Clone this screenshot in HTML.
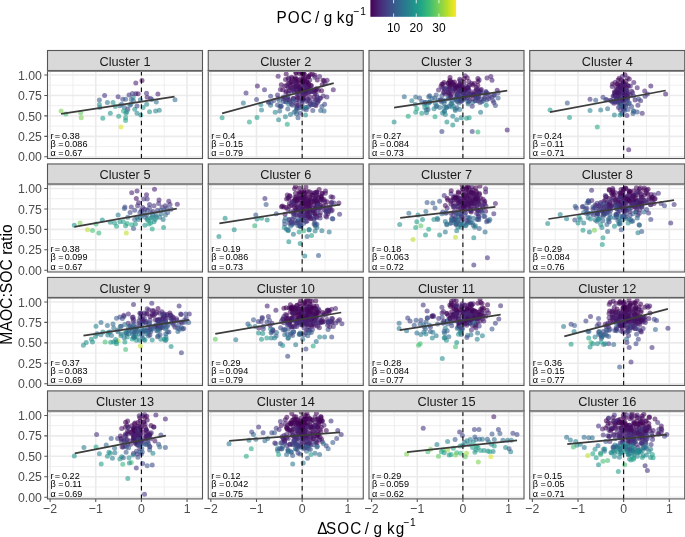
<!DOCTYPE html><html><head><meta charset="utf-8"><style>html,body{margin:0;padding:0;background:#fff;overflow:hidden}svg{display:block;will-change:transform}text{font-family:"Liberation Sans",sans-serif}</style></head><body>
<svg width="685" height="537" viewBox="0 0 685 537">
<defs><linearGradient id="vg" x1="0" x2="1" y1="0" y2="0"><stop offset="0.0" stop-color="#440154"/><stop offset="0.1" stop-color="#482576"/><stop offset="0.2" stop-color="#414487"/><stop offset="0.3" stop-color="#35608D"/><stop offset="0.4" stop-color="#2A788E"/><stop offset="0.5" stop-color="#21908C"/><stop offset="0.6" stop-color="#22A884"/><stop offset="0.7" stop-color="#43BF71"/><stop offset="0.8" stop-color="#7AD151"/><stop offset="0.9" stop-color="#BBDF27"/><stop offset="1.0" stop-color="#FDE725"/></linearGradient></defs>
<rect width="685" height="537" fill="#fff"/>
<g>
<rect x="47.50" y="70.50" width="155.00" height="88.00" fill="#fff"/>
<path d="M72.93 70.50V158.50M118.58 70.50V158.50M164.22 70.50V158.50M47.50 146.58H202.50M47.50 126.13H202.50M47.50 105.68H202.50M47.50 85.23H202.50" stroke="#EBEBEB" stroke-width="0.8" fill="none"/>
<path d="M50.10 70.50V158.50M95.75 70.50V158.50M141.40 70.50V158.50M187.05 70.50V158.50M47.50 156.80H202.50M47.50 136.35H202.50M47.50 115.90H202.50M47.50 95.45H202.50M47.50 75.00H202.50" stroke="#EBEBEB" stroke-width="1.6" fill="none"/>
<clipPath id="cp0"><rect x="47.50" y="70.50" width="155.00" height="88.00"/></clipPath>
<g fill-opacity="0.58" clip-path="url(#cp0)"><circle cx="125.6" cy="120.6" r="2.5" fill="#22a884"/><circle cx="150.6" cy="98.5" r="2.5" fill="#45327d"/><circle cx="121.5" cy="104.2" r="2.5" fill="#306c8e"/><circle cx="135.8" cy="83.0" r="2.5" fill="#482173"/><circle cx="124.4" cy="107.6" r="2.5" fill="#306c8e"/><circle cx="134.7" cy="109.2" r="2.5" fill="#21908c"/><circle cx="102.8" cy="118.3" r="2.5" fill="#229c88"/><circle cx="129.9" cy="105.3" r="2.5" fill="#306c8e"/><circle cx="107.4" cy="102.6" r="2.5" fill="#2a788e"/><circle cx="126.0" cy="113.3" r="2.5" fill="#21908c"/><circle cx="140.4" cy="99.8" r="2.5" fill="#306c8e"/><circle cx="143.1" cy="107.6" r="2.5" fill="#21908c"/><circle cx="138.1" cy="93.7" r="2.5" fill="#482173"/><circle cx="65.9" cy="114.0" r="2.5" fill="#43bf71"/><circle cx="133.1" cy="97.3" r="2.5" fill="#26848d"/><circle cx="123.5" cy="111.0" r="2.5" fill="#22a884"/><circle cx="121.0" cy="127.0" r="2.5" fill="#dce326"/><circle cx="81.2" cy="117.8" r="2.5" fill="#7ad151"/><circle cx="99.8" cy="107.6" r="2.5" fill="#2a788e"/><circle cx="137.0" cy="113.3" r="2.5" fill="#26848d"/><circle cx="127.8" cy="109.2" r="2.5" fill="#45327d"/><circle cx="149.5" cy="111.7" r="2.5" fill="#21908c"/><circle cx="122.8" cy="99.2" r="2.5" fill="#404587"/><circle cx="61.1" cy="111.0" r="2.5" fill="#7ad151"/><circle cx="159.3" cy="110.3" r="2.5" fill="#26848d"/><circle cx="147.2" cy="97.3" r="2.5" fill="#482173"/><circle cx="118.1" cy="96.7" r="2.5" fill="#45327d"/><circle cx="131.3" cy="99.6" r="2.5" fill="#306c8e"/><circle cx="175.0" cy="99.8" r="2.5" fill="#306c8e"/><circle cx="137.0" cy="106.0" r="2.5" fill="#404587"/><circle cx="155.6" cy="111.0" r="2.5" fill="#26848d"/><circle cx="140.8" cy="115.1" r="2.5" fill="#21908c"/><circle cx="80.7" cy="112.8" r="2.5" fill="#5ec861"/><circle cx="113.0" cy="102.6" r="2.5" fill="#21908c"/><circle cx="151.8" cy="99.6" r="2.5" fill="#38598b"/><circle cx="146.5" cy="93.2" r="2.5" fill="#45327d"/><circle cx="142.0" cy="80.5" r="2.5" fill="#450759"/><circle cx="115.3" cy="106.5" r="2.5" fill="#21908c"/><circle cx="133.5" cy="100.8" r="2.5" fill="#306c8e"/><circle cx="126.7" cy="111.7" r="2.5" fill="#21908c"/><circle cx="119.9" cy="105.8" r="2.5" fill="#306c8e"/><circle cx="118.7" cy="116.3" r="2.5" fill="#229c88"/><circle cx="104.6" cy="95.5" r="2.5" fill="#45327d"/><circle cx="125.6" cy="117.8" r="2.5" fill="#229c88"/><circle cx="135.8" cy="93.7" r="2.5" fill="#450d5f"/><circle cx="110.3" cy="113.3" r="2.5" fill="#21908c"/><circle cx="132.4" cy="93.5" r="2.5" fill="#404587"/><circle cx="99.4" cy="100.1" r="2.5" fill="#38598b"/><circle cx="125.6" cy="99.2" r="2.5" fill="#38598b"/><circle cx="129.0" cy="95.1" r="2.5" fill="#45327d"/><circle cx="99.4" cy="104.6" r="2.5" fill="#21908c"/><circle cx="156.3" cy="101.9" r="2.5" fill="#306c8e"/><circle cx="146.7" cy="104.2" r="2.5" fill="#26848d"/><circle cx="130.8" cy="104.2" r="2.5" fill="#306c8e"/><circle cx="157.9" cy="93.9" r="2.5" fill="#482173"/></g>
<path d="M141.40 158.50V70.50" stroke="#000" stroke-width="1.07" stroke-dasharray="4.5 3.8" fill="none"/>
<path d="M61.12 113.97L174.53 96.66" stroke="#3d3d3d" stroke-width="1.75" fill="none"/>
<g font-size="9.1" fill="#000"><text x="50.40" y="139.00">r</text><text x="54.80" y="139.00">=</text><text x="62.00" y="139.00">0.38</text><text x="50.40" y="147.00">β</text><text x="58.30" y="147.00">=</text><text x="64.70" y="147.00">0.086</text><text x="50.40" y="156.30">α</text><text x="58.30" y="156.30">=</text><text x="64.70" y="156.30">0.67</text></g>
<rect x="47.50" y="70.50" width="155.00" height="88.00" fill="none" stroke="#555" stroke-width="1.1"/>
<rect x="47.50" y="50.50" width="155.00" height="20.00" fill="#D9D9D9" stroke="#555" stroke-width="1.1"/>
<path d="M47.50 71.30H202.50" stroke="#8a8a8a" stroke-width="1.2"/>
<text x="125.00" y="65.70" font-size="12.75" fill="#1A1A1A" text-anchor="middle">Cluster 1</text>
<text transform="translate(41.90 161.40) scale(1 1.08)" font-size="12.3" fill="#4D4D4D" text-anchor="end">0.00</text>
<text transform="translate(41.90 140.95) scale(1 1.08)" font-size="12.3" fill="#4D4D4D" text-anchor="end">0.25</text>
<text transform="translate(41.90 120.50) scale(1 1.08)" font-size="12.3" fill="#4D4D4D" text-anchor="end">0.50</text>
<text transform="translate(41.90 100.05) scale(1 1.08)" font-size="12.3" fill="#4D4D4D" text-anchor="end">0.75</text>
<text transform="translate(41.90 79.60) scale(1 1.08)" font-size="12.3" fill="#4D4D4D" text-anchor="end">1.00</text>
<path d="M44.30 156.80H47.50M44.30 136.35H47.50M44.30 115.90H47.50M44.30 95.45H47.50M44.30 75.00H47.50" stroke="#555" stroke-width="1.07"/>
</g>
<g>
<rect x="208.25" y="70.50" width="155.00" height="88.00" fill="#fff"/>
<path d="M233.67 70.50V158.50M279.32 70.50V158.50M324.97 70.50V158.50M208.25 146.58H363.25M208.25 126.13H363.25M208.25 105.68H363.25M208.25 85.23H363.25" stroke="#EBEBEB" stroke-width="0.8" fill="none"/>
<path d="M210.85 70.50V158.50M256.50 70.50V158.50M302.15 70.50V158.50M347.80 70.50V158.50M208.25 156.80H363.25M208.25 136.35H363.25M208.25 115.90H363.25M208.25 95.45H363.25M208.25 75.00H363.25" stroke="#EBEBEB" stroke-width="1.6" fill="none"/>
<clipPath id="cp1"><rect x="208.25" y="70.50" width="155.00" height="88.00"/></clipPath>
<g fill-opacity="0.58" clip-path="url(#cp1)"><circle cx="315.7" cy="100.1" r="2.5" fill="#461768"/><circle cx="303.5" cy="95.1" r="2.5" fill="#471a6c"/><circle cx="306.0" cy="97.8" r="2.5" fill="#461264"/><circle cx="285.5" cy="101.6" r="2.5" fill="#433a82"/><circle cx="301.0" cy="72.1" r="2.5" fill="#440255"/><circle cx="303.4" cy="91.6" r="2.5" fill="#450b5d"/><circle cx="307.3" cy="101.7" r="2.5" fill="#45347e"/><circle cx="290.4" cy="114.4" r="2.5" fill="#2a788e"/><circle cx="295.8" cy="72.4" r="2.5" fill="#440255"/><circle cx="309.2" cy="87.6" r="2.5" fill="#482475"/><circle cx="278.0" cy="98.3" r="2.5" fill="#433b82"/><circle cx="280.4" cy="89.4" r="2.5" fill="#482173"/><circle cx="257.4" cy="85.9" r="2.5" fill="#482173"/><circle cx="268.4" cy="102.3" r="2.5" fill="#462e7b"/><circle cx="308.5" cy="106.6" r="2.5" fill="#424085"/><circle cx="307.5" cy="100.4" r="2.5" fill="#462d7a"/><circle cx="298.0" cy="117.8" r="2.5" fill="#38598b"/><circle cx="281.3" cy="84.8" r="2.5" fill="#450a5d"/><circle cx="297.6" cy="92.5" r="2.5" fill="#424185"/><circle cx="249.4" cy="121.9" r="2.5" fill="#22a884"/><circle cx="333.3" cy="89.8" r="2.5" fill="#482173"/><circle cx="295.9" cy="82.4" r="2.5" fill="#440255"/><circle cx="297.5" cy="99.8" r="2.5" fill="#433c82"/><circle cx="297.4" cy="81.9" r="2.5" fill="#450658"/><circle cx="302.6" cy="73.9" r="2.5" fill="#440255"/><circle cx="288.3" cy="79.1" r="2.5" fill="#45085b"/><circle cx="308.2" cy="83.4" r="2.5" fill="#450e60"/><circle cx="295.7" cy="111.0" r="2.5" fill="#2a788e"/><circle cx="308.2" cy="89.6" r="2.5" fill="#462c7a"/><circle cx="308.2" cy="99.2" r="2.5" fill="#414487"/><circle cx="286.2" cy="102.0" r="2.5" fill="#32668d"/><circle cx="295.3" cy="77.5" r="2.5" fill="#440356"/><circle cx="316.8" cy="88.7" r="2.5" fill="#461466"/><circle cx="302.6" cy="101.2" r="2.5" fill="#365d8c"/><circle cx="292.6" cy="105.3" r="2.5" fill="#38588b"/><circle cx="283.4" cy="97.1" r="2.5" fill="#433a82"/><circle cx="297.2" cy="109.2" r="2.5" fill="#3b528a"/><circle cx="296.2" cy="79.1" r="2.5" fill="#440255"/><circle cx="305.3" cy="85.5" r="2.5" fill="#482576"/><circle cx="314.8" cy="75.2" r="2.5" fill="#440255"/><circle cx="309.4" cy="100.9" r="2.5" fill="#472b79"/><circle cx="286.6" cy="85.7" r="2.5" fill="#461163"/><circle cx="318.4" cy="90.2" r="2.5" fill="#471869"/><circle cx="304.0" cy="87.7" r="2.5" fill="#472978"/><circle cx="278.6" cy="119.7" r="2.5" fill="#26848d"/><circle cx="307.5" cy="87.8" r="2.5" fill="#450b5e"/><circle cx="308.7" cy="76.1" r="2.5" fill="#47196a"/><circle cx="304.7" cy="84.9" r="2.5" fill="#460f61"/><circle cx="317.3" cy="80.0" r="2.5" fill="#450658"/><circle cx="279.9" cy="106.4" r="2.5" fill="#3e4b89"/><circle cx="275.2" cy="112.2" r="2.5" fill="#26848d"/><circle cx="324.1" cy="80.8" r="2.5" fill="#440255"/><circle cx="277.5" cy="105.1" r="2.5" fill="#3a558b"/><circle cx="299.7" cy="87.5" r="2.5" fill="#450759"/><circle cx="315.9" cy="89.0" r="2.5" fill="#471a6c"/><circle cx="302.4" cy="72.5" r="2.5" fill="#460f61"/><circle cx="303.3" cy="82.1" r="2.5" fill="#440457"/><circle cx="296.5" cy="113.8" r="2.5" fill="#35608d"/><circle cx="289.3" cy="90.5" r="2.5" fill="#461365"/><circle cx="299.7" cy="87.6" r="2.5" fill="#471b6c"/><circle cx="308.2" cy="90.1" r="2.5" fill="#46307c"/><circle cx="306.5" cy="84.3" r="2.5" fill="#471c6e"/><circle cx="287.8" cy="96.8" r="2.5" fill="#450e61"/><circle cx="293.2" cy="98.5" r="2.5" fill="#423f84"/><circle cx="312.4" cy="73.9" r="2.5" fill="#440255"/><circle cx="299.6" cy="100.8" r="2.5" fill="#45327d"/><circle cx="319.8" cy="98.3" r="2.5" fill="#3f4888"/><circle cx="304.1" cy="74.1" r="2.5" fill="#440558"/><circle cx="303.5" cy="83.2" r="2.5" fill="#450659"/><circle cx="270.6" cy="105.3" r="2.5" fill="#306c8e"/><circle cx="271.1" cy="102.6" r="2.5" fill="#38598b"/><circle cx="283.1" cy="98.7" r="2.5" fill="#461768"/><circle cx="299.3" cy="73.6" r="2.5" fill="#440255"/><circle cx="296.1" cy="81.0" r="2.5" fill="#45085b"/><circle cx="311.0" cy="105.1" r="2.5" fill="#433d83"/><circle cx="293.3" cy="87.6" r="2.5" fill="#450b5e"/><circle cx="314.2" cy="97.0" r="2.5" fill="#450b5d"/><circle cx="302.1" cy="91.5" r="2.5" fill="#482475"/><circle cx="287.3" cy="124.2" r="2.5" fill="#22a884"/><circle cx="246.0" cy="93.0" r="2.5" fill="#45327d"/><circle cx="257.0" cy="117.4" r="2.5" fill="#229c88"/><circle cx="302.5" cy="100.1" r="2.5" fill="#32688d"/><circle cx="296.7" cy="85.7" r="2.5" fill="#461769"/><circle cx="296.0" cy="89.0" r="2.5" fill="#45347e"/><circle cx="303.8" cy="109.1" r="2.5" fill="#34628d"/><circle cx="299.0" cy="95.6" r="2.5" fill="#45347e"/><circle cx="320.4" cy="98.2" r="2.5" fill="#471a6c"/><circle cx="291.6" cy="77.2" r="2.5" fill="#440255"/><circle cx="315.2" cy="104.9" r="2.5" fill="#404687"/><circle cx="315.9" cy="105.5" r="2.5" fill="#47196b"/><circle cx="296.9" cy="97.0" r="2.5" fill="#461668"/><circle cx="305.4" cy="94.0" r="2.5" fill="#471e70"/><circle cx="310.5" cy="91.1" r="2.5" fill="#461264"/><circle cx="302.6" cy="74.0" r="2.5" fill="#440255"/><circle cx="306.4" cy="107.6" r="2.5" fill="#2a788e"/><circle cx="273.9" cy="100.6" r="2.5" fill="#3f4988"/><circle cx="260.8" cy="104.6" r="2.5" fill="#26848d"/><circle cx="306.1" cy="81.5" r="2.5" fill="#440356"/><circle cx="295.0" cy="79.3" r="2.5" fill="#440255"/><circle cx="320.7" cy="110.6" r="2.5" fill="#35618d"/><circle cx="306.9" cy="82.2" r="2.5" fill="#450e60"/><circle cx="299.4" cy="107.5" r="2.5" fill="#3e4a88"/><circle cx="308.5" cy="76.7" r="2.5" fill="#45095c"/><circle cx="297.5" cy="98.2" r="2.5" fill="#450b5d"/><circle cx="270.6" cy="96.2" r="2.5" fill="#404587"/><circle cx="309.8" cy="79.9" r="2.5" fill="#461769"/><circle cx="278.1" cy="76.2" r="2.5" fill="#482173"/><circle cx="311.3" cy="85.7" r="2.5" fill="#450c5e"/><circle cx="299.9" cy="90.2" r="2.5" fill="#450659"/><circle cx="302.0" cy="107.7" r="2.5" fill="#365d8c"/><circle cx="302.6" cy="81.0" r="2.5" fill="#45095c"/><circle cx="296.2" cy="103.2" r="2.5" fill="#461567"/><circle cx="288.5" cy="87.6" r="2.5" fill="#460f61"/><circle cx="293.1" cy="90.1" r="2.5" fill="#482273"/><circle cx="291.1" cy="88.0" r="2.5" fill="#450b5e"/><circle cx="288.8" cy="78.0" r="2.5" fill="#482173"/><circle cx="288.4" cy="93.2" r="2.5" fill="#462c7a"/><circle cx="324.1" cy="111.0" r="2.5" fill="#306c8e"/><circle cx="316.5" cy="95.0" r="2.5" fill="#433d83"/><circle cx="298.9" cy="105.2" r="2.5" fill="#462e7b"/><circle cx="306.3" cy="109.8" r="2.5" fill="#404587"/><circle cx="291.4" cy="81.6" r="2.5" fill="#45085a"/><circle cx="222.1" cy="117.8" r="2.5" fill="#229c88"/><circle cx="298.8" cy="80.2" r="2.5" fill="#440558"/><circle cx="303.0" cy="79.5" r="2.5" fill="#45095c"/><circle cx="304.8" cy="78.8" r="2.5" fill="#450658"/><circle cx="310.1" cy="97.3" r="2.5" fill="#450e60"/><circle cx="285.0" cy="97.6" r="2.5" fill="#471e6f"/><circle cx="308.3" cy="92.9" r="2.5" fill="#461768"/><circle cx="296.3" cy="72.9" r="2.5" fill="#440255"/><circle cx="299.8" cy="90.6" r="2.5" fill="#471d6f"/><circle cx="288.1" cy="83.4" r="2.5" fill="#450759"/><circle cx="317.4" cy="102.8" r="2.5" fill="#472a79"/><circle cx="306.6" cy="93.3" r="2.5" fill="#460f61"/><circle cx="300.2" cy="113.3" r="2.5" fill="#404587"/><circle cx="325.2" cy="83.4" r="2.5" fill="#461769"/><circle cx="317.6" cy="101.0" r="2.5" fill="#462d7b"/><circle cx="294.1" cy="112.2" r="2.5" fill="#306c8e"/><circle cx="313.6" cy="91.8" r="2.5" fill="#471a6b"/><circle cx="304.2" cy="91.0" r="2.5" fill="#461062"/><circle cx="294.1" cy="91.5" r="2.5" fill="#460f61"/><circle cx="311.2" cy="91.4" r="2.5" fill="#450c5e"/><circle cx="285.9" cy="92.6" r="2.5" fill="#461466"/><circle cx="319.6" cy="76.4" r="2.5" fill="#482173"/><circle cx="312.9" cy="101.8" r="2.5" fill="#45327d"/><circle cx="285.4" cy="116.7" r="2.5" fill="#26848d"/><circle cx="281.2" cy="106.5" r="2.5" fill="#443981"/><circle cx="313.2" cy="104.4" r="2.5" fill="#423f84"/><circle cx="305.4" cy="107.4" r="2.5" fill="#2a798e"/><circle cx="303.5" cy="91.0" r="2.5" fill="#461668"/><circle cx="321.6" cy="90.8" r="2.5" fill="#440457"/><circle cx="261.5" cy="109.9" r="2.5" fill="#26848d"/><circle cx="293.4" cy="98.5" r="2.5" fill="#461264"/><circle cx="300.8" cy="85.7" r="2.5" fill="#482374"/><circle cx="324.6" cy="104.2" r="2.5" fill="#404587"/><circle cx="283.4" cy="101.4" r="2.5" fill="#3c4f89"/><circle cx="303.5" cy="98.2" r="2.5" fill="#461668"/><circle cx="292.5" cy="84.1" r="2.5" fill="#440255"/><circle cx="312.8" cy="110.6" r="2.5" fill="#3f4888"/><circle cx="303.0" cy="93.5" r="2.5" fill="#471c6d"/><circle cx="300.8" cy="91.8" r="2.5" fill="#471d6f"/><circle cx="288.8" cy="104.2" r="2.5" fill="#2a788e"/><circle cx="327.1" cy="80.3" r="2.5" fill="#482173"/><circle cx="297.0" cy="93.6" r="2.5" fill="#471c6e"/><circle cx="291.3" cy="82.6" r="2.5" fill="#440356"/><circle cx="289.5" cy="83.1" r="2.5" fill="#450d60"/><circle cx="308.4" cy="77.0" r="2.5" fill="#440255"/><circle cx="282.7" cy="89.8" r="2.5" fill="#45075a"/><circle cx="296.9" cy="107.6" r="2.5" fill="#26828d"/><circle cx="264.5" cy="89.8" r="2.5" fill="#45327d"/><circle cx="284.7" cy="85.9" r="2.5" fill="#461668"/><circle cx="299.2" cy="87.1" r="2.5" fill="#460f61"/><circle cx="279.4" cy="100.4" r="2.5" fill="#35608d"/><circle cx="321.9" cy="106.5" r="2.5" fill="#38598b"/><circle cx="302.7" cy="99.0" r="2.5" fill="#461466"/><circle cx="302.1" cy="103.7" r="2.5" fill="#472a79"/><circle cx="317.3" cy="97.3" r="2.5" fill="#45327d"/><circle cx="243.3" cy="103.0" r="2.5" fill="#2a788e"/><circle cx="326.9" cy="96.9" r="2.5" fill="#45327d"/><circle cx="314.8" cy="90.3" r="2.5" fill="#471869"/><circle cx="300.3" cy="83.2" r="2.5" fill="#440356"/><circle cx="303.2" cy="78.1" r="2.5" fill="#461163"/><circle cx="303.0" cy="99.4" r="2.5" fill="#461062"/><circle cx="291.1" cy="91.1" r="2.5" fill="#482172"/><circle cx="286.3" cy="91.0" r="2.5" fill="#461668"/><circle cx="287.3" cy="98.3" r="2.5" fill="#375c8c"/><circle cx="298.9" cy="88.1" r="2.5" fill="#482273"/><circle cx="296.7" cy="107.9" r="2.5" fill="#433a81"/><circle cx="301.5" cy="96.3" r="2.5" fill="#461668"/><circle cx="292.1" cy="78.8" r="2.5" fill="#440255"/><circle cx="285.5" cy="79.6" r="2.5" fill="#450b5d"/><circle cx="308.2" cy="86.9" r="2.5" fill="#450e60"/><circle cx="306.2" cy="83.7" r="2.5" fill="#45095c"/><circle cx="314.8" cy="77.2" r="2.5" fill="#472071"/><circle cx="287.6" cy="99.7" r="2.5" fill="#472a79"/><circle cx="277.5" cy="95.1" r="2.5" fill="#45327d"/><circle cx="290.3" cy="86.2" r="2.5" fill="#460f62"/><circle cx="305.9" cy="90.4" r="2.5" fill="#450d60"/><circle cx="289.8" cy="101.7" r="2.5" fill="#3d4e89"/><circle cx="307.0" cy="81.8" r="2.5" fill="#45095b"/><circle cx="292.7" cy="100.3" r="2.5" fill="#3c508a"/><circle cx="300.7" cy="78.8" r="2.5" fill="#440255"/><circle cx="304.7" cy="78.5" r="2.5" fill="#440255"/><circle cx="287.8" cy="109.1" r="2.5" fill="#385a8c"/><circle cx="297.1" cy="85.7" r="2.5" fill="#45075a"/><circle cx="280.9" cy="105.8" r="2.5" fill="#38598b"/><circle cx="256.5" cy="99.6" r="2.5" fill="#404587"/><circle cx="304.1" cy="74.1" r="2.5" fill="#440255"/><circle cx="300.3" cy="89.5" r="2.5" fill="#440255"/><circle cx="294.6" cy="89.3" r="2.5" fill="#482172"/><circle cx="309.1" cy="91.6" r="2.5" fill="#482374"/><circle cx="310.5" cy="74.6" r="2.5" fill="#440558"/><circle cx="318.5" cy="100.9" r="2.5" fill="#433d83"/><circle cx="305.5" cy="115.1" r="2.5" fill="#21908c"/><circle cx="302.5" cy="81.8" r="2.5" fill="#440457"/><circle cx="279.7" cy="111.0" r="2.5" fill="#306c8e"/><circle cx="310.4" cy="92.0" r="2.5" fill="#462e7b"/><circle cx="297.0" cy="105.6" r="2.5" fill="#482273"/><circle cx="303.7" cy="88.6" r="2.5" fill="#471a6b"/><circle cx="323.2" cy="96.0" r="2.5" fill="#482273"/><circle cx="296.8" cy="90.4" r="2.5" fill="#461567"/><circle cx="317.1" cy="99.6" r="2.5" fill="#462e7b"/><circle cx="315.4" cy="90.5" r="2.5" fill="#45095c"/><circle cx="295.8" cy="86.8" r="2.5" fill="#482677"/><circle cx="295.5" cy="86.6" r="2.5" fill="#450658"/><circle cx="305.6" cy="86.0" r="2.5" fill="#482475"/><circle cx="323.0" cy="80.3" r="2.5" fill="#440457"/><circle cx="312.8" cy="104.2" r="2.5" fill="#38598b"/><circle cx="302.9" cy="92.1" r="2.5" fill="#482676"/><circle cx="294.8" cy="82.4" r="2.5" fill="#47186a"/><circle cx="310.6" cy="103.9" r="2.5" fill="#462f7c"/><circle cx="315.0" cy="93.4" r="2.5" fill="#461264"/><circle cx="308.8" cy="84.0" r="2.5" fill="#440255"/><circle cx="291.6" cy="104.2" r="2.5" fill="#45347e"/><circle cx="268.8" cy="102.1" r="2.5" fill="#3b528a"/><circle cx="322.2" cy="84.8" r="2.5" fill="#45085a"/><circle cx="286.2" cy="74.0" r="2.5" fill="#45095c"/><circle cx="310.9" cy="85.6" r="2.5" fill="#45075a"/><circle cx="289.6" cy="99.9" r="2.5" fill="#472878"/><circle cx="293.4" cy="101.1" r="2.5" fill="#3c508a"/></g>
<path d="M302.15 158.50V70.50" stroke="#000" stroke-width="1.07" stroke-dasharray="4.5 3.8" fill="none"/>
<path d="M222.12 113.29L333.71 83.21" stroke="#3d3d3d" stroke-width="1.75" fill="none"/>
<g font-size="9.1" fill="#000"><text x="211.15" y="139.00">r</text><text x="215.55" y="139.00">=</text><text x="222.75" y="139.00">0.4</text><text x="211.15" y="147.00">β</text><text x="219.05" y="147.00">=</text><text x="225.45" y="147.00">0.15</text><text x="211.15" y="156.30">α</text><text x="219.05" y="156.30">=</text><text x="225.45" y="156.30">0.79</text></g>
<rect x="208.25" y="70.50" width="155.00" height="88.00" fill="none" stroke="#555" stroke-width="1.1"/>
<rect x="208.25" y="50.50" width="155.00" height="20.00" fill="#D9D9D9" stroke="#555" stroke-width="1.1"/>
<path d="M208.25 71.30H363.25" stroke="#8a8a8a" stroke-width="1.2"/>
<text x="285.75" y="65.70" font-size="12.75" fill="#1A1A1A" text-anchor="middle">Cluster 2</text>
</g>
<g>
<rect x="369.00" y="70.50" width="155.00" height="88.00" fill="#fff"/>
<path d="M394.42 70.50V158.50M440.07 70.50V158.50M485.72 70.50V158.50M369.00 146.58H524.00M369.00 126.13H524.00M369.00 105.68H524.00M369.00 85.23H524.00" stroke="#EBEBEB" stroke-width="0.8" fill="none"/>
<path d="M371.60 70.50V158.50M417.25 70.50V158.50M462.90 70.50V158.50M508.55 70.50V158.50M369.00 156.80H524.00M369.00 136.35H524.00M369.00 115.90H524.00M369.00 95.45H524.00M369.00 75.00H524.00" stroke="#EBEBEB" stroke-width="1.6" fill="none"/>
<clipPath id="cp2"><rect x="369.00" y="70.50" width="155.00" height="88.00"/></clipPath>
<g fill-opacity="0.58" clip-path="url(#cp2)"><circle cx="462.2" cy="86.7" r="2.5" fill="#460f61"/><circle cx="458.4" cy="94.7" r="2.5" fill="#3b528a"/><circle cx="493.8" cy="102.6" r="2.5" fill="#45327d"/><circle cx="456.1" cy="94.8" r="2.5" fill="#3c508a"/><circle cx="449.6" cy="96.6" r="2.5" fill="#35608d"/><circle cx="460.0" cy="99.5" r="2.5" fill="#35608d"/><circle cx="451.6" cy="93.7" r="2.5" fill="#450d5f"/><circle cx="458.9" cy="96.7" r="2.5" fill="#3b538a"/><circle cx="448.9" cy="98.7" r="2.5" fill="#3d4d89"/><circle cx="429.7" cy="95.8" r="2.5" fill="#3d4d89"/><circle cx="487.6" cy="93.4" r="2.5" fill="#44357f"/><circle cx="461.1" cy="87.6" r="2.5" fill="#461466"/><circle cx="474.2" cy="95.2" r="2.5" fill="#424085"/><circle cx="455.6" cy="89.6" r="2.5" fill="#47186a"/><circle cx="472.8" cy="102.2" r="2.5" fill="#2c738e"/><circle cx="456.8" cy="87.8" r="2.5" fill="#440558"/><circle cx="463.9" cy="82.4" r="2.5" fill="#440457"/><circle cx="478.5" cy="95.5" r="2.5" fill="#462f7b"/><circle cx="481.9" cy="101.8" r="2.5" fill="#365d8c"/><circle cx="456.7" cy="119.7" r="2.5" fill="#26848d"/><circle cx="460.8" cy="90.4" r="2.5" fill="#461062"/><circle cx="470.6" cy="94.3" r="2.5" fill="#472071"/><circle cx="460.6" cy="88.2" r="2.5" fill="#47186a"/><circle cx="450.0" cy="77.6" r="2.5" fill="#440255"/><circle cx="424.2" cy="104.0" r="2.5" fill="#297c8e"/><circle cx="457.8" cy="93.8" r="2.5" fill="#462c7a"/><circle cx="444.4" cy="107.0" r="2.5" fill="#277f8d"/><circle cx="448.1" cy="83.4" r="2.5" fill="#440457"/><circle cx="436.2" cy="106.8" r="2.5" fill="#2e6f8e"/><circle cx="421.8" cy="101.5" r="2.5" fill="#39568b"/><circle cx="493.0" cy="100.4" r="2.5" fill="#404587"/><circle cx="477.1" cy="97.7" r="2.5" fill="#462e7b"/><circle cx="489.9" cy="96.3" r="2.5" fill="#414587"/><circle cx="449.6" cy="93.9" r="2.5" fill="#472071"/><circle cx="476.3" cy="97.4" r="2.5" fill="#3f4888"/><circle cx="488.8" cy="98.6" r="2.5" fill="#482273"/><circle cx="485.5" cy="93.6" r="2.5" fill="#433d83"/><circle cx="457.2" cy="101.4" r="2.5" fill="#423f84"/><circle cx="446.9" cy="121.9" r="2.5" fill="#21908c"/><circle cx="419.6" cy="98.0" r="2.5" fill="#38598b"/><circle cx="455.2" cy="87.0" r="2.5" fill="#45085b"/><circle cx="465.9" cy="96.1" r="2.5" fill="#3e4a88"/><circle cx="467.6" cy="88.6" r="2.5" fill="#461769"/><circle cx="458.8" cy="102.9" r="2.5" fill="#31688d"/><circle cx="452.7" cy="91.1" r="2.5" fill="#471d6f"/><circle cx="441.9" cy="131.5" r="2.5" fill="#404587"/><circle cx="404.3" cy="96.7" r="2.5" fill="#306c8e"/><circle cx="490.8" cy="76.4" r="2.5" fill="#482173"/><circle cx="461.6" cy="99.0" r="2.5" fill="#45095b"/><circle cx="494.1" cy="95.2" r="2.5" fill="#433c83"/><circle cx="470.5" cy="96.1" r="2.5" fill="#472878"/><circle cx="444.4" cy="89.0" r="2.5" fill="#482475"/><circle cx="497.2" cy="90.3" r="2.5" fill="#471b6c"/><circle cx="456.2" cy="98.9" r="2.5" fill="#443880"/><circle cx="468.9" cy="81.4" r="2.5" fill="#450c5e"/><circle cx="452.1" cy="101.3" r="2.5" fill="#2e708e"/><circle cx="443.4" cy="100.4" r="2.5" fill="#32668d"/><circle cx="451.9" cy="86.4" r="2.5" fill="#482777"/><circle cx="486.7" cy="99.9" r="2.5" fill="#3f4888"/><circle cx="415.7" cy="112.2" r="2.5" fill="#229c88"/><circle cx="468.2" cy="104.1" r="2.5" fill="#287c8e"/><circle cx="465.0" cy="96.1" r="2.5" fill="#45327d"/><circle cx="467.8" cy="88.0" r="2.5" fill="#472878"/><circle cx="465.1" cy="92.8" r="2.5" fill="#472978"/><circle cx="448.2" cy="83.2" r="2.5" fill="#450a5c"/><circle cx="498.1" cy="92.8" r="2.5" fill="#404587"/><circle cx="474.0" cy="91.7" r="2.5" fill="#471b6c"/><circle cx="459.1" cy="100.7" r="2.5" fill="#433b82"/><circle cx="477.9" cy="78.6" r="2.5" fill="#440255"/><circle cx="444.0" cy="82.5" r="2.5" fill="#440255"/><circle cx="448.2" cy="92.3" r="2.5" fill="#461365"/><circle cx="441.6" cy="102.0" r="2.5" fill="#306a8d"/><circle cx="452.8" cy="116.2" r="2.5" fill="#27818d"/><circle cx="456.2" cy="100.0" r="2.5" fill="#2f6e8e"/><circle cx="477.8" cy="85.4" r="2.5" fill="#450a5c"/><circle cx="459.7" cy="109.4" r="2.5" fill="#2b778e"/><circle cx="438.1" cy="100.0" r="2.5" fill="#3a558b"/><circle cx="466.7" cy="94.8" r="2.5" fill="#414286"/><circle cx="460.0" cy="80.7" r="2.5" fill="#47186a"/><circle cx="458.5" cy="86.6" r="2.5" fill="#450b5d"/><circle cx="483.4" cy="100.5" r="2.5" fill="#306b8d"/><circle cx="462.6" cy="97.1" r="2.5" fill="#3e4a88"/><circle cx="416.8" cy="108.7" r="2.5" fill="#22a884"/><circle cx="444.3" cy="111.2" r="2.5" fill="#26828d"/><circle cx="451.0" cy="81.9" r="2.5" fill="#440255"/><circle cx="449.4" cy="88.6" r="2.5" fill="#471869"/><circle cx="463.6" cy="93.8" r="2.5" fill="#461769"/><circle cx="421.8" cy="113.3" r="2.5" fill="#229c88"/><circle cx="427.1" cy="106.5" r="2.5" fill="#21908c"/><circle cx="460.6" cy="86.3" r="2.5" fill="#461466"/><circle cx="487.0" cy="78.0" r="2.5" fill="#482173"/><circle cx="444.4" cy="111.2" r="2.5" fill="#2c748e"/><circle cx="439.8" cy="107.4" r="2.5" fill="#2e708e"/><circle cx="495.4" cy="105.4" r="2.5" fill="#3b518a"/><circle cx="463.2" cy="93.1" r="2.5" fill="#414487"/><circle cx="452.8" cy="125.1" r="2.5" fill="#21908c"/><circle cx="408.2" cy="116.3" r="2.5" fill="#22a884"/><circle cx="443.0" cy="83.9" r="2.5" fill="#461466"/><circle cx="477.8" cy="92.9" r="2.5" fill="#450a5d"/><circle cx="428.7" cy="96.7" r="2.5" fill="#306c8e"/><circle cx="448.3" cy="89.5" r="2.5" fill="#450d60"/><circle cx="472.2" cy="106.3" r="2.5" fill="#433981"/><circle cx="467.5" cy="87.7" r="2.5" fill="#45085b"/><circle cx="469.4" cy="85.0" r="2.5" fill="#471e70"/><circle cx="456.8" cy="96.7" r="2.5" fill="#462c7a"/><circle cx="442.8" cy="88.2" r="2.5" fill="#482576"/><circle cx="507.2" cy="129.9" r="2.5" fill="#482173"/><circle cx="469.2" cy="90.5" r="2.5" fill="#461668"/><circle cx="469.2" cy="100.6" r="2.5" fill="#44367f"/><circle cx="454.2" cy="88.7" r="2.5" fill="#461365"/><circle cx="485.9" cy="91.5" r="2.5" fill="#423f84"/><circle cx="450.9" cy="103.7" r="2.5" fill="#297a8e"/><circle cx="475.2" cy="100.7" r="2.5" fill="#433b82"/><circle cx="472.2" cy="131.5" r="2.5" fill="#404587"/><circle cx="451.8" cy="103.5" r="2.5" fill="#2c738e"/><circle cx="451.1" cy="90.1" r="2.5" fill="#472878"/><circle cx="459.6" cy="90.4" r="2.5" fill="#45085b"/><circle cx="451.8" cy="97.9" r="2.5" fill="#44367f"/><circle cx="480.6" cy="90.2" r="2.5" fill="#433a81"/><circle cx="478.2" cy="97.2" r="2.5" fill="#443780"/><circle cx="415.7" cy="96.9" r="2.5" fill="#306c8e"/><circle cx="463.9" cy="87.2" r="2.5" fill="#433d83"/><circle cx="477.9" cy="132.0" r="2.5" fill="#32b47a"/><circle cx="469.3" cy="94.8" r="2.5" fill="#482576"/><circle cx="461.4" cy="99.7" r="2.5" fill="#365d8c"/><circle cx="456.8" cy="87.3" r="2.5" fill="#440255"/><circle cx="479.2" cy="80.1" r="2.5" fill="#462d7b"/><circle cx="442.6" cy="113.0" r="2.5" fill="#27818d"/><circle cx="461.6" cy="100.7" r="2.5" fill="#462d7b"/><circle cx="452.7" cy="82.6" r="2.5" fill="#440255"/><circle cx="465.1" cy="75.7" r="2.5" fill="#482173"/><circle cx="472.7" cy="98.9" r="2.5" fill="#471c6d"/><circle cx="459.6" cy="91.6" r="2.5" fill="#45085b"/><circle cx="465.2" cy="90.0" r="2.5" fill="#471f70"/><circle cx="461.0" cy="101.4" r="2.5" fill="#404587"/><circle cx="463.2" cy="92.8" r="2.5" fill="#482374"/><circle cx="492.0" cy="80.3" r="2.5" fill="#482173"/><circle cx="494.2" cy="94.9" r="2.5" fill="#433a81"/><circle cx="473.0" cy="94.0" r="2.5" fill="#482576"/><circle cx="450.3" cy="83.6" r="2.5" fill="#440457"/><circle cx="435.0" cy="116.7" r="2.5" fill="#22a884"/><circle cx="467.2" cy="77.7" r="2.5" fill="#440255"/><circle cx="498.1" cy="98.0" r="2.5" fill="#38598b"/><circle cx="476.3" cy="87.4" r="2.5" fill="#440255"/><circle cx="478.0" cy="81.4" r="2.5" fill="#440457"/><circle cx="471.7" cy="83.5" r="2.5" fill="#461365"/><circle cx="460.9" cy="91.9" r="2.5" fill="#462e7b"/><circle cx="474.3" cy="83.6" r="2.5" fill="#461466"/><circle cx="473.5" cy="93.9" r="2.5" fill="#461365"/><circle cx="461.0" cy="97.8" r="2.5" fill="#443881"/><circle cx="468.6" cy="101.3" r="2.5" fill="#3f4888"/><circle cx="443.5" cy="92.7" r="2.5" fill="#462f7b"/><circle cx="451.5" cy="84.6" r="2.5" fill="#450a5d"/><circle cx="460.4" cy="90.9" r="2.5" fill="#450c5e"/><circle cx="481.6" cy="99.1" r="2.5" fill="#44357f"/><circle cx="448.2" cy="92.9" r="2.5" fill="#461365"/><circle cx="444.9" cy="100.8" r="2.5" fill="#33648d"/><circle cx="486.1" cy="92.2" r="2.5" fill="#45347e"/><circle cx="466.5" cy="118.3" r="2.5" fill="#229c88"/><circle cx="484.5" cy="98.4" r="2.5" fill="#404788"/><circle cx="449.1" cy="87.0" r="2.5" fill="#450a5d"/><circle cx="453.3" cy="106.1" r="2.5" fill="#2b768e"/><circle cx="429.0" cy="102.6" r="2.5" fill="#306b8d"/><circle cx="472.9" cy="85.1" r="2.5" fill="#440255"/><circle cx="461.2" cy="117.8" r="2.5" fill="#26848d"/><circle cx="456.0" cy="91.3" r="2.5" fill="#461466"/><circle cx="432.2" cy="98.4" r="2.5" fill="#35608d"/><circle cx="478.2" cy="89.5" r="2.5" fill="#45307c"/><circle cx="457.3" cy="94.8" r="2.5" fill="#471d6e"/><circle cx="476.7" cy="90.7" r="2.5" fill="#461769"/><circle cx="429.3" cy="102.3" r="2.5" fill="#31698d"/><circle cx="476.5" cy="89.4" r="2.5" fill="#47196b"/><circle cx="445.5" cy="87.9" r="2.5" fill="#462e7b"/><circle cx="425.4" cy="102.6" r="2.5" fill="#33658d"/><circle cx="479.6" cy="91.7" r="2.5" fill="#440255"/><circle cx="467.4" cy="97.6" r="2.5" fill="#461668"/><circle cx="450.2" cy="85.5" r="2.5" fill="#440457"/><circle cx="458.3" cy="94.4" r="2.5" fill="#404687"/><circle cx="456.9" cy="107.8" r="2.5" fill="#34628d"/><circle cx="463.0" cy="87.7" r="2.5" fill="#461567"/><circle cx="463.9" cy="90.9" r="2.5" fill="#443981"/><circle cx="425.2" cy="102.6" r="2.5" fill="#375b8c"/><circle cx="476.3" cy="96.9" r="2.5" fill="#3e4a88"/><circle cx="451.6" cy="106.9" r="2.5" fill="#228f8c"/><circle cx="464.8" cy="90.5" r="2.5" fill="#47196b"/><circle cx="429.8" cy="101.8" r="2.5" fill="#2f6c8e"/><circle cx="480.4" cy="92.8" r="2.5" fill="#45317d"/><circle cx="441.9" cy="95.8" r="2.5" fill="#3d4d89"/><circle cx="441.0" cy="86.3" r="2.5" fill="#461769"/><circle cx="468.6" cy="93.9" r="2.5" fill="#462e7b"/><circle cx="434.0" cy="108.8" r="2.5" fill="#25858d"/><circle cx="424.8" cy="107.6" r="2.5" fill="#229c88"/><circle cx="453.9" cy="84.5" r="2.5" fill="#461264"/><circle cx="445.4" cy="94.1" r="2.5" fill="#471a6b"/><circle cx="440.5" cy="99.7" r="2.5" fill="#2b768e"/><circle cx="491.7" cy="97.2" r="2.5" fill="#404788"/><circle cx="456.3" cy="88.1" r="2.5" fill="#461769"/><circle cx="440.9" cy="100.2" r="2.5" fill="#472b79"/><circle cx="460.0" cy="97.1" r="2.5" fill="#423e84"/><circle cx="481.1" cy="92.6" r="2.5" fill="#3b528a"/><circle cx="436.2" cy="95.1" r="2.5" fill="#38598b"/><circle cx="426.2" cy="110.0" r="2.5" fill="#2e708e"/><circle cx="457.5" cy="87.0" r="2.5" fill="#450a5c"/><circle cx="465.4" cy="89.4" r="2.5" fill="#440356"/><circle cx="486.3" cy="105.3" r="2.5" fill="#21908c"/><circle cx="478.7" cy="92.2" r="2.5" fill="#472878"/><circle cx="446.5" cy="107.4" r="2.5" fill="#287c8e"/><circle cx="441.9" cy="84.3" r="2.5" fill="#440255"/><circle cx="469.2" cy="93.4" r="2.5" fill="#44357f"/><circle cx="394.1" cy="121.9" r="2.5" fill="#21908c"/><circle cx="436.7" cy="105.7" r="2.5" fill="#32668d"/><circle cx="463.9" cy="98.9" r="2.5" fill="#471a6b"/><circle cx="459.9" cy="83.5" r="2.5" fill="#461466"/><circle cx="435.2" cy="103.3" r="2.5" fill="#2a788e"/><circle cx="476.2" cy="100.3" r="2.5" fill="#3c508a"/><circle cx="411.8" cy="100.8" r="2.5" fill="#26848d"/><circle cx="455.3" cy="110.6" r="2.5" fill="#26848d"/><circle cx="445.3" cy="114.4" r="2.5" fill="#26848d"/><circle cx="450.2" cy="80.3" r="2.5" fill="#45095c"/><circle cx="448.9" cy="106.2" r="2.5" fill="#33648d"/><circle cx="469.0" cy="91.0" r="2.5" fill="#482777"/><circle cx="480.6" cy="112.2" r="2.5" fill="#2a788e"/><circle cx="444.1" cy="103.3" r="2.5" fill="#33658d"/><circle cx="449.4" cy="81.3" r="2.5" fill="#45075a"/><circle cx="460.5" cy="84.8" r="2.5" fill="#45095b"/><circle cx="485.1" cy="96.6" r="2.5" fill="#44367f"/><circle cx="428.1" cy="109.4" r="2.5" fill="#35618d"/><circle cx="459.2" cy="90.8" r="2.5" fill="#433d83"/><circle cx="446.7" cy="107.2" r="2.5" fill="#2f6c8e"/><circle cx="426.5" cy="112.7" r="2.5" fill="#287d8e"/><circle cx="445.2" cy="88.7" r="2.5" fill="#44357f"/><circle cx="468.5" cy="87.2" r="2.5" fill="#461062"/><circle cx="469.2" cy="117.8" r="2.5" fill="#229c88"/><circle cx="459.3" cy="84.7" r="2.5" fill="#461062"/><circle cx="481.3" cy="89.5" r="2.5" fill="#461062"/><circle cx="463.7" cy="99.4" r="2.5" fill="#33658d"/><circle cx="448.2" cy="97.5" r="2.5" fill="#33648d"/><circle cx="463.9" cy="92.0" r="2.5" fill="#45327d"/><circle cx="434.6" cy="97.9" r="2.5" fill="#32678d"/><circle cx="461.4" cy="88.2" r="2.5" fill="#461163"/><circle cx="461.6" cy="85.6" r="2.5" fill="#461163"/><circle cx="444.1" cy="92.1" r="2.5" fill="#471c6e"/><circle cx="450.1" cy="88.9" r="2.5" fill="#472978"/><circle cx="459.7" cy="79.2" r="2.5" fill="#460f62"/><circle cx="455.4" cy="109.2" r="2.5" fill="#2e6f8e"/><circle cx="454.5" cy="81.9" r="2.5" fill="#440457"/><circle cx="466.9" cy="86.2" r="2.5" fill="#482274"/><circle cx="478.0" cy="101.0" r="2.5" fill="#414387"/><circle cx="477.9" cy="98.3" r="2.5" fill="#433c82"/><circle cx="455.1" cy="85.8" r="2.5" fill="#471869"/><circle cx="474.6" cy="95.1" r="2.5" fill="#482676"/><circle cx="462.3" cy="98.1" r="2.5" fill="#375c8c"/><circle cx="480.0" cy="102.6" r="2.5" fill="#443981"/><circle cx="478.6" cy="93.2" r="2.5" fill="#462c7a"/><circle cx="455.4" cy="99.2" r="2.5" fill="#375c8c"/><circle cx="464.1" cy="78.6" r="2.5" fill="#440255"/><circle cx="450.6" cy="95.9" r="2.5" fill="#450e60"/><circle cx="438.5" cy="89.9" r="2.5" fill="#482273"/><circle cx="459.6" cy="89.9" r="2.5" fill="#472878"/><circle cx="468.0" cy="102.3" r="2.5" fill="#35608d"/><circle cx="415.3" cy="104.6" r="2.5" fill="#26818d"/><circle cx="465.1" cy="88.9" r="2.5" fill="#461365"/><circle cx="455.4" cy="85.6" r="2.5" fill="#450659"/><circle cx="465.0" cy="97.8" r="2.5" fill="#45337e"/></g>
<path d="M462.90 158.50V70.50" stroke="#000" stroke-width="1.07" stroke-dasharray="4.5 3.8" fill="none"/>
<path d="M394.05 107.59L507.24 90.51" stroke="#3d3d3d" stroke-width="1.75" fill="none"/>
<g font-size="9.1" fill="#000"><text x="371.90" y="139.00">r</text><text x="376.30" y="139.00">=</text><text x="383.50" y="139.00">0.27</text><text x="371.90" y="147.00">β</text><text x="379.80" y="147.00">=</text><text x="386.20" y="147.00">0.084</text><text x="371.90" y="156.30">α</text><text x="379.80" y="156.30">=</text><text x="386.20" y="156.30">0.73</text></g>
<rect x="369.00" y="70.50" width="155.00" height="88.00" fill="none" stroke="#555" stroke-width="1.1"/>
<rect x="369.00" y="50.50" width="155.00" height="20.00" fill="#D9D9D9" stroke="#555" stroke-width="1.1"/>
<path d="M369.00 71.30H524.00" stroke="#8a8a8a" stroke-width="1.2"/>
<text x="446.50" y="65.70" font-size="12.75" fill="#1A1A1A" text-anchor="middle">Cluster 3</text>
</g>
<g>
<rect x="529.75" y="70.50" width="155.00" height="88.00" fill="#fff"/>
<path d="M555.17 70.50V158.50M600.82 70.50V158.50M646.48 70.50V158.50M529.75 146.58H684.75M529.75 126.13H684.75M529.75 105.68H684.75M529.75 85.23H684.75" stroke="#EBEBEB" stroke-width="0.8" fill="none"/>
<path d="M532.35 70.50V158.50M578.00 70.50V158.50M623.65 70.50V158.50M669.30 70.50V158.50M529.75 156.80H684.75M529.75 136.35H684.75M529.75 115.90H684.75M529.75 95.45H684.75M529.75 75.00H684.75" stroke="#EBEBEB" stroke-width="1.6" fill="none"/>
<clipPath id="cp3"><rect x="529.75" y="70.50" width="155.00" height="88.00"/></clipPath>
<g fill-opacity="0.58" clip-path="url(#cp3)"><circle cx="622.6" cy="83.6" r="2.5" fill="#450a5c"/><circle cx="619.1" cy="98.8" r="2.5" fill="#433981"/><circle cx="616.6" cy="99.5" r="2.5" fill="#472978"/><circle cx="616.3" cy="87.6" r="2.5" fill="#461566"/><circle cx="619.2" cy="78.2" r="2.5" fill="#450d5f"/><circle cx="614.8" cy="101.9" r="2.5" fill="#433c83"/><circle cx="595.7" cy="100.3" r="2.5" fill="#38598b"/><circle cx="623.1" cy="85.7" r="2.5" fill="#461466"/><circle cx="625.0" cy="74.8" r="2.5" fill="#440255"/><circle cx="617.6" cy="84.4" r="2.5" fill="#440558"/><circle cx="631.5" cy="106.5" r="2.5" fill="#404587"/><circle cx="600.7" cy="109.9" r="2.5" fill="#2a788e"/><circle cx="607.6" cy="108.7" r="2.5" fill="#306c8e"/><circle cx="620.1" cy="87.7" r="2.5" fill="#472878"/><circle cx="612.6" cy="84.1" r="2.5" fill="#450b5d"/><circle cx="613.9" cy="101.2" r="2.5" fill="#375b8c"/><circle cx="621.9" cy="93.1" r="2.5" fill="#443880"/><circle cx="605.7" cy="99.6" r="2.5" fill="#38598b"/><circle cx="624.8" cy="110.4" r="2.5" fill="#2e6f8e"/><circle cx="619.1" cy="95.6" r="2.5" fill="#443780"/><circle cx="614.4" cy="114.9" r="2.5" fill="#26848d"/><circle cx="615.4" cy="95.9" r="2.5" fill="#462d7b"/><circle cx="567.3" cy="103.0" r="2.5" fill="#38598b"/><circle cx="624.9" cy="91.7" r="2.5" fill="#461566"/><circle cx="613.8" cy="96.1" r="2.5" fill="#462e7b"/><circle cx="625.0" cy="85.5" r="2.5" fill="#461566"/><circle cx="625.7" cy="106.2" r="2.5" fill="#3f4888"/><circle cx="614.6" cy="95.1" r="2.5" fill="#472978"/><circle cx="627.9" cy="94.0" r="2.5" fill="#472b79"/><circle cx="619.6" cy="88.8" r="2.5" fill="#472b79"/><circle cx="626.3" cy="93.5" r="2.5" fill="#461264"/><circle cx="612.2" cy="86.4" r="2.5" fill="#461769"/><circle cx="623.4" cy="94.9" r="2.5" fill="#3e4c89"/><circle cx="618.0" cy="93.7" r="2.5" fill="#471c6e"/><circle cx="633.8" cy="82.5" r="2.5" fill="#482173"/><circle cx="617.3" cy="90.8" r="2.5" fill="#47186a"/><circle cx="621.9" cy="92.9" r="2.5" fill="#482274"/><circle cx="590.0" cy="99.2" r="2.5" fill="#45327d"/><circle cx="621.2" cy="92.8" r="2.5" fill="#471c6e"/><circle cx="616.1" cy="101.1" r="2.5" fill="#44367f"/><circle cx="625.9" cy="87.8" r="2.5" fill="#47196a"/><circle cx="618.4" cy="95.7" r="2.5" fill="#471e6f"/><circle cx="615.3" cy="92.5" r="2.5" fill="#45317d"/><circle cx="633.0" cy="113.5" r="2.5" fill="#3b528a"/><circle cx="620.3" cy="109.7" r="2.5" fill="#443780"/><circle cx="614.4" cy="91.8" r="2.5" fill="#450c5f"/><circle cx="647.4" cy="93.9" r="2.5" fill="#45327d"/><circle cx="621.3" cy="100.7" r="2.5" fill="#3a558b"/><circle cx="616.5" cy="95.7" r="2.5" fill="#461466"/><circle cx="626.5" cy="93.2" r="2.5" fill="#471e6f"/><circle cx="623.6" cy="108.3" r="2.5" fill="#3c508a"/><circle cx="619.0" cy="91.5" r="2.5" fill="#461365"/><circle cx="626.1" cy="104.7" r="2.5" fill="#34618d"/><circle cx="623.8" cy="109.2" r="2.5" fill="#433981"/><circle cx="621.3" cy="89.1" r="2.5" fill="#482777"/><circle cx="637.2" cy="111.9" r="2.5" fill="#3d4d89"/><circle cx="590.0" cy="110.6" r="2.5" fill="#26848d"/><circle cx="625.1" cy="99.3" r="2.5" fill="#423e84"/><circle cx="628.7" cy="103.4" r="2.5" fill="#44367f"/><circle cx="621.5" cy="91.3" r="2.5" fill="#450c5e"/><circle cx="614.7" cy="93.3" r="2.5" fill="#482475"/><circle cx="642.2" cy="113.3" r="2.5" fill="#45327d"/><circle cx="621.9" cy="91.6" r="2.5" fill="#472a79"/><circle cx="616.4" cy="97.4" r="2.5" fill="#471d6f"/><circle cx="615.9" cy="91.9" r="2.5" fill="#471d6f"/><circle cx="623.1" cy="106.4" r="2.5" fill="#3b518a"/><circle cx="630.3" cy="85.9" r="2.5" fill="#482173"/><circle cx="623.4" cy="89.2" r="2.5" fill="#450b5e"/><circle cx="621.1" cy="103.5" r="2.5" fill="#404788"/><circle cx="597.3" cy="127.0" r="2.5" fill="#22a884"/><circle cx="623.2" cy="83.1" r="2.5" fill="#45095c"/><circle cx="621.0" cy="79.7" r="2.5" fill="#450659"/><circle cx="611.1" cy="100.5" r="2.5" fill="#3a558b"/><circle cx="621.0" cy="89.2" r="2.5" fill="#450c5f"/><circle cx="633.8" cy="111.6" r="2.5" fill="#297b8e"/><circle cx="618.4" cy="88.7" r="2.5" fill="#482677"/><circle cx="640.6" cy="100.8" r="2.5" fill="#45327d"/><circle cx="631.7" cy="91.2" r="2.5" fill="#461163"/><circle cx="624.5" cy="85.2" r="2.5" fill="#461062"/><circle cx="622.5" cy="101.1" r="2.5" fill="#46307c"/><circle cx="569.5" cy="117.4" r="2.5" fill="#229c88"/><circle cx="618.7" cy="89.1" r="2.5" fill="#440355"/><circle cx="626.2" cy="90.3" r="2.5" fill="#482777"/><circle cx="644.7" cy="91.0" r="2.5" fill="#482173"/><circle cx="626.9" cy="115.6" r="2.5" fill="#45327d"/><circle cx="627.4" cy="78.0" r="2.5" fill="#482173"/><circle cx="550.0" cy="109.9" r="2.5" fill="#229c88"/><circle cx="618.5" cy="107.4" r="2.5" fill="#462f7b"/><circle cx="606.8" cy="99.8" r="2.5" fill="#44357f"/><circle cx="614.0" cy="103.2" r="2.5" fill="#482173"/><circle cx="625.2" cy="99.7" r="2.5" fill="#414587"/><circle cx="622.0" cy="113.9" r="2.5" fill="#34628d"/><circle cx="629.4" cy="103.1" r="2.5" fill="#35608d"/><circle cx="603.0" cy="97.3" r="2.5" fill="#404587"/><circle cx="623.3" cy="99.0" r="2.5" fill="#44367f"/><circle cx="628.1" cy="109.5" r="2.5" fill="#3b518a"/><circle cx="618.1" cy="79.9" r="2.5" fill="#440255"/><circle cx="627.7" cy="85.6" r="2.5" fill="#461063"/><circle cx="625.1" cy="99.5" r="2.5" fill="#3a538a"/><circle cx="624.6" cy="96.4" r="2.5" fill="#472777"/><circle cx="618.6" cy="91.3" r="2.5" fill="#471f70"/><circle cx="628.7" cy="149.7" r="2.5" fill="#482173"/><circle cx="621.9" cy="113.3" r="2.5" fill="#3d4e89"/><circle cx="620.1" cy="86.0" r="2.5" fill="#462f7c"/><circle cx="645.1" cy="96.2" r="2.5" fill="#45327d"/><circle cx="620.6" cy="104.1" r="2.5" fill="#433c83"/><circle cx="626.0" cy="84.3" r="2.5" fill="#482273"/><circle cx="626.1" cy="97.7" r="2.5" fill="#3f4888"/><circle cx="623.7" cy="109.6" r="2.5" fill="#3e4a88"/><circle cx="619.9" cy="85.1" r="2.5" fill="#461365"/><circle cx="620.2" cy="86.3" r="2.5" fill="#461365"/><circle cx="621.7" cy="85.8" r="2.5" fill="#482475"/><circle cx="625.5" cy="95.3" r="2.5" fill="#471a6c"/><circle cx="615.0" cy="82.6" r="2.5" fill="#461264"/><circle cx="610.3" cy="100.6" r="2.5" fill="#462c7a"/><circle cx="626.0" cy="81.3" r="2.5" fill="#440255"/><circle cx="665.6" cy="93.9" r="2.5" fill="#482173"/><circle cx="632.6" cy="92.8" r="2.5" fill="#45327d"/><circle cx="637.9" cy="105.3" r="2.5" fill="#45327d"/><circle cx="617.4" cy="101.9" r="2.5" fill="#355f8d"/><circle cx="623.4" cy="100.3" r="2.5" fill="#44367f"/><circle cx="635.1" cy="99.9" r="2.5" fill="#471d6e"/><circle cx="613.1" cy="96.3" r="2.5" fill="#482576"/><circle cx="633.6" cy="96.1" r="2.5" fill="#433a81"/><circle cx="628.3" cy="86.3" r="2.5" fill="#471869"/><circle cx="620.0" cy="106.3" r="2.5" fill="#35618d"/><circle cx="616.9" cy="89.5" r="2.5" fill="#482374"/><circle cx="617.8" cy="101.8" r="2.5" fill="#3d4e89"/><circle cx="612.3" cy="102.0" r="2.5" fill="#443881"/><circle cx="627.0" cy="95.7" r="2.5" fill="#461668"/><circle cx="618.3" cy="102.8" r="2.5" fill="#45327d"/><circle cx="629.3" cy="78.9" r="2.5" fill="#45085a"/><circle cx="625.2" cy="91.2" r="2.5" fill="#482172"/><circle cx="625.7" cy="94.0" r="2.5" fill="#471e6f"/><circle cx="622.8" cy="81.4" r="2.5" fill="#450e61"/><circle cx="624.3" cy="103.7" r="2.5" fill="#443780"/><circle cx="623.3" cy="100.4" r="2.5" fill="#3f4888"/><circle cx="627.5" cy="97.9" r="2.5" fill="#482475"/><circle cx="627.6" cy="98.7" r="2.5" fill="#462e7b"/><circle cx="623.1" cy="106.7" r="2.5" fill="#414587"/><circle cx="620.1" cy="115.1" r="2.5" fill="#21908c"/><circle cx="621.2" cy="87.0" r="2.5" fill="#461668"/><circle cx="637.2" cy="87.8" r="2.5" fill="#482173"/><circle cx="621.2" cy="92.1" r="2.5" fill="#471f71"/><circle cx="617.5" cy="83.8" r="2.5" fill="#440558"/><circle cx="630.2" cy="94.7" r="2.5" fill="#461668"/><circle cx="627.2" cy="100.4" r="2.5" fill="#414587"/><circle cx="615.4" cy="94.5" r="2.5" fill="#471b6c"/><circle cx="627.2" cy="93.6" r="2.5" fill="#462e7b"/><circle cx="616.5" cy="94.1" r="2.5" fill="#471f70"/><circle cx="616.6" cy="97.0" r="2.5" fill="#443780"/><circle cx="620.5" cy="95.5" r="2.5" fill="#433b82"/><circle cx="633.4" cy="110.8" r="2.5" fill="#375c8c"/><circle cx="622.9" cy="90.4" r="2.5" fill="#482777"/><circle cx="618.0" cy="93.4" r="2.5" fill="#471d6e"/><circle cx="617.4" cy="90.2" r="2.5" fill="#482777"/><circle cx="621.8" cy="105.2" r="2.5" fill="#35608d"/><circle cx="627.1" cy="90.5" r="2.5" fill="#482475"/><circle cx="618.2" cy="98.3" r="2.5" fill="#482374"/><circle cx="618.9" cy="95.8" r="2.5" fill="#482374"/><circle cx="624.8" cy="95.0" r="2.5" fill="#450759"/><circle cx="650.8" cy="85.9" r="2.5" fill="#482173"/><circle cx="622.4" cy="76.4" r="2.5" fill="#482173"/><circle cx="622.7" cy="97.6" r="2.5" fill="#45337e"/><circle cx="622.6" cy="99.7" r="2.5" fill="#47196b"/><circle cx="638.6" cy="99.0" r="2.5" fill="#3d4e89"/><circle cx="626.8" cy="90.5" r="2.5" fill="#45317d"/><circle cx="617.4" cy="92.5" r="2.5" fill="#450d60"/><circle cx="625.7" cy="95.8" r="2.5" fill="#482475"/><circle cx="617.4" cy="100.0" r="2.5" fill="#44357f"/></g>
<path d="M623.65 158.50V70.50" stroke="#000" stroke-width="1.07" stroke-dasharray="4.5 3.8" fill="none"/>
<path d="M549.95 112.15L665.64 90.51" stroke="#3d3d3d" stroke-width="1.75" fill="none"/>
<g font-size="9.1" fill="#000"><text x="532.65" y="139.00">r</text><text x="537.05" y="139.00">=</text><text x="544.25" y="139.00">0.24</text><text x="532.65" y="147.00">β</text><text x="540.55" y="147.00">=</text><text x="546.95" y="147.00">0.11</text><text x="532.65" y="156.30">α</text><text x="540.55" y="156.30">=</text><text x="546.95" y="156.30">0.71</text></g>
<rect x="529.75" y="70.50" width="155.00" height="88.00" fill="none" stroke="#555" stroke-width="1.1"/>
<rect x="529.75" y="50.50" width="155.00" height="20.00" fill="#D9D9D9" stroke="#555" stroke-width="1.1"/>
<path d="M529.75 71.30H684.75" stroke="#8a8a8a" stroke-width="1.2"/>
<text x="607.25" y="65.70" font-size="12.75" fill="#1A1A1A" text-anchor="middle">Cluster 4</text>
</g>
<g>
<rect x="47.50" y="183.97" width="155.00" height="88.00" fill="#fff"/>
<path d="M72.93 183.97V271.97M118.58 183.97V271.97M164.22 183.97V271.97M47.50 260.04H202.50M47.50 239.59H202.50M47.50 219.14H202.50M47.50 198.69H202.50" stroke="#EBEBEB" stroke-width="0.8" fill="none"/>
<path d="M50.10 183.97V271.97M95.75 183.97V271.97M141.40 183.97V271.97M187.05 183.97V271.97M47.50 270.27H202.50M47.50 249.82H202.50M47.50 229.37H202.50M47.50 208.92H202.50M47.50 188.47H202.50" stroke="#EBEBEB" stroke-width="1.6" fill="none"/>
<clipPath id="cp4"><rect x="47.50" y="183.97" width="155.00" height="88.00"/></clipPath>
<g fill-opacity="0.58" clip-path="url(#cp4)"><circle cx="87.5" cy="229.7" r="2.5" fill="#bbdf27"/><circle cx="149.5" cy="208.1" r="2.5" fill="#404587"/><circle cx="155.9" cy="214.9" r="2.5" fill="#306c8e"/><circle cx="144.9" cy="225.2" r="2.5" fill="#21908c"/><circle cx="165.4" cy="214.9" r="2.5" fill="#306c8e"/><circle cx="162.0" cy="206.9" r="2.5" fill="#45327d"/><circle cx="163.6" cy="227.4" r="2.5" fill="#229c88"/><circle cx="164.3" cy="210.3" r="2.5" fill="#38598b"/><circle cx="123.3" cy="221.7" r="2.5" fill="#22a884"/><circle cx="147.2" cy="210.3" r="2.5" fill="#404587"/><circle cx="147.2" cy="219.5" r="2.5" fill="#26848d"/><circle cx="158.6" cy="203.5" r="2.5" fill="#45327d"/><circle cx="131.7" cy="192.8" r="2.5" fill="#482173"/><circle cx="102.3" cy="219.9" r="2.5" fill="#21908c"/><circle cx="144.9" cy="209.2" r="2.5" fill="#45327d"/><circle cx="150.6" cy="212.6" r="2.5" fill="#38598b"/><circle cx="116.5" cy="226.3" r="2.5" fill="#22a884"/><circle cx="145.4" cy="217.2" r="2.5" fill="#306c8e"/><circle cx="142.7" cy="207.6" r="2.5" fill="#45327d"/><circle cx="143.8" cy="212.6" r="2.5" fill="#38598b"/><circle cx="131.7" cy="224.7" r="2.5" fill="#22a884"/><circle cx="147.2" cy="198.9" r="2.5" fill="#45327d"/><circle cx="127.2" cy="223.6" r="2.5" fill="#22a884"/><circle cx="96.0" cy="224.0" r="2.5" fill="#43bf71"/><circle cx="124.9" cy="206.9" r="2.5" fill="#404587"/><circle cx="177.3" cy="204.2" r="2.5" fill="#482173"/><circle cx="154.0" cy="205.8" r="2.5" fill="#45327d"/><circle cx="133.5" cy="228.6" r="2.5" fill="#38598b"/><circle cx="165.4" cy="205.8" r="2.5" fill="#45327d"/><circle cx="141.5" cy="210.3" r="2.5" fill="#45327d"/><circle cx="98.9" cy="233.1" r="2.5" fill="#32b47a"/><circle cx="150.6" cy="222.9" r="2.5" fill="#229c88"/><circle cx="137.6" cy="205.8" r="2.5" fill="#45327d"/><circle cx="154.0" cy="221.7" r="2.5" fill="#21908c"/><circle cx="118.1" cy="214.9" r="2.5" fill="#2a788e"/><circle cx="148.3" cy="220.6" r="2.5" fill="#229c88"/><circle cx="134.7" cy="219.5" r="2.5" fill="#306c8e"/><circle cx="146.5" cy="194.8" r="2.5" fill="#482173"/><circle cx="159.0" cy="200.1" r="2.5" fill="#482173"/><circle cx="138.6" cy="202.8" r="2.5" fill="#482173"/><circle cx="166.6" cy="208.1" r="2.5" fill="#404587"/><circle cx="155.2" cy="219.5" r="2.5" fill="#21908c"/><circle cx="137.0" cy="191.0" r="2.5" fill="#482173"/><circle cx="154.5" cy="189.2" r="2.5" fill="#482173"/><circle cx="152.9" cy="214.9" r="2.5" fill="#2a788e"/><circle cx="149.5" cy="204.6" r="2.5" fill="#45327d"/><circle cx="152.9" cy="211.5" r="2.5" fill="#45327d"/><circle cx="125.6" cy="225.8" r="2.5" fill="#229c88"/><circle cx="160.9" cy="213.8" r="2.5" fill="#306c8e"/><circle cx="143.8" cy="198.9" r="2.5" fill="#45327d"/><circle cx="171.1" cy="209.2" r="2.5" fill="#404587"/><circle cx="170.0" cy="204.6" r="2.5" fill="#45327d"/><circle cx="151.8" cy="217.2" r="2.5" fill="#26848d"/><circle cx="160.9" cy="210.3" r="2.5" fill="#38598b"/><circle cx="159.7" cy="217.2" r="2.5" fill="#2a788e"/><circle cx="163.1" cy="219.5" r="2.5" fill="#2a788e"/><circle cx="137.0" cy="217.2" r="2.5" fill="#306c8e"/><circle cx="80.0" cy="222.9" r="2.5" fill="#7ad151"/><circle cx="146.7" cy="214.9" r="2.5" fill="#38598b"/><circle cx="136.3" cy="198.5" r="2.5" fill="#461264"/><circle cx="131.3" cy="206.9" r="2.5" fill="#45327d"/><circle cx="140.4" cy="217.6" r="2.5" fill="#2a788e"/><circle cx="150.6" cy="218.3" r="2.5" fill="#21908c"/><circle cx="119.9" cy="221.7" r="2.5" fill="#21908c"/><circle cx="139.9" cy="212.6" r="2.5" fill="#404587"/><circle cx="126.3" cy="233.1" r="2.5" fill="#bbdf27"/><circle cx="92.5" cy="230.4" r="2.5" fill="#43bf71"/><circle cx="127.8" cy="217.2" r="2.5" fill="#306c8e"/><circle cx="74.3" cy="225.2" r="2.5" fill="#21908c"/><circle cx="138.1" cy="219.5" r="2.5" fill="#2a788e"/><circle cx="167.7" cy="212.6" r="2.5" fill="#38598b"/><circle cx="114.6" cy="222.9" r="2.5" fill="#229c88"/><circle cx="152.2" cy="229.0" r="2.5" fill="#22a884"/><circle cx="130.1" cy="212.6" r="2.5" fill="#404587"/><circle cx="110.3" cy="222.2" r="2.5" fill="#21908c"/><circle cx="149.0" cy="224.0" r="2.5" fill="#22a884"/><circle cx="135.4" cy="224.0" r="2.5" fill="#21908c"/><circle cx="134.7" cy="210.3" r="2.5" fill="#404587"/><circle cx="168.8" cy="201.2" r="2.5" fill="#482173"/><circle cx="142.2" cy="214.9" r="2.5" fill="#38598b"/><circle cx="156.3" cy="217.2" r="2.5" fill="#26848d"/><circle cx="124.4" cy="208.5" r="2.5" fill="#38598b"/><circle cx="157.5" cy="210.3" r="2.5" fill="#404587"/></g>
<path d="M141.40 271.97V183.97" stroke="#000" stroke-width="1.07" stroke-dasharray="4.5 3.8" fill="none"/>
<path d="M74.33 226.97L176.81 208.52" stroke="#3d3d3d" stroke-width="1.75" fill="none"/>
<g font-size="9.1" fill="#000"><text x="50.40" y="252.47">r</text><text x="54.80" y="252.47">=</text><text x="62.00" y="252.47">0.38</text><text x="50.40" y="260.47">β</text><text x="58.30" y="260.47">=</text><text x="64.70" y="260.47">0.099</text><text x="50.40" y="269.77">α</text><text x="58.30" y="269.77">=</text><text x="64.70" y="269.77">0.67</text></g>
<rect x="47.50" y="183.97" width="155.00" height="88.00" fill="none" stroke="#555" stroke-width="1.1"/>
<rect x="47.50" y="163.97" width="155.00" height="20.00" fill="#D9D9D9" stroke="#555" stroke-width="1.1"/>
<path d="M47.50 184.77H202.50" stroke="#8a8a8a" stroke-width="1.2"/>
<text x="125.00" y="179.17" font-size="12.75" fill="#1A1A1A" text-anchor="middle">Cluster 5</text>
<text transform="translate(41.90 274.87) scale(1 1.08)" font-size="12.3" fill="#4D4D4D" text-anchor="end">0.00</text>
<text transform="translate(41.90 254.42) scale(1 1.08)" font-size="12.3" fill="#4D4D4D" text-anchor="end">0.25</text>
<text transform="translate(41.90 233.97) scale(1 1.08)" font-size="12.3" fill="#4D4D4D" text-anchor="end">0.50</text>
<text transform="translate(41.90 213.52) scale(1 1.08)" font-size="12.3" fill="#4D4D4D" text-anchor="end">0.75</text>
<text transform="translate(41.90 193.07) scale(1 1.08)" font-size="12.3" fill="#4D4D4D" text-anchor="end">1.00</text>
<path d="M44.30 270.27H47.50M44.30 249.82H47.50M44.30 229.37H47.50M44.30 208.92H47.50M44.30 188.47H47.50" stroke="#555" stroke-width="1.07"/>
</g>
<g>
<rect x="208.25" y="183.97" width="155.00" height="88.00" fill="#fff"/>
<path d="M233.67 183.97V271.97M279.32 183.97V271.97M324.97 183.97V271.97M208.25 260.04H363.25M208.25 239.59H363.25M208.25 219.14H363.25M208.25 198.69H363.25" stroke="#EBEBEB" stroke-width="0.8" fill="none"/>
<path d="M210.85 183.97V271.97M256.50 183.97V271.97M302.15 183.97V271.97M347.80 183.97V271.97M208.25 270.27H363.25M208.25 249.82H363.25M208.25 229.37H363.25M208.25 208.92H363.25M208.25 188.47H363.25" stroke="#EBEBEB" stroke-width="1.6" fill="none"/>
<clipPath id="cp5"><rect x="208.25" y="183.97" width="155.00" height="88.00"/></clipPath>
<g fill-opacity="0.58" clip-path="url(#cp5)"><circle cx="301.0" cy="226.4" r="2.5" fill="#3d4d89"/><circle cx="331.2" cy="202.7" r="2.5" fill="#471e6f"/><circle cx="234.2" cy="229.7" r="2.5" fill="#21908c"/><circle cx="314.3" cy="193.1" r="2.5" fill="#45085b"/><circle cx="300.3" cy="226.6" r="2.5" fill="#287d8e"/><circle cx="284.3" cy="227.4" r="2.5" fill="#21908c"/><circle cx="327.9" cy="213.7" r="2.5" fill="#482576"/><circle cx="313.5" cy="212.8" r="2.5" fill="#461466"/><circle cx="320.2" cy="207.3" r="2.5" fill="#472b79"/><circle cx="288.9" cy="219.7" r="2.5" fill="#472b79"/><circle cx="299.6" cy="225.7" r="2.5" fill="#462f7c"/><circle cx="293.4" cy="234.3" r="2.5" fill="#2a788e"/><circle cx="289.4" cy="203.5" r="2.5" fill="#460f62"/><circle cx="320.1" cy="217.9" r="2.5" fill="#433b82"/><circle cx="306.1" cy="215.9" r="2.5" fill="#471a6c"/><circle cx="290.9" cy="222.7" r="2.5" fill="#44367f"/><circle cx="309.1" cy="208.0" r="2.5" fill="#482274"/><circle cx="314.9" cy="223.0" r="2.5" fill="#3c4f89"/><circle cx="308.6" cy="200.6" r="2.5" fill="#462f7b"/><circle cx="310.4" cy="200.0" r="2.5" fill="#440255"/><circle cx="293.7" cy="201.7" r="2.5" fill="#440255"/><circle cx="309.4" cy="191.7" r="2.5" fill="#440255"/><circle cx="327.0" cy="201.7" r="2.5" fill="#461668"/><circle cx="304.8" cy="255.9" r="2.5" fill="#26848d"/><circle cx="314.8" cy="210.1" r="2.5" fill="#471869"/><circle cx="254.7" cy="225.8" r="2.5" fill="#32b47a"/><circle cx="312.5" cy="210.4" r="2.5" fill="#482677"/><circle cx="292.2" cy="223.2" r="2.5" fill="#34628d"/><circle cx="320.3" cy="212.9" r="2.5" fill="#482777"/><circle cx="284.7" cy="224.0" r="2.5" fill="#3d4d89"/><circle cx="311.6" cy="235.4" r="2.5" fill="#229c88"/><circle cx="325.8" cy="205.3" r="2.5" fill="#472072"/><circle cx="295.1" cy="204.6" r="2.5" fill="#440255"/><circle cx="300.7" cy="216.1" r="2.5" fill="#461769"/><circle cx="309.2" cy="229.4" r="2.5" fill="#2a798e"/><circle cx="317.8" cy="204.1" r="2.5" fill="#461365"/><circle cx="289.2" cy="206.4" r="2.5" fill="#450e61"/><circle cx="318.8" cy="207.3" r="2.5" fill="#47186a"/><circle cx="289.3" cy="219.6" r="2.5" fill="#375c8c"/><circle cx="302.0" cy="210.1" r="2.5" fill="#461365"/><circle cx="310.9" cy="198.8" r="2.5" fill="#440255"/><circle cx="331.0" cy="196.7" r="2.5" fill="#482173"/><circle cx="316.6" cy="192.5" r="2.5" fill="#440255"/><circle cx="288.1" cy="229.9" r="2.5" fill="#3e4c89"/><circle cx="300.0" cy="208.2" r="2.5" fill="#461768"/><circle cx="287.3" cy="195.0" r="2.5" fill="#450e61"/><circle cx="309.6" cy="216.8" r="2.5" fill="#461365"/><circle cx="300.7" cy="225.4" r="2.5" fill="#433d83"/><circle cx="312.5" cy="214.2" r="2.5" fill="#45347e"/><circle cx="298.2" cy="197.7" r="2.5" fill="#440457"/><circle cx="298.1" cy="220.8" r="2.5" fill="#34638d"/><circle cx="302.5" cy="197.3" r="2.5" fill="#461769"/><circle cx="301.6" cy="217.2" r="2.5" fill="#443780"/><circle cx="312.8" cy="210.6" r="2.5" fill="#45085b"/><circle cx="315.3" cy="224.8" r="2.5" fill="#414487"/><circle cx="293.8" cy="211.3" r="2.5" fill="#482273"/><circle cx="314.9" cy="197.7" r="2.5" fill="#471d6e"/><circle cx="329.3" cy="207.3" r="2.5" fill="#47196b"/><circle cx="306.5" cy="200.8" r="2.5" fill="#461264"/><circle cx="328.6" cy="210.9" r="2.5" fill="#433981"/><circle cx="301.8" cy="191.8" r="2.5" fill="#450a5d"/><circle cx="294.6" cy="200.8" r="2.5" fill="#440255"/><circle cx="308.7" cy="203.7" r="2.5" fill="#450a5c"/><circle cx="302.4" cy="209.6" r="2.5" fill="#45095b"/><circle cx="320.8" cy="199.2" r="2.5" fill="#45317d"/><circle cx="315.0" cy="199.7" r="2.5" fill="#471f71"/><circle cx="310.1" cy="204.6" r="2.5" fill="#461062"/><circle cx="309.5" cy="217.1" r="2.5" fill="#39568b"/><circle cx="317.4" cy="202.2" r="2.5" fill="#45085a"/><circle cx="324.8" cy="201.5" r="2.5" fill="#450659"/><circle cx="301.6" cy="203.4" r="2.5" fill="#440255"/><circle cx="308.1" cy="203.5" r="2.5" fill="#440255"/><circle cx="297.0" cy="204.8" r="2.5" fill="#450659"/><circle cx="302.2" cy="202.8" r="2.5" fill="#45095c"/><circle cx="309.1" cy="216.4" r="2.5" fill="#461768"/><circle cx="317.3" cy="203.7" r="2.5" fill="#472978"/><circle cx="305.9" cy="221.5" r="2.5" fill="#472777"/><circle cx="332.8" cy="219.0" r="2.5" fill="#404587"/><circle cx="303.5" cy="207.3" r="2.5" fill="#450d5f"/><circle cx="308.8" cy="202.1" r="2.5" fill="#440255"/><circle cx="304.0" cy="197.5" r="2.5" fill="#440255"/><circle cx="304.3" cy="209.3" r="2.5" fill="#440456"/><circle cx="309.1" cy="230.1" r="2.5" fill="#287c8e"/><circle cx="297.1" cy="200.5" r="2.5" fill="#440255"/><circle cx="331.8" cy="202.4" r="2.5" fill="#482172"/><circle cx="296.8" cy="215.5" r="2.5" fill="#45307c"/><circle cx="299.2" cy="215.2" r="2.5" fill="#471f70"/><circle cx="306.8" cy="206.6" r="2.5" fill="#450659"/><circle cx="313.6" cy="204.7" r="2.5" fill="#450a5d"/><circle cx="292.2" cy="224.6" r="2.5" fill="#3e4b88"/><circle cx="320.5" cy="205.4" r="2.5" fill="#440356"/><circle cx="225.1" cy="218.3" r="2.5" fill="#21908c"/><circle cx="294.1" cy="206.5" r="2.5" fill="#45095c"/><circle cx="330.2" cy="208.0" r="2.5" fill="#461163"/><circle cx="293.7" cy="222.9" r="2.5" fill="#44367f"/><circle cx="331.0" cy="211.0" r="2.5" fill="#462d7a"/><circle cx="293.8" cy="213.9" r="2.5" fill="#433b82"/><circle cx="321.7" cy="198.6" r="2.5" fill="#450659"/><circle cx="293.5" cy="204.5" r="2.5" fill="#462e7b"/><circle cx="282.4" cy="206.0" r="2.5" fill="#461365"/><circle cx="307.0" cy="221.0" r="2.5" fill="#482677"/><circle cx="295.4" cy="186.6" r="2.5" fill="#440255"/><circle cx="307.2" cy="196.0" r="2.5" fill="#440255"/><circle cx="300.6" cy="210.2" r="2.5" fill="#472071"/><circle cx="303.0" cy="198.1" r="2.5" fill="#450e60"/><circle cx="297.6" cy="200.9" r="2.5" fill="#461567"/><circle cx="306.0" cy="214.6" r="2.5" fill="#482677"/><circle cx="303.3" cy="220.3" r="2.5" fill="#3a538a"/><circle cx="308.9" cy="217.6" r="2.5" fill="#47196b"/><circle cx="313.8" cy="219.4" r="2.5" fill="#3c4f89"/><circle cx="286.5" cy="229.3" r="2.5" fill="#2e6e8e"/><circle cx="302.9" cy="203.3" r="2.5" fill="#461163"/><circle cx="293.5" cy="213.6" r="2.5" fill="#461567"/><circle cx="316.9" cy="194.5" r="2.5" fill="#471a6c"/><circle cx="295.3" cy="214.7" r="2.5" fill="#472878"/><circle cx="290.7" cy="226.1" r="2.5" fill="#2f6e8e"/><circle cx="299.2" cy="193.9" r="2.5" fill="#461365"/><circle cx="316.6" cy="196.3" r="2.5" fill="#440457"/><circle cx="310.3" cy="205.8" r="2.5" fill="#45075a"/><circle cx="334.1" cy="203.1" r="2.5" fill="#433a81"/><circle cx="288.8" cy="241.8" r="2.5" fill="#21908c"/><circle cx="307.2" cy="210.9" r="2.5" fill="#471e6f"/><circle cx="283.8" cy="207.1" r="2.5" fill="#461163"/><circle cx="264.9" cy="198.5" r="2.5" fill="#45327d"/><circle cx="309.6" cy="214.7" r="2.5" fill="#472a79"/><circle cx="317.3" cy="201.9" r="2.5" fill="#450e61"/><circle cx="303.9" cy="203.9" r="2.5" fill="#461365"/><circle cx="300.2" cy="243.4" r="2.5" fill="#21908c"/><circle cx="305.2" cy="215.0" r="2.5" fill="#45347e"/><circle cx="255.8" cy="214.9" r="2.5" fill="#38598b"/><circle cx="303.7" cy="193.9" r="2.5" fill="#461062"/><circle cx="306.1" cy="201.6" r="2.5" fill="#461062"/><circle cx="308.1" cy="215.5" r="2.5" fill="#46307c"/><circle cx="294.9" cy="197.2" r="2.5" fill="#45085b"/><circle cx="306.0" cy="205.0" r="2.5" fill="#461567"/><circle cx="313.9" cy="218.2" r="2.5" fill="#44357f"/><circle cx="314.5" cy="208.4" r="2.5" fill="#461164"/><circle cx="303.8" cy="223.2" r="2.5" fill="#3c4f89"/><circle cx="290.8" cy="211.7" r="2.5" fill="#433d83"/><circle cx="292.0" cy="201.4" r="2.5" fill="#461163"/><circle cx="309.8" cy="196.7" r="2.5" fill="#440255"/><circle cx="297.6" cy="209.9" r="2.5" fill="#47186a"/><circle cx="293.8" cy="216.9" r="2.5" fill="#404687"/><circle cx="321.1" cy="196.4" r="2.5" fill="#45085b"/><circle cx="323.3" cy="205.7" r="2.5" fill="#45085a"/><circle cx="316.8" cy="216.4" r="2.5" fill="#471f70"/><circle cx="307.4" cy="212.5" r="2.5" fill="#461667"/><circle cx="297.9" cy="207.3" r="2.5" fill="#461062"/><circle cx="320.4" cy="207.3" r="2.5" fill="#461769"/><circle cx="298.2" cy="220.4" r="2.5" fill="#2f6e8e"/><circle cx="287.8" cy="209.5" r="2.5" fill="#471b6d"/><circle cx="320.2" cy="201.5" r="2.5" fill="#450a5d"/><circle cx="314.1" cy="224.0" r="2.5" fill="#3b528a"/><circle cx="302.1" cy="213.0" r="2.5" fill="#482777"/><circle cx="311.8" cy="192.7" r="2.5" fill="#461668"/><circle cx="320.6" cy="199.5" r="2.5" fill="#471a6c"/><circle cx="318.1" cy="209.3" r="2.5" fill="#472071"/><circle cx="317.5" cy="204.6" r="2.5" fill="#440255"/><circle cx="307.4" cy="191.5" r="2.5" fill="#440255"/><circle cx="288.8" cy="198.5" r="2.5" fill="#450659"/><circle cx="310.3" cy="212.5" r="2.5" fill="#433d83"/><circle cx="307.3" cy="213.5" r="2.5" fill="#461567"/><circle cx="291.5" cy="222.1" r="2.5" fill="#404788"/><circle cx="322.9" cy="200.3" r="2.5" fill="#461567"/><circle cx="313.3" cy="208.2" r="2.5" fill="#433981"/><circle cx="257.0" cy="219.0" r="2.5" fill="#21908c"/><circle cx="332.1" cy="210.3" r="2.5" fill="#471d6e"/><circle cx="324.4" cy="209.7" r="2.5" fill="#45095c"/><circle cx="292.3" cy="219.1" r="2.5" fill="#462c7a"/><circle cx="295.5" cy="193.2" r="2.5" fill="#45085b"/><circle cx="303.7" cy="230.8" r="2.5" fill="#32b47a"/><circle cx="315.7" cy="192.5" r="2.5" fill="#471c6e"/><circle cx="299.6" cy="198.1" r="2.5" fill="#450d5f"/><circle cx="305.2" cy="193.4" r="2.5" fill="#440558"/><circle cx="300.6" cy="205.8" r="2.5" fill="#482172"/><circle cx="267.2" cy="219.9" r="2.5" fill="#21908c"/><circle cx="309.7" cy="208.6" r="2.5" fill="#45095c"/><circle cx="314.3" cy="202.3" r="2.5" fill="#461264"/><circle cx="301.2" cy="220.0" r="2.5" fill="#3d4d89"/><circle cx="321.9" cy="230.8" r="2.5" fill="#2a788e"/><circle cx="297.8" cy="225.4" r="2.5" fill="#31698d"/><circle cx="285.0" cy="214.3" r="2.5" fill="#461264"/><circle cx="289.9" cy="196.3" r="2.5" fill="#440255"/><circle cx="305.4" cy="197.0" r="2.5" fill="#440558"/><circle cx="286.2" cy="207.5" r="2.5" fill="#440558"/><circle cx="325.3" cy="193.3" r="2.5" fill="#482173"/><circle cx="286.6" cy="199.0" r="2.5" fill="#440457"/><circle cx="316.4" cy="201.0" r="2.5" fill="#440558"/><circle cx="315.8" cy="207.0" r="2.5" fill="#45095b"/><circle cx="312.7" cy="195.0" r="2.5" fill="#440356"/><circle cx="315.6" cy="197.8" r="2.5" fill="#47186a"/><circle cx="298.0" cy="222.5" r="2.5" fill="#414487"/><circle cx="311.7" cy="195.0" r="2.5" fill="#440255"/><circle cx="301.4" cy="197.4" r="2.5" fill="#45095b"/><circle cx="298.5" cy="211.9" r="2.5" fill="#44367f"/><circle cx="304.4" cy="192.3" r="2.5" fill="#450659"/><circle cx="295.5" cy="220.4" r="2.5" fill="#3f4988"/><circle cx="261.5" cy="218.3" r="2.5" fill="#229c88"/><circle cx="300.3" cy="215.0" r="2.5" fill="#45347e"/><circle cx="321.7" cy="193.5" r="2.5" fill="#450c5e"/><circle cx="300.8" cy="210.0" r="2.5" fill="#482475"/><circle cx="304.2" cy="202.2" r="2.5" fill="#440356"/><circle cx="332.3" cy="218.4" r="2.5" fill="#39568b"/><circle cx="305.6" cy="199.2" r="2.5" fill="#450658"/><circle cx="306.0" cy="205.9" r="2.5" fill="#450e60"/><circle cx="301.0" cy="206.3" r="2.5" fill="#461466"/><circle cx="299.0" cy="192.3" r="2.5" fill="#450659"/><circle cx="318.5" cy="197.5" r="2.5" fill="#450c5e"/><circle cx="316.2" cy="217.7" r="2.5" fill="#482274"/><circle cx="288.2" cy="230.8" r="2.5" fill="#21908c"/><circle cx="324.0" cy="199.6" r="2.5" fill="#461365"/><circle cx="307.4" cy="214.6" r="2.5" fill="#433d83"/><circle cx="304.2" cy="217.3" r="2.5" fill="#443880"/><circle cx="328.0" cy="212.1" r="2.5" fill="#44367f"/><circle cx="314.5" cy="201.2" r="2.5" fill="#450a5d"/><circle cx="300.2" cy="192.9" r="2.5" fill="#440255"/><circle cx="325.5" cy="191.1" r="2.5" fill="#450c5e"/><circle cx="339.6" cy="214.2" r="2.5" fill="#45327d"/><circle cx="325.7" cy="208.5" r="2.5" fill="#472978"/><circle cx="294.6" cy="188.7" r="2.5" fill="#440255"/><circle cx="315.2" cy="199.8" r="2.5" fill="#45085b"/><circle cx="300.5" cy="211.5" r="2.5" fill="#482677"/><circle cx="295.0" cy="199.2" r="2.5" fill="#450a5c"/><circle cx="322.4" cy="193.6" r="2.5" fill="#450659"/><circle cx="319.8" cy="215.3" r="2.5" fill="#461768"/><circle cx="295.6" cy="210.4" r="2.5" fill="#482475"/><circle cx="299.1" cy="232.0" r="2.5" fill="#229c88"/><circle cx="315.3" cy="225.9" r="2.5" fill="#31688d"/><circle cx="297.1" cy="199.9" r="2.5" fill="#440255"/><circle cx="299.3" cy="187.9" r="2.5" fill="#440255"/><circle cx="326.7" cy="216.9" r="2.5" fill="#482172"/><circle cx="316.9" cy="224.2" r="2.5" fill="#3c518a"/><circle cx="317.4" cy="207.6" r="2.5" fill="#461567"/><circle cx="311.5" cy="201.4" r="2.5" fill="#450a5c"/><circle cx="301.2" cy="221.3" r="2.5" fill="#433b82"/><circle cx="310.5" cy="218.6" r="2.5" fill="#461668"/><circle cx="218.9" cy="236.5" r="2.5" fill="#21908c"/><circle cx="307.1" cy="236.5" r="2.5" fill="#306c8e"/><circle cx="289.6" cy="195.8" r="2.5" fill="#461264"/><circle cx="307.5" cy="212.0" r="2.5" fill="#461668"/><circle cx="305.2" cy="217.7" r="2.5" fill="#45307c"/><circle cx="296.5" cy="196.7" r="2.5" fill="#440558"/><circle cx="285.4" cy="218.3" r="2.5" fill="#306c8e"/><circle cx="319.2" cy="189.5" r="2.5" fill="#440356"/><circle cx="289.4" cy="223.3" r="2.5" fill="#433c83"/><circle cx="296.6" cy="222.9" r="2.5" fill="#433c83"/><circle cx="338.9" cy="203.1" r="2.5" fill="#461264"/><circle cx="316.8" cy="192.0" r="2.5" fill="#450b5d"/><circle cx="329.2" cy="232.0" r="2.5" fill="#2a788e"/><circle cx="281.5" cy="206.8" r="2.5" fill="#440255"/><circle cx="313.0" cy="210.2" r="2.5" fill="#471c6d"/><circle cx="332.8" cy="197.3" r="2.5" fill="#461264"/><circle cx="299.7" cy="199.7" r="2.5" fill="#450d60"/><circle cx="317.3" cy="213.1" r="2.5" fill="#424085"/><circle cx="309.6" cy="211.2" r="2.5" fill="#450d5f"/><circle cx="298.2" cy="207.9" r="2.5" fill="#482677"/><circle cx="304.0" cy="204.1" r="2.5" fill="#45085b"/><circle cx="288.0" cy="197.8" r="2.5" fill="#461466"/><circle cx="318.2" cy="205.0" r="2.5" fill="#424085"/><circle cx="325.8" cy="215.9" r="2.5" fill="#47196b"/><circle cx="303.8" cy="190.8" r="2.5" fill="#440255"/><circle cx="303.4" cy="211.0" r="2.5" fill="#471e6f"/><circle cx="316.9" cy="227.4" r="2.5" fill="#2e6f8e"/><circle cx="311.2" cy="218.5" r="2.5" fill="#482676"/><circle cx="315.1" cy="231.1" r="2.5" fill="#297c8e"/><circle cx="295.2" cy="199.9" r="2.5" fill="#450e61"/><circle cx="276.3" cy="213.8" r="2.5" fill="#38598b"/><circle cx="284.5" cy="221.0" r="2.5" fill="#31688d"/><circle cx="308.1" cy="215.9" r="2.5" fill="#461062"/><circle cx="305.7" cy="199.5" r="2.5" fill="#461164"/><circle cx="319.9" cy="208.6" r="2.5" fill="#45337e"/><circle cx="318.5" cy="255.5" r="2.5" fill="#38598b"/><circle cx="304.0" cy="200.0" r="2.5" fill="#461365"/><circle cx="295.6" cy="208.8" r="2.5" fill="#440457"/><circle cx="308.9" cy="207.2" r="2.5" fill="#482676"/><circle cx="305.9" cy="187.1" r="2.5" fill="#440457"/><circle cx="291.1" cy="205.6" r="2.5" fill="#450a5c"/><circle cx="300.6" cy="225.3" r="2.5" fill="#3a558b"/><circle cx="326.4" cy="210.2" r="2.5" fill="#433c82"/><circle cx="326.2" cy="211.9" r="2.5" fill="#45337e"/><circle cx="302.7" cy="200.1" r="2.5" fill="#45075a"/><circle cx="326.1" cy="211.5" r="2.5" fill="#45347e"/><circle cx="311.9" cy="201.4" r="2.5" fill="#450e60"/><circle cx="315.5" cy="215.5" r="2.5" fill="#45317d"/><circle cx="321.3" cy="197.1" r="2.5" fill="#440255"/><circle cx="308.6" cy="206.5" r="2.5" fill="#450659"/><circle cx="266.1" cy="204.6" r="2.5" fill="#38598b"/><circle cx="292.1" cy="202.5" r="2.5" fill="#45327d"/><circle cx="304.0" cy="215.5" r="2.5" fill="#482576"/><circle cx="315.2" cy="213.7" r="2.5" fill="#440255"/></g>
<path d="M302.15 271.97V183.97" stroke="#000" stroke-width="1.07" stroke-dasharray="4.5 3.8" fill="none"/>
<path d="M219.39 223.33L340.09 204.65" stroke="#3d3d3d" stroke-width="1.75" fill="none"/>
<g font-size="9.1" fill="#000"><text x="211.15" y="252.47">r</text><text x="215.55" y="252.47">=</text><text x="222.75" y="252.47">0.19</text><text x="211.15" y="260.47">β</text><text x="219.05" y="260.47">=</text><text x="225.45" y="260.47">0.086</text><text x="211.15" y="269.77">α</text><text x="219.05" y="269.77">=</text><text x="225.45" y="269.77">0.73</text></g>
<rect x="208.25" y="183.97" width="155.00" height="88.00" fill="none" stroke="#555" stroke-width="1.1"/>
<rect x="208.25" y="163.97" width="155.00" height="20.00" fill="#D9D9D9" stroke="#555" stroke-width="1.1"/>
<path d="M208.25 184.77H363.25" stroke="#8a8a8a" stroke-width="1.2"/>
<text x="285.75" y="179.17" font-size="12.75" fill="#1A1A1A" text-anchor="middle">Cluster 6</text>
</g>
<g>
<rect x="369.00" y="183.97" width="155.00" height="88.00" fill="#fff"/>
<path d="M394.42 183.97V271.97M440.07 183.97V271.97M485.72 183.97V271.97M369.00 260.04H524.00M369.00 239.59H524.00M369.00 219.14H524.00M369.00 198.69H524.00" stroke="#EBEBEB" stroke-width="0.8" fill="none"/>
<path d="M371.60 183.97V271.97M417.25 183.97V271.97M462.90 183.97V271.97M508.55 183.97V271.97M369.00 270.27H524.00M369.00 249.82H524.00M369.00 229.37H524.00M369.00 208.92H524.00M369.00 188.47H524.00" stroke="#EBEBEB" stroke-width="1.6" fill="none"/>
<clipPath id="cp6"><rect x="369.00" y="183.97" width="155.00" height="88.00"/></clipPath>
<g fill-opacity="0.58" clip-path="url(#cp6)"><circle cx="455.5" cy="237.2" r="2.5" fill="#bbdf27"/><circle cx="453.2" cy="203.6" r="2.5" fill="#450a5d"/><circle cx="461.5" cy="217.0" r="2.5" fill="#3b538a"/><circle cx="495.4" cy="203.5" r="2.5" fill="#482173"/><circle cx="476.1" cy="191.2" r="2.5" fill="#45095c"/><circle cx="473.8" cy="237.7" r="2.5" fill="#21908c"/><circle cx="474.0" cy="208.8" r="2.5" fill="#450a5c"/><circle cx="451.0" cy="193.7" r="2.5" fill="#45327d"/><circle cx="472.0" cy="192.8" r="2.5" fill="#440457"/><circle cx="470.0" cy="199.6" r="2.5" fill="#45075a"/><circle cx="472.0" cy="187.3" r="2.5" fill="#47196b"/><circle cx="469.8" cy="217.6" r="2.5" fill="#2f6e8e"/><circle cx="425.9" cy="211.5" r="2.5" fill="#306c8e"/><circle cx="446.4" cy="212.6" r="2.5" fill="#306c8e"/><circle cx="435.0" cy="208.1" r="2.5" fill="#38598b"/><circle cx="476.0" cy="198.4" r="2.5" fill="#47186a"/><circle cx="465.4" cy="225.8" r="2.5" fill="#287e8d"/><circle cx="457.9" cy="198.9" r="2.5" fill="#471a6c"/><circle cx="459.8" cy="225.0" r="2.5" fill="#35608d"/><circle cx="478.8" cy="217.2" r="2.5" fill="#414587"/><circle cx="473.2" cy="193.7" r="2.5" fill="#461264"/><circle cx="464.8" cy="198.5" r="2.5" fill="#450e60"/><circle cx="451.8" cy="217.9" r="2.5" fill="#404687"/><circle cx="460.4" cy="214.0" r="2.5" fill="#443780"/><circle cx="439.6" cy="234.9" r="2.5" fill="#21908c"/><circle cx="458.4" cy="197.8" r="2.5" fill="#461062"/><circle cx="454.1" cy="211.6" r="2.5" fill="#471a6c"/><circle cx="473.8" cy="203.5" r="2.5" fill="#440255"/><circle cx="469.9" cy="201.1" r="2.5" fill="#461264"/><circle cx="474.6" cy="205.7" r="2.5" fill="#461769"/><circle cx="463.0" cy="202.8" r="2.5" fill="#461769"/><circle cx="469.2" cy="204.4" r="2.5" fill="#461264"/><circle cx="467.4" cy="201.7" r="2.5" fill="#461264"/><circle cx="461.6" cy="216.4" r="2.5" fill="#472877"/><circle cx="465.1" cy="210.2" r="2.5" fill="#461264"/><circle cx="458.2" cy="220.5" r="2.5" fill="#375a8c"/><circle cx="473.8" cy="265.0" r="2.5" fill="#45327d"/><circle cx="468.2" cy="204.0" r="2.5" fill="#461365"/><circle cx="461.2" cy="221.0" r="2.5" fill="#3e4b89"/><circle cx="468.9" cy="190.4" r="2.5" fill="#440558"/><circle cx="478.1" cy="201.0" r="2.5" fill="#45337e"/><circle cx="480.8" cy="210.2" r="2.5" fill="#471c6e"/><circle cx="460.9" cy="224.3" r="2.5" fill="#33648d"/><circle cx="485.1" cy="232.0" r="2.5" fill="#306c8e"/><circle cx="476.8" cy="209.4" r="2.5" fill="#45317d"/><circle cx="460.5" cy="201.5" r="2.5" fill="#440255"/><circle cx="416.8" cy="221.7" r="2.5" fill="#229c88"/><circle cx="467.8" cy="217.4" r="2.5" fill="#385a8c"/><circle cx="487.6" cy="220.6" r="2.5" fill="#3a558b"/><circle cx="479.1" cy="203.4" r="2.5" fill="#450e60"/><circle cx="468.1" cy="222.9" r="2.5" fill="#306b8d"/><circle cx="477.4" cy="197.4" r="2.5" fill="#450e61"/><circle cx="469.9" cy="197.2" r="2.5" fill="#45095b"/><circle cx="476.9" cy="219.6" r="2.5" fill="#33648d"/><circle cx="484.8" cy="216.4" r="2.5" fill="#433d83"/><circle cx="483.1" cy="199.3" r="2.5" fill="#450b5d"/><circle cx="472.5" cy="200.9" r="2.5" fill="#440255"/><circle cx="478.0" cy="218.9" r="2.5" fill="#365e8d"/><circle cx="468.0" cy="202.4" r="2.5" fill="#462d7a"/><circle cx="485.6" cy="211.3" r="2.5" fill="#471c6d"/><circle cx="461.5" cy="214.3" r="2.5" fill="#414386"/><circle cx="408.9" cy="213.3" r="2.5" fill="#306c8e"/><circle cx="474.7" cy="227.3" r="2.5" fill="#2c748e"/><circle cx="463.1" cy="218.8" r="2.5" fill="#482172"/><circle cx="466.6" cy="187.2" r="2.5" fill="#450a5c"/><circle cx="468.0" cy="203.0" r="2.5" fill="#440558"/><circle cx="458.1" cy="213.8" r="2.5" fill="#3f4988"/><circle cx="463.3" cy="207.6" r="2.5" fill="#460f61"/><circle cx="464.9" cy="203.7" r="2.5" fill="#440255"/><circle cx="474.2" cy="196.3" r="2.5" fill="#450659"/><circle cx="458.0" cy="203.4" r="2.5" fill="#462f7c"/><circle cx="445.7" cy="213.3" r="2.5" fill="#414286"/><circle cx="468.0" cy="205.6" r="2.5" fill="#482173"/><circle cx="469.1" cy="218.4" r="2.5" fill="#365f8d"/><circle cx="444.2" cy="195.5" r="2.5" fill="#45327d"/><circle cx="457.9" cy="227.2" r="2.5" fill="#26838d"/><circle cx="472.1" cy="202.3" r="2.5" fill="#450659"/><circle cx="456.6" cy="197.9" r="2.5" fill="#440255"/><circle cx="458.1" cy="216.7" r="2.5" fill="#3d4e89"/><circle cx="399.7" cy="224.5" r="2.5" fill="#21908c"/><circle cx="469.8" cy="192.7" r="2.5" fill="#440255"/><circle cx="463.4" cy="201.3" r="2.5" fill="#461062"/><circle cx="469.4" cy="222.3" r="2.5" fill="#306c8d"/><circle cx="463.3" cy="206.6" r="2.5" fill="#450c5f"/><circle cx="463.4" cy="198.5" r="2.5" fill="#450759"/><circle cx="458.2" cy="192.1" r="2.5" fill="#440255"/><circle cx="469.9" cy="203.7" r="2.5" fill="#482172"/><circle cx="479.2" cy="228.5" r="2.5" fill="#34628d"/><circle cx="471.2" cy="198.2" r="2.5" fill="#460f61"/><circle cx="454.7" cy="220.5" r="2.5" fill="#2f6d8e"/><circle cx="467.7" cy="186.5" r="2.5" fill="#440255"/><circle cx="463.9" cy="205.9" r="2.5" fill="#414487"/><circle cx="445.3" cy="232.0" r="2.5" fill="#2a788e"/><circle cx="455.4" cy="218.4" r="2.5" fill="#44357f"/><circle cx="466.0" cy="225.2" r="2.5" fill="#2d718e"/><circle cx="466.6" cy="188.4" r="2.5" fill="#440255"/><circle cx="484.7" cy="203.7" r="2.5" fill="#482273"/><circle cx="485.6" cy="191.9" r="2.5" fill="#460f62"/><circle cx="463.6" cy="204.5" r="2.5" fill="#461466"/><circle cx="493.8" cy="213.8" r="2.5" fill="#45327d"/><circle cx="472.6" cy="200.5" r="2.5" fill="#461163"/><circle cx="480.6" cy="198.3" r="2.5" fill="#45095b"/><circle cx="484.0" cy="202.2" r="2.5" fill="#472878"/><circle cx="456.2" cy="224.3" r="2.5" fill="#3a538a"/><circle cx="489.0" cy="220.9" r="2.5" fill="#33658d"/><circle cx="456.8" cy="221.9" r="2.5" fill="#414386"/><circle cx="470.7" cy="222.3" r="2.5" fill="#31688d"/><circle cx="475.8" cy="187.7" r="2.5" fill="#440255"/><circle cx="478.0" cy="211.1" r="2.5" fill="#471e6f"/><circle cx="451.2" cy="190.7" r="2.5" fill="#450658"/><circle cx="460.7" cy="208.6" r="2.5" fill="#482576"/><circle cx="467.3" cy="204.4" r="2.5" fill="#450659"/><circle cx="447.8" cy="200.1" r="2.5" fill="#45095b"/><circle cx="470.4" cy="210.9" r="2.5" fill="#482273"/><circle cx="455.8" cy="224.3" r="2.5" fill="#3b538a"/><circle cx="467.7" cy="221.6" r="2.5" fill="#3a548a"/><circle cx="475.4" cy="225.7" r="2.5" fill="#287d8e"/><circle cx="469.2" cy="205.2" r="2.5" fill="#47196b"/><circle cx="463.9" cy="205.3" r="2.5" fill="#450a5d"/><circle cx="452.6" cy="220.4" r="2.5" fill="#287f8d"/><circle cx="463.6" cy="194.9" r="2.5" fill="#461466"/><circle cx="462.7" cy="189.3" r="2.5" fill="#461466"/><circle cx="458.1" cy="209.5" r="2.5" fill="#461264"/><circle cx="456.0" cy="223.0" r="2.5" fill="#35608d"/><circle cx="445.3" cy="221.5" r="2.5" fill="#2a788e"/><circle cx="459.4" cy="199.6" r="2.5" fill="#472878"/><circle cx="471.3" cy="212.1" r="2.5" fill="#45095c"/><circle cx="479.5" cy="193.6" r="2.5" fill="#450d60"/><circle cx="475.3" cy="202.7" r="2.5" fill="#450659"/><circle cx="465.8" cy="204.7" r="2.5" fill="#450c5e"/><circle cx="437.6" cy="219.5" r="2.5" fill="#365d8c"/><circle cx="467.2" cy="202.9" r="2.5" fill="#461668"/><circle cx="472.9" cy="189.9" r="2.5" fill="#440255"/><circle cx="478.2" cy="213.8" r="2.5" fill="#44357f"/><circle cx="478.3" cy="209.7" r="2.5" fill="#471f70"/><circle cx="461.2" cy="227.3" r="2.5" fill="#2c748e"/><circle cx="468.8" cy="187.4" r="2.5" fill="#440255"/><circle cx="453.8" cy="219.2" r="2.5" fill="#424185"/><circle cx="463.8" cy="223.4" r="2.5" fill="#365d8c"/><circle cx="478.2" cy="199.1" r="2.5" fill="#45075a"/><circle cx="466.4" cy="193.9" r="2.5" fill="#440255"/><circle cx="468.3" cy="208.0" r="2.5" fill="#461668"/><circle cx="471.1" cy="192.1" r="2.5" fill="#461264"/><circle cx="450.3" cy="223.6" r="2.5" fill="#2f6d8e"/><circle cx="447.1" cy="208.1" r="2.5" fill="#482374"/><circle cx="485.6" cy="188.7" r="2.5" fill="#482173"/><circle cx="455.1" cy="195.9" r="2.5" fill="#461264"/><circle cx="485.9" cy="206.1" r="2.5" fill="#471c6d"/><circle cx="464.0" cy="197.8" r="2.5" fill="#450c5e"/><circle cx="439.6" cy="201.2" r="2.5" fill="#38598b"/><circle cx="456.5" cy="199.9" r="2.5" fill="#440255"/><circle cx="458.5" cy="192.9" r="2.5" fill="#440255"/><circle cx="482.2" cy="206.1" r="2.5" fill="#461164"/><circle cx="476.4" cy="196.7" r="2.5" fill="#47196a"/><circle cx="476.3" cy="192.4" r="2.5" fill="#440457"/><circle cx="427.1" cy="202.4" r="2.5" fill="#38598b"/><circle cx="450.6" cy="201.0" r="2.5" fill="#450e60"/><circle cx="454.5" cy="197.8" r="2.5" fill="#450a5d"/><circle cx="476.4" cy="194.6" r="2.5" fill="#471a6b"/><circle cx="473.7" cy="218.2" r="2.5" fill="#2f6c8e"/><circle cx="482.3" cy="212.4" r="2.5" fill="#39578b"/><circle cx="453.0" cy="215.0" r="2.5" fill="#443780"/><circle cx="478.8" cy="219.8" r="2.5" fill="#3f4988"/><circle cx="477.4" cy="201.2" r="2.5" fill="#450b5d"/><circle cx="466.8" cy="220.5" r="2.5" fill="#3f4888"/><circle cx="420.9" cy="225.8" r="2.5" fill="#5ec861"/><circle cx="470.0" cy="209.0" r="2.5" fill="#450a5d"/><circle cx="422.5" cy="219.5" r="2.5" fill="#21908c"/><circle cx="446.6" cy="224.1" r="2.5" fill="#2c738e"/><circle cx="465.6" cy="212.8" r="2.5" fill="#45327d"/><circle cx="470.8" cy="209.0" r="2.5" fill="#47196b"/><circle cx="470.6" cy="202.1" r="2.5" fill="#482576"/><circle cx="462.5" cy="205.4" r="2.5" fill="#461466"/><circle cx="467.8" cy="204.6" r="2.5" fill="#47186a"/><circle cx="437.3" cy="218.3" r="2.5" fill="#26848d"/><circle cx="457.4" cy="206.6" r="2.5" fill="#471a6c"/><circle cx="425.5" cy="234.9" r="2.5" fill="#229c88"/><circle cx="454.2" cy="206.2" r="2.5" fill="#450d5f"/><circle cx="466.6" cy="199.1" r="2.5" fill="#461466"/><circle cx="418.0" cy="214.9" r="2.5" fill="#26848d"/><circle cx="456.4" cy="222.0" r="2.5" fill="#2c738e"/><circle cx="471.5" cy="192.4" r="2.5" fill="#440457"/><circle cx="458.1" cy="203.5" r="2.5" fill="#471a6c"/><circle cx="465.0" cy="208.3" r="2.5" fill="#47196b"/><circle cx="466.5" cy="197.8" r="2.5" fill="#45095c"/><circle cx="467.1" cy="202.2" r="2.5" fill="#461163"/><circle cx="479.3" cy="201.8" r="2.5" fill="#461667"/><circle cx="475.1" cy="199.5" r="2.5" fill="#47186a"/><circle cx="462.6" cy="203.9" r="2.5" fill="#472b7a"/><circle cx="463.7" cy="206.0" r="2.5" fill="#450d5f"/><circle cx="432.8" cy="203.1" r="2.5" fill="#38598b"/><circle cx="463.0" cy="196.2" r="2.5" fill="#450c5e"/><circle cx="477.7" cy="204.9" r="2.5" fill="#472877"/><circle cx="464.9" cy="214.9" r="2.5" fill="#414487"/><circle cx="462.8" cy="188.7" r="2.5" fill="#440255"/><circle cx="428.7" cy="229.3" r="2.5" fill="#22a884"/><circle cx="473.2" cy="225.2" r="2.5" fill="#33658d"/><circle cx="466.6" cy="189.7" r="2.5" fill="#440356"/><circle cx="457.2" cy="213.8" r="2.5" fill="#2f6c8e"/><circle cx="489.8" cy="219.5" r="2.5" fill="#2e6f8e"/><circle cx="457.5" cy="206.1" r="2.5" fill="#472978"/><circle cx="471.1" cy="206.2" r="2.5" fill="#471f70"/><circle cx="462.3" cy="192.4" r="2.5" fill="#440255"/><circle cx="474.6" cy="194.7" r="2.5" fill="#450d5f"/><circle cx="462.2" cy="210.9" r="2.5" fill="#424185"/><circle cx="478.6" cy="216.2" r="2.5" fill="#45347e"/><circle cx="487.4" cy="257.7" r="2.5" fill="#45327d"/><circle cx="457.8" cy="200.3" r="2.5" fill="#461567"/><circle cx="474.1" cy="203.5" r="2.5" fill="#471d6f"/><circle cx="441.9" cy="213.8" r="2.5" fill="#306c8e"/><circle cx="458.9" cy="197.7" r="2.5" fill="#472072"/><circle cx="415.7" cy="227.4" r="2.5" fill="#22a884"/><circle cx="472.3" cy="222.7" r="2.5" fill="#306b8d"/><circle cx="433.9" cy="219.5" r="2.5" fill="#21908c"/><circle cx="465.8" cy="192.5" r="2.5" fill="#461365"/><circle cx="461.7" cy="207.6" r="2.5" fill="#461062"/><circle cx="464.4" cy="206.1" r="2.5" fill="#450659"/><circle cx="452.1" cy="200.0" r="2.5" fill="#47196a"/><circle cx="462.0" cy="184.9" r="2.5" fill="#440356"/><circle cx="453.2" cy="206.7" r="2.5" fill="#471e6f"/><circle cx="461.3" cy="224.5" r="2.5" fill="#287e8e"/><circle cx="483.7" cy="216.2" r="2.5" fill="#355f8d"/><circle cx="479.9" cy="185.9" r="2.5" fill="#440255"/><circle cx="454.4" cy="219.3" r="2.5" fill="#45347e"/><circle cx="479.3" cy="194.5" r="2.5" fill="#440255"/><circle cx="451.4" cy="219.8" r="2.5" fill="#34638d"/><circle cx="453.3" cy="197.5" r="2.5" fill="#440355"/><circle cx="456.7" cy="230.8" r="2.5" fill="#26848d"/><circle cx="442.8" cy="212.1" r="2.5" fill="#414386"/><circle cx="450.9" cy="213.2" r="2.5" fill="#46307c"/><circle cx="456.8" cy="218.6" r="2.5" fill="#2b768e"/><circle cx="471.2" cy="210.6" r="2.5" fill="#482777"/><circle cx="476.6" cy="213.6" r="2.5" fill="#462d7a"/><circle cx="471.2" cy="202.7" r="2.5" fill="#440356"/><circle cx="467.0" cy="195.8" r="2.5" fill="#461062"/><circle cx="455.9" cy="213.5" r="2.5" fill="#414286"/><circle cx="462.2" cy="202.9" r="2.5" fill="#472878"/><circle cx="465.9" cy="203.6" r="2.5" fill="#461264"/><circle cx="450.9" cy="203.9" r="2.5" fill="#461567"/><circle cx="451.8" cy="220.1" r="2.5" fill="#32678d"/><circle cx="476.7" cy="205.4" r="2.5" fill="#461668"/><circle cx="475.6" cy="198.9" r="2.5" fill="#450a5c"/><circle cx="484.7" cy="201.3" r="2.5" fill="#45095c"/><circle cx="486.6" cy="221.7" r="2.5" fill="#414587"/><circle cx="445.3" cy="205.5" r="2.5" fill="#450a5d"/><circle cx="481.2" cy="210.9" r="2.5" fill="#433a81"/><circle cx="468.5" cy="195.6" r="2.5" fill="#450659"/><circle cx="456.1" cy="197.2" r="2.5" fill="#440255"/><circle cx="447.2" cy="198.3" r="2.5" fill="#440255"/><circle cx="454.3" cy="199.6" r="2.5" fill="#461365"/><circle cx="459.3" cy="203.0" r="2.5" fill="#471a6c"/><circle cx="480.3" cy="205.0" r="2.5" fill="#482677"/><circle cx="483.0" cy="207.4" r="2.5" fill="#472a79"/><circle cx="454.1" cy="207.1" r="2.5" fill="#44357f"/><circle cx="475.0" cy="198.7" r="2.5" fill="#45085b"/><circle cx="460.4" cy="201.7" r="2.5" fill="#45085a"/><circle cx="470.9" cy="204.0" r="2.5" fill="#461264"/><circle cx="446.9" cy="224.8" r="2.5" fill="#31698d"/><circle cx="413.0" cy="239.5" r="2.5" fill="#bbdf27"/><circle cx="451.4" cy="222.8" r="2.5" fill="#38598c"/><circle cx="476.4" cy="199.0" r="2.5" fill="#45095c"/><circle cx="472.1" cy="194.0" r="2.5" fill="#461062"/></g>
<path d="M462.90 271.97V183.97" stroke="#000" stroke-width="1.07" stroke-dasharray="4.5 3.8" fill="none"/>
<path d="M400.20 217.86L495.39 206.92" stroke="#3d3d3d" stroke-width="1.75" fill="none"/>
<g font-size="9.1" fill="#000"><text x="371.90" y="252.47">r</text><text x="376.30" y="252.47">=</text><text x="383.50" y="252.47">0.18</text><text x="371.90" y="260.47">β</text><text x="379.80" y="260.47">=</text><text x="386.20" y="260.47">0.063</text><text x="371.90" y="269.77">α</text><text x="379.80" y="269.77">=</text><text x="386.20" y="269.77">0.72</text></g>
<rect x="369.00" y="183.97" width="155.00" height="88.00" fill="none" stroke="#555" stroke-width="1.1"/>
<rect x="369.00" y="163.97" width="155.00" height="20.00" fill="#D9D9D9" stroke="#555" stroke-width="1.1"/>
<path d="M369.00 184.77H524.00" stroke="#8a8a8a" stroke-width="1.2"/>
<text x="446.50" y="179.17" font-size="12.75" fill="#1A1A1A" text-anchor="middle">Cluster 7</text>
</g>
<g>
<rect x="529.75" y="183.97" width="155.00" height="88.00" fill="#fff"/>
<path d="M555.17 183.97V271.97M600.82 183.97V271.97M646.48 183.97V271.97M529.75 260.04H684.75M529.75 239.59H684.75M529.75 219.14H684.75M529.75 198.69H684.75" stroke="#EBEBEB" stroke-width="0.8" fill="none"/>
<path d="M532.35 183.97V271.97M578.00 183.97V271.97M623.65 183.97V271.97M669.30 183.97V271.97M529.75 270.27H684.75M529.75 249.82H684.75M529.75 229.37H684.75M529.75 208.92H684.75M529.75 188.47H684.75" stroke="#EBEBEB" stroke-width="1.6" fill="none"/>
<clipPath id="cp7"><rect x="529.75" y="183.97" width="155.00" height="88.00"/></clipPath>
<g fill-opacity="0.58" clip-path="url(#cp7)"><circle cx="625.5" cy="201.8" r="2.5" fill="#450b5d"/><circle cx="642.1" cy="202.6" r="2.5" fill="#450659"/><circle cx="637.8" cy="215.2" r="2.5" fill="#472978"/><circle cx="616.5" cy="215.0" r="2.5" fill="#3a558b"/><circle cx="616.7" cy="205.1" r="2.5" fill="#414286"/><circle cx="635.0" cy="200.8" r="2.5" fill="#440255"/><circle cx="617.1" cy="208.9" r="2.5" fill="#385a8c"/><circle cx="641.3" cy="194.2" r="2.5" fill="#450b5e"/><circle cx="641.7" cy="231.5" r="2.5" fill="#38598b"/><circle cx="589.4" cy="232.0" r="2.5" fill="#26848d"/><circle cx="603.5" cy="213.7" r="2.5" fill="#404788"/><circle cx="587.1" cy="203.1" r="2.5" fill="#38598b"/><circle cx="621.1" cy="189.6" r="2.5" fill="#45095c"/><circle cx="651.9" cy="197.2" r="2.5" fill="#450d5f"/><circle cx="609.1" cy="204.9" r="2.5" fill="#471d6f"/><circle cx="636.7" cy="209.0" r="2.5" fill="#482274"/><circle cx="644.2" cy="189.8" r="2.5" fill="#440255"/><circle cx="647.7" cy="194.1" r="2.5" fill="#440255"/><circle cx="617.3" cy="203.6" r="2.5" fill="#472877"/><circle cx="635.7" cy="211.8" r="2.5" fill="#461668"/><circle cx="632.8" cy="221.0" r="2.5" fill="#34628d"/><circle cx="654.3" cy="194.8" r="2.5" fill="#45327d"/><circle cx="609.8" cy="207.0" r="2.5" fill="#462f7b"/><circle cx="585.7" cy="209.0" r="2.5" fill="#462d7a"/><circle cx="650.8" cy="199.1" r="2.5" fill="#450a5c"/><circle cx="607.7" cy="209.8" r="2.5" fill="#2e708e"/><circle cx="599.3" cy="209.3" r="2.5" fill="#45347e"/><circle cx="603.2" cy="211.0" r="2.5" fill="#297a8e"/><circle cx="638.1" cy="206.3" r="2.5" fill="#472b79"/><circle cx="639.5" cy="225.2" r="2.5" fill="#21908c"/><circle cx="654.0" cy="203.4" r="2.5" fill="#45075a"/><circle cx="628.1" cy="200.1" r="2.5" fill="#472878"/><circle cx="621.1" cy="193.7" r="2.5" fill="#440558"/><circle cx="618.3" cy="213.9" r="2.5" fill="#424185"/><circle cx="641.2" cy="197.6" r="2.5" fill="#461365"/><circle cx="588.9" cy="202.5" r="2.5" fill="#3e4b88"/><circle cx="616.5" cy="216.7" r="2.5" fill="#35608d"/><circle cx="624.0" cy="199.4" r="2.5" fill="#472c7a"/><circle cx="613.6" cy="205.7" r="2.5" fill="#482576"/><circle cx="621.4" cy="207.2" r="2.5" fill="#45307c"/><circle cx="610.7" cy="206.5" r="2.5" fill="#45307c"/><circle cx="606.9" cy="224.4" r="2.5" fill="#32668d"/><circle cx="610.4" cy="208.5" r="2.5" fill="#433c83"/><circle cx="646.6" cy="209.4" r="2.5" fill="#404788"/><circle cx="633.7" cy="201.6" r="2.5" fill="#461365"/><circle cx="607.6" cy="231.5" r="2.5" fill="#306c8e"/><circle cx="632.3" cy="196.8" r="2.5" fill="#440255"/><circle cx="641.2" cy="196.7" r="2.5" fill="#450d5f"/><circle cx="623.1" cy="195.9" r="2.5" fill="#440255"/><circle cx="628.9" cy="191.1" r="2.5" fill="#450e61"/><circle cx="604.0" cy="201.3" r="2.5" fill="#461264"/><circle cx="612.9" cy="190.2" r="2.5" fill="#440255"/><circle cx="606.1" cy="206.2" r="2.5" fill="#31698d"/><circle cx="576.4" cy="208.1" r="2.5" fill="#404688"/><circle cx="603.4" cy="208.1" r="2.5" fill="#404788"/><circle cx="600.7" cy="202.5" r="2.5" fill="#47196b"/><circle cx="629.5" cy="191.3" r="2.5" fill="#440457"/><circle cx="637.5" cy="194.6" r="2.5" fill="#461668"/><circle cx="615.1" cy="200.2" r="2.5" fill="#450e60"/><circle cx="635.0" cy="195.2" r="2.5" fill="#450c5e"/><circle cx="636.1" cy="211.9" r="2.5" fill="#2e6e8e"/><circle cx="628.1" cy="222.9" r="2.5" fill="#21908c"/><circle cx="625.8" cy="218.4" r="2.5" fill="#2f6d8e"/><circle cx="674.1" cy="204.6" r="2.5" fill="#45327d"/><circle cx="631.5" cy="221.5" r="2.5" fill="#31688d"/><circle cx="638.5" cy="200.7" r="2.5" fill="#440457"/><circle cx="597.9" cy="213.9" r="2.5" fill="#3c4f89"/><circle cx="641.8" cy="205.2" r="2.5" fill="#462c7a"/><circle cx="632.7" cy="196.9" r="2.5" fill="#472072"/><circle cx="608.2" cy="219.9" r="2.5" fill="#277f8d"/><circle cx="654.4" cy="199.0" r="2.5" fill="#45085b"/><circle cx="650.8" cy="219.5" r="2.5" fill="#404587"/><circle cx="603.2" cy="213.1" r="2.5" fill="#2f6d8e"/><circle cx="639.4" cy="189.2" r="2.5" fill="#440255"/><circle cx="612.8" cy="191.9" r="2.5" fill="#440558"/><circle cx="615.8" cy="199.4" r="2.5" fill="#440255"/><circle cx="621.2" cy="229.7" r="2.5" fill="#38598b"/><circle cx="609.2" cy="198.4" r="2.5" fill="#461264"/><circle cx="560.2" cy="214.4" r="2.5" fill="#26848d"/><circle cx="620.4" cy="193.3" r="2.5" fill="#440558"/><circle cx="639.4" cy="213.2" r="2.5" fill="#44367f"/><circle cx="624.0" cy="198.6" r="2.5" fill="#47196b"/><circle cx="607.3" cy="208.7" r="2.5" fill="#461466"/><circle cx="594.4" cy="230.2" r="2.5" fill="#7ad151"/><circle cx="629.2" cy="193.8" r="2.5" fill="#440255"/><circle cx="617.2" cy="206.5" r="2.5" fill="#45307c"/><circle cx="603.6" cy="203.9" r="2.5" fill="#3c4f89"/><circle cx="624.0" cy="199.8" r="2.5" fill="#471f70"/><circle cx="626.2" cy="213.8" r="2.5" fill="#3a548a"/><circle cx="583.2" cy="206.6" r="2.5" fill="#3a558b"/><circle cx="596.9" cy="221.2" r="2.5" fill="#32678d"/><circle cx="602.8" cy="211.4" r="2.5" fill="#2c748e"/><circle cx="630.1" cy="211.4" r="2.5" fill="#461567"/><circle cx="642.4" cy="197.7" r="2.5" fill="#461567"/><circle cx="618.1" cy="211.9" r="2.5" fill="#404788"/><circle cx="607.9" cy="212.5" r="2.5" fill="#32678d"/><circle cx="622.7" cy="207.9" r="2.5" fill="#450b5e"/><circle cx="628.7" cy="197.9" r="2.5" fill="#461668"/><circle cx="628.3" cy="198.2" r="2.5" fill="#461062"/><circle cx="591.8" cy="200.5" r="2.5" fill="#482677"/><circle cx="670.7" cy="222.9" r="2.5" fill="#45327d"/><circle cx="607.0" cy="202.5" r="2.5" fill="#404587"/><circle cx="603.3" cy="216.3" r="2.5" fill="#365e8c"/><circle cx="635.2" cy="206.6" r="2.5" fill="#45085b"/><circle cx="608.9" cy="218.2" r="2.5" fill="#35618d"/><circle cx="639.6" cy="200.6" r="2.5" fill="#471b6c"/><circle cx="625.4" cy="216.8" r="2.5" fill="#414387"/><circle cx="623.7" cy="203.4" r="2.5" fill="#482273"/><circle cx="598.8" cy="210.9" r="2.5" fill="#433c83"/><circle cx="626.8" cy="201.3" r="2.5" fill="#461466"/><circle cx="592.9" cy="207.1" r="2.5" fill="#404788"/><circle cx="616.2" cy="214.6" r="2.5" fill="#2e6f8e"/><circle cx="618.1" cy="200.1" r="2.5" fill="#450759"/><circle cx="597.1" cy="203.3" r="2.5" fill="#44367f"/><circle cx="618.3" cy="202.6" r="2.5" fill="#450d5f"/><circle cx="608.5" cy="205.3" r="2.5" fill="#471e70"/><circle cx="599.8" cy="217.5" r="2.5" fill="#33658d"/><circle cx="645.8" cy="200.1" r="2.5" fill="#482172"/><circle cx="606.2" cy="213.5" r="2.5" fill="#34638d"/><circle cx="606.3" cy="197.0" r="2.5" fill="#450b5d"/><circle cx="630.1" cy="199.3" r="2.5" fill="#482475"/><circle cx="598.5" cy="219.3" r="2.5" fill="#306a8d"/><circle cx="607.2" cy="204.0" r="2.5" fill="#45347e"/><circle cx="588.3" cy="213.3" r="2.5" fill="#2f6d8e"/><circle cx="600.2" cy="207.2" r="2.5" fill="#44367f"/><circle cx="651.0" cy="204.6" r="2.5" fill="#472978"/><circle cx="618.8" cy="218.4" r="2.5" fill="#2e708e"/><circle cx="644.1" cy="212.0" r="2.5" fill="#31688d"/><circle cx="626.5" cy="209.6" r="2.5" fill="#3b518a"/><circle cx="593.0" cy="209.3" r="2.5" fill="#433a81"/><circle cx="583.7" cy="223.0" r="2.5" fill="#287e8d"/><circle cx="631.5" cy="207.6" r="2.5" fill="#461466"/><circle cx="648.1" cy="189.2" r="2.5" fill="#440558"/><circle cx="620.7" cy="198.6" r="2.5" fill="#45075a"/><circle cx="603.5" cy="214.7" r="2.5" fill="#3c518a"/><circle cx="600.5" cy="203.7" r="2.5" fill="#404587"/><circle cx="617.6" cy="197.6" r="2.5" fill="#471a6b"/><circle cx="623.9" cy="216.5" r="2.5" fill="#414587"/><circle cx="605.2" cy="200.0" r="2.5" fill="#461769"/><circle cx="637.9" cy="232.7" r="2.5" fill="#26848d"/><circle cx="602.8" cy="220.8" r="2.5" fill="#355f8d"/><circle cx="612.9" cy="193.1" r="2.5" fill="#440356"/><circle cx="598.5" cy="219.5" r="2.5" fill="#21908c"/><circle cx="596.8" cy="215.6" r="2.5" fill="#33658d"/><circle cx="629.5" cy="192.7" r="2.5" fill="#440255"/><circle cx="600.7" cy="224.5" r="2.5" fill="#21908c"/><circle cx="580.2" cy="219.5" r="2.5" fill="#26848d"/><circle cx="619.7" cy="204.7" r="2.5" fill="#471a6b"/><circle cx="634.0" cy="204.2" r="2.5" fill="#47196b"/><circle cx="631.3" cy="202.1" r="2.5" fill="#471a6c"/><circle cx="620.2" cy="204.3" r="2.5" fill="#3f4988"/><circle cx="629.7" cy="200.9" r="2.5" fill="#440457"/><circle cx="632.6" cy="203.1" r="2.5" fill="#450e60"/><circle cx="622.8" cy="192.3" r="2.5" fill="#440255"/><circle cx="646.3" cy="193.1" r="2.5" fill="#440255"/><circle cx="638.0" cy="191.6" r="2.5" fill="#440557"/><circle cx="609.2" cy="221.8" r="2.5" fill="#3e4a88"/><circle cx="639.7" cy="192.6" r="2.5" fill="#461567"/><circle cx="649.4" cy="197.9" r="2.5" fill="#450c5e"/><circle cx="638.0" cy="202.8" r="2.5" fill="#461567"/><circle cx="595.2" cy="205.1" r="2.5" fill="#433c82"/><circle cx="601.9" cy="227.4" r="2.5" fill="#26848d"/><circle cx="583.7" cy="212.6" r="2.5" fill="#306c8e"/><circle cx="619.7" cy="193.1" r="2.5" fill="#440255"/><circle cx="628.7" cy="209.5" r="2.5" fill="#3d4d89"/><circle cx="638.7" cy="202.2" r="2.5" fill="#45095c"/><circle cx="626.3" cy="196.1" r="2.5" fill="#443880"/><circle cx="617.9" cy="220.4" r="2.5" fill="#33658d"/><circle cx="630.3" cy="191.6" r="2.5" fill="#440356"/><circle cx="618.8" cy="223.9" r="2.5" fill="#32678d"/><circle cx="620.8" cy="196.0" r="2.5" fill="#45075a"/><circle cx="620.5" cy="205.8" r="2.5" fill="#472071"/><circle cx="622.8" cy="192.1" r="2.5" fill="#461567"/><circle cx="610.5" cy="210.5" r="2.5" fill="#433a81"/><circle cx="596.4" cy="205.8" r="2.5" fill="#472878"/><circle cx="615.1" cy="205.2" r="2.5" fill="#3d4e89"/><circle cx="652.2" cy="200.1" r="2.5" fill="#460f61"/><circle cx="612.6" cy="200.9" r="2.5" fill="#461163"/><circle cx="642.1" cy="206.9" r="2.5" fill="#443880"/><circle cx="587.6" cy="212.8" r="2.5" fill="#34638d"/><circle cx="632.9" cy="213.7" r="2.5" fill="#33648d"/><circle cx="626.7" cy="206.3" r="2.5" fill="#471b6d"/><circle cx="588.2" cy="217.4" r="2.5" fill="#2e708e"/><circle cx="619.4" cy="206.5" r="2.5" fill="#461466"/><circle cx="595.0" cy="207.4" r="2.5" fill="#3f4888"/><circle cx="633.2" cy="200.8" r="2.5" fill="#482172"/><circle cx="646.6" cy="190.3" r="2.5" fill="#440255"/><circle cx="590.5" cy="219.0" r="2.5" fill="#21908c"/><circle cx="611.4" cy="192.9" r="2.5" fill="#450b5e"/><circle cx="633.6" cy="195.2" r="2.5" fill="#450c5e"/><circle cx="609.5" cy="203.8" r="2.5" fill="#461668"/><circle cx="624.1" cy="212.0" r="2.5" fill="#482374"/><circle cx="641.7" cy="203.3" r="2.5" fill="#471d6f"/><circle cx="630.5" cy="219.5" r="2.5" fill="#39568b"/><circle cx="636.4" cy="187.8" r="2.5" fill="#45075a"/><circle cx="608.8" cy="209.7" r="2.5" fill="#404688"/><circle cx="640.3" cy="187.8" r="2.5" fill="#450a5c"/><circle cx="643.3" cy="202.7" r="2.5" fill="#482677"/><circle cx="644.5" cy="194.8" r="2.5" fill="#450e60"/><circle cx="622.2" cy="219.7" r="2.5" fill="#2f6c8e"/><circle cx="633.6" cy="191.0" r="2.5" fill="#440255"/><circle cx="596.5" cy="212.3" r="2.5" fill="#32678d"/><circle cx="614.0" cy="194.8" r="2.5" fill="#450b5d"/><circle cx="602.3" cy="244.5" r="2.5" fill="#229c88"/><circle cx="620.6" cy="201.9" r="2.5" fill="#461163"/><circle cx="633.7" cy="196.1" r="2.5" fill="#450e60"/><circle cx="618.4" cy="205.8" r="2.5" fill="#461466"/><circle cx="635.2" cy="199.7" r="2.5" fill="#450759"/><circle cx="639.1" cy="224.7" r="2.5" fill="#3a558b"/><circle cx="626.0" cy="188.5" r="2.5" fill="#440457"/><circle cx="579.1" cy="217.2" r="2.5" fill="#21908c"/><circle cx="624.0" cy="189.1" r="2.5" fill="#440255"/><circle cx="627.8" cy="196.6" r="2.5" fill="#482475"/><circle cx="616.6" cy="204.5" r="2.5" fill="#39568b"/><circle cx="613.5" cy="197.3" r="2.5" fill="#450b5d"/><circle cx="604.9" cy="213.7" r="2.5" fill="#404688"/><circle cx="602.4" cy="205.4" r="2.5" fill="#3e4b89"/><circle cx="620.4" cy="202.8" r="2.5" fill="#461163"/><circle cx="632.7" cy="196.3" r="2.5" fill="#440558"/><circle cx="582.3" cy="206.7" r="2.5" fill="#433a82"/><circle cx="547.7" cy="223.6" r="2.5" fill="#21908c"/><circle cx="643.8" cy="200.6" r="2.5" fill="#450c5e"/><circle cx="640.3" cy="205.7" r="2.5" fill="#45347e"/><circle cx="635.6" cy="198.1" r="2.5" fill="#461062"/><circle cx="633.6" cy="206.0" r="2.5" fill="#482676"/><circle cx="598.9" cy="206.0" r="2.5" fill="#482475"/><circle cx="626.2" cy="202.9" r="2.5" fill="#482576"/><circle cx="634.3" cy="204.5" r="2.5" fill="#433c83"/><circle cx="633.5" cy="195.6" r="2.5" fill="#47186a"/><circle cx="626.1" cy="198.0" r="2.5" fill="#461567"/><circle cx="639.6" cy="209.9" r="2.5" fill="#472a79"/><circle cx="629.3" cy="200.3" r="2.5" fill="#440356"/><circle cx="636.3" cy="201.4" r="2.5" fill="#45085b"/><circle cx="609.9" cy="214.3" r="2.5" fill="#3a548b"/><circle cx="615.9" cy="214.6" r="2.5" fill="#443780"/><circle cx="614.8" cy="217.5" r="2.5" fill="#33638d"/><circle cx="648.6" cy="212.9" r="2.5" fill="#443780"/><circle cx="637.2" cy="218.0" r="2.5" fill="#2f6d8e"/><circle cx="622.9" cy="201.9" r="2.5" fill="#44357f"/><circle cx="604.6" cy="212.2" r="2.5" fill="#424085"/><circle cx="619.4" cy="210.3" r="2.5" fill="#482576"/><circle cx="644.3" cy="188.1" r="2.5" fill="#461163"/><circle cx="614.4" cy="226.3" r="2.5" fill="#21908c"/><circle cx="636.9" cy="203.9" r="2.5" fill="#461466"/><circle cx="655.1" cy="198.8" r="2.5" fill="#460f61"/><circle cx="625.1" cy="210.0" r="2.5" fill="#443780"/><circle cx="591.7" cy="213.3" r="2.5" fill="#39568b"/><circle cx="578.0" cy="222.9" r="2.5" fill="#21908c"/><circle cx="646.4" cy="201.7" r="2.5" fill="#433b82"/><circle cx="623.0" cy="210.1" r="2.5" fill="#443780"/><circle cx="661.1" cy="203.5" r="2.5" fill="#45327d"/><circle cx="627.7" cy="199.6" r="2.5" fill="#440356"/><circle cx="588.3" cy="201.0" r="2.5" fill="#45337e"/><circle cx="630.1" cy="215.3" r="2.5" fill="#404587"/><circle cx="623.9" cy="204.2" r="2.5" fill="#472878"/><circle cx="636.2" cy="204.3" r="2.5" fill="#45337e"/><circle cx="597.0" cy="213.3" r="2.5" fill="#3c4f89"/><circle cx="651.1" cy="194.5" r="2.5" fill="#461062"/><circle cx="633.1" cy="201.3" r="2.5" fill="#461365"/><circle cx="634.9" cy="204.6" r="2.5" fill="#471d6e"/><circle cx="595.3" cy="219.9" r="2.5" fill="#297b8e"/><circle cx="609.4" cy="190.3" r="2.5" fill="#450659"/><circle cx="625.8" cy="210.6" r="2.5" fill="#472978"/><circle cx="609.4" cy="208.5" r="2.5" fill="#482273"/><circle cx="605.7" cy="196.5" r="2.5" fill="#45085b"/><circle cx="664.5" cy="205.8" r="2.5" fill="#404587"/><circle cx="602.6" cy="210.9" r="2.5" fill="#472978"/><circle cx="611.7" cy="205.5" r="2.5" fill="#461668"/><circle cx="612.5" cy="195.0" r="2.5" fill="#450658"/><circle cx="591.6" cy="190.3" r="2.5" fill="#45327d"/><circle cx="624.9" cy="197.8" r="2.5" fill="#450c5f"/><circle cx="605.3" cy="195.5" r="2.5" fill="#45327d"/><circle cx="628.9" cy="218.9" r="2.5" fill="#2d718e"/><circle cx="639.4" cy="205.1" r="2.5" fill="#471d6e"/><circle cx="612.7" cy="188.6" r="2.5" fill="#461062"/><circle cx="625.7" cy="207.9" r="2.5" fill="#450d5f"/><circle cx="620.1" cy="224.0" r="2.5" fill="#306c8e"/><circle cx="625.5" cy="188.0" r="2.5" fill="#45085b"/><circle cx="621.7" cy="204.8" r="2.5" fill="#472b79"/><circle cx="620.3" cy="196.8" r="2.5" fill="#450a5c"/><circle cx="630.8" cy="202.7" r="2.5" fill="#461466"/><circle cx="574.8" cy="220.1" r="2.5" fill="#3b538a"/><circle cx="619.6" cy="222.8" r="2.5" fill="#2c738e"/><circle cx="623.4" cy="189.6" r="2.5" fill="#440355"/><circle cx="641.5" cy="206.9" r="2.5" fill="#462d7a"/><circle cx="594.7" cy="207.9" r="2.5" fill="#414487"/><circle cx="603.0" cy="237.7" r="2.5" fill="#229c88"/><circle cx="647.7" cy="202.2" r="2.5" fill="#471b6c"/><circle cx="636.6" cy="192.6" r="2.5" fill="#482475"/><circle cx="583.0" cy="230.2" r="2.5" fill="#229c88"/><circle cx="586.4" cy="213.5" r="2.5" fill="#38598b"/><circle cx="610.6" cy="217.4" r="2.5" fill="#2d728e"/><circle cx="606.8" cy="211.9" r="2.5" fill="#404788"/><circle cx="650.4" cy="204.8" r="2.5" fill="#471f70"/><circle cx="628.6" cy="207.7" r="2.5" fill="#375c8c"/><circle cx="593.4" cy="215.1" r="2.5" fill="#424085"/><circle cx="597.5" cy="213.6" r="2.5" fill="#462c7a"/><circle cx="609.6" cy="202.5" r="2.5" fill="#461769"/><circle cx="631.7" cy="205.5" r="2.5" fill="#471c6d"/><circle cx="622.6" cy="216.3" r="2.5" fill="#414487"/><circle cx="616.3" cy="202.2" r="2.5" fill="#471a6b"/><circle cx="609.2" cy="189.5" r="2.5" fill="#440255"/><circle cx="638.5" cy="201.3" r="2.5" fill="#433981"/><circle cx="633.6" cy="203.9" r="2.5" fill="#462f7b"/><circle cx="604.3" cy="207.1" r="2.5" fill="#482576"/><circle cx="566.6" cy="218.8" r="2.5" fill="#26848d"/><circle cx="631.9" cy="205.2" r="2.5" fill="#45307c"/><circle cx="658.4" cy="193.3" r="2.5" fill="#45327d"/><circle cx="615.6" cy="192.8" r="2.5" fill="#461365"/><circle cx="611.0" cy="199.4" r="2.5" fill="#45327d"/><circle cx="640.1" cy="203.1" r="2.5" fill="#461264"/><circle cx="620.4" cy="197.8" r="2.5" fill="#443780"/><circle cx="618.3" cy="205.7" r="2.5" fill="#443780"/><circle cx="575.2" cy="206.2" r="2.5" fill="#38598b"/><circle cx="586.9" cy="208.3" r="2.5" fill="#3d4c89"/><circle cx="621.9" cy="216.6" r="2.5" fill="#33648d"/><circle cx="652.4" cy="197.3" r="2.5" fill="#440557"/><circle cx="635.6" cy="207.0" r="2.5" fill="#482676"/><circle cx="588.4" cy="200.8" r="2.5" fill="#365d8c"/><circle cx="616.6" cy="208.4" r="2.5" fill="#3c508a"/><circle cx="623.2" cy="216.8" r="2.5" fill="#31698d"/></g>
<path d="M623.65 271.97V183.97" stroke="#000" stroke-width="1.07" stroke-dasharray="4.5 3.8" fill="none"/>
<path d="M548.36 219.00L674.07 200.09" stroke="#3d3d3d" stroke-width="1.75" fill="none"/>
<g font-size="9.1" fill="#000"><text x="532.65" y="252.47">r</text><text x="537.05" y="252.47">=</text><text x="544.25" y="252.47">0.29</text><text x="532.65" y="260.47">β</text><text x="540.55" y="260.47">=</text><text x="546.95" y="260.47">0.084</text><text x="532.65" y="269.77">α</text><text x="540.55" y="269.77">=</text><text x="546.95" y="269.77">0.76</text></g>
<rect x="529.75" y="183.97" width="155.00" height="88.00" fill="none" stroke="#555" stroke-width="1.1"/>
<rect x="529.75" y="163.97" width="155.00" height="20.00" fill="#D9D9D9" stroke="#555" stroke-width="1.1"/>
<path d="M529.75 184.77H684.75" stroke="#8a8a8a" stroke-width="1.2"/>
<text x="607.25" y="179.17" font-size="12.75" fill="#1A1A1A" text-anchor="middle">Cluster 8</text>
</g>
<g>
<rect x="47.50" y="297.44" width="155.00" height="88.00" fill="#fff"/>
<path d="M72.93 297.44V385.44M118.58 297.44V385.44M164.22 297.44V385.44M47.50 373.51H202.50M47.50 353.06H202.50M47.50 332.62H202.50M47.50 312.17H202.50" stroke="#EBEBEB" stroke-width="0.8" fill="none"/>
<path d="M50.10 297.44V385.44M95.75 297.44V385.44M141.40 297.44V385.44M187.05 297.44V385.44M47.50 383.74H202.50M47.50 363.29H202.50M47.50 342.84H202.50M47.50 322.39H202.50M47.50 301.94H202.50" stroke="#EBEBEB" stroke-width="1.6" fill="none"/>
<clipPath id="cp8"><rect x="47.50" y="297.44" width="155.00" height="88.00"/></clipPath>
<g fill-opacity="0.58" clip-path="url(#cp8)"><circle cx="148.9" cy="310.1" r="2.5" fill="#450d60"/><circle cx="157.8" cy="329.0" r="2.5" fill="#2e6f8e"/><circle cx="142.7" cy="338.0" r="2.5" fill="#297b8e"/><circle cx="136.3" cy="327.6" r="2.5" fill="#3f4888"/><circle cx="177.9" cy="331.6" r="2.5" fill="#2f6d8e"/><circle cx="158.4" cy="320.0" r="2.5" fill="#46307c"/><circle cx="161.1" cy="322.5" r="2.5" fill="#44367f"/><circle cx="167.3" cy="326.5" r="2.5" fill="#34618d"/><circle cx="135.4" cy="329.8" r="2.5" fill="#2d728e"/><circle cx="156.6" cy="326.7" r="2.5" fill="#39578b"/><circle cx="147.2" cy="308.8" r="2.5" fill="#45327d"/><circle cx="173.3" cy="317.2" r="2.5" fill="#482374"/><circle cx="159.4" cy="321.1" r="2.5" fill="#471e6f"/><circle cx="142.8" cy="323.0" r="2.5" fill="#297c8e"/><circle cx="170.2" cy="315.0" r="2.5" fill="#471e6f"/><circle cx="149.0" cy="324.4" r="2.5" fill="#2f6e8e"/><circle cx="128.4" cy="313.9" r="2.5" fill="#472978"/><circle cx="86.2" cy="342.6" r="2.5" fill="#21908c"/><circle cx="97.0" cy="333.7" r="2.5" fill="#2d718e"/><circle cx="100.9" cy="334.8" r="2.5" fill="#297c8e"/><circle cx="129.2" cy="330.1" r="2.5" fill="#306b8d"/><circle cx="165.8" cy="316.0" r="2.5" fill="#45317d"/><circle cx="124.0" cy="316.4" r="2.5" fill="#38598b"/><circle cx="144.9" cy="340.3" r="2.5" fill="#229c88"/><circle cx="133.5" cy="328.3" r="2.5" fill="#2a788e"/><circle cx="141.6" cy="335.5" r="2.5" fill="#3b528a"/><circle cx="149.9" cy="328.5" r="2.5" fill="#31688d"/><circle cx="152.2" cy="340.0" r="2.5" fill="#228d8c"/><circle cx="119.9" cy="317.1" r="2.5" fill="#404587"/><circle cx="182.2" cy="322.8" r="2.5" fill="#472978"/><circle cx="159.3" cy="325.7" r="2.5" fill="#3b528a"/><circle cx="158.1" cy="325.7" r="2.5" fill="#39568b"/><circle cx="181.4" cy="352.8" r="2.5" fill="#404587"/><circle cx="110.7" cy="342.2" r="2.5" fill="#229e87"/><circle cx="164.5" cy="314.1" r="2.5" fill="#461567"/><circle cx="156.7" cy="330.4" r="2.5" fill="#3e4b89"/><circle cx="160.0" cy="321.3" r="2.5" fill="#462d7b"/><circle cx="150.1" cy="320.2" r="2.5" fill="#462d7a"/><circle cx="186.1" cy="317.9" r="2.5" fill="#433a81"/><circle cx="158.0" cy="321.0" r="2.5" fill="#433b82"/><circle cx="151.8" cy="303.2" r="2.5" fill="#45327d"/><circle cx="160.9" cy="339.2" r="2.5" fill="#21908c"/><circle cx="149.6" cy="322.9" r="2.5" fill="#3e4a88"/><circle cx="146.2" cy="321.5" r="2.5" fill="#404788"/><circle cx="136.3" cy="340.3" r="2.5" fill="#21908c"/><circle cx="118.1" cy="341.0" r="2.5" fill="#bbdf27"/><circle cx="125.6" cy="349.4" r="2.5" fill="#43bf71"/><circle cx="131.3" cy="328.1" r="2.5" fill="#414286"/><circle cx="184.6" cy="320.1" r="2.5" fill="#414487"/><circle cx="139.2" cy="333.4" r="2.5" fill="#287e8d"/><circle cx="144.4" cy="330.7" r="2.5" fill="#277f8d"/><circle cx="144.3" cy="313.0" r="2.5" fill="#471d6e"/><circle cx="126.6" cy="332.5" r="2.5" fill="#2b758e"/><circle cx="116.2" cy="342.1" r="2.5" fill="#219889"/><circle cx="155.4" cy="319.8" r="2.5" fill="#471b6c"/><circle cx="171.8" cy="322.3" r="2.5" fill="#414587"/><circle cx="160.0" cy="324.0" r="2.5" fill="#404788"/><circle cx="165.1" cy="317.8" r="2.5" fill="#461668"/><circle cx="127.2" cy="337.0" r="2.5" fill="#238c8c"/><circle cx="164.6" cy="315.8" r="2.5" fill="#482475"/><circle cx="167.4" cy="331.7" r="2.5" fill="#2e708e"/><circle cx="164.5" cy="322.3" r="2.5" fill="#423e84"/><circle cx="92.5" cy="341.9" r="2.5" fill="#21908c"/><circle cx="157.2" cy="320.0" r="2.5" fill="#450d5f"/><circle cx="180.7" cy="313.9" r="2.5" fill="#3f4988"/><circle cx="171.1" cy="346.4" r="2.5" fill="#21908c"/><circle cx="110.1" cy="331.9" r="2.5" fill="#306b8d"/><circle cx="95.5" cy="336.4" r="2.5" fill="#228d8c"/><circle cx="125.4" cy="332.8" r="2.5" fill="#27808d"/><circle cx="142.0" cy="321.3" r="2.5" fill="#424085"/><circle cx="165.4" cy="340.6" r="2.5" fill="#297c8e"/><circle cx="154.0" cy="315.3" r="2.5" fill="#460f61"/><circle cx="142.1" cy="331.3" r="2.5" fill="#39588b"/><circle cx="189.3" cy="314.1" r="2.5" fill="#45327d"/><circle cx="108.5" cy="332.3" r="2.5" fill="#21908c"/><circle cx="171.2" cy="317.9" r="2.5" fill="#462e7b"/><circle cx="165.4" cy="320.9" r="2.5" fill="#45327d"/><circle cx="121.0" cy="335.7" r="2.5" fill="#21908c"/><circle cx="128.2" cy="323.2" r="2.5" fill="#482676"/><circle cx="159.4" cy="313.3" r="2.5" fill="#472b79"/><circle cx="160.6" cy="327.7" r="2.5" fill="#462c7a"/><circle cx="139.8" cy="313.2" r="2.5" fill="#404687"/><circle cx="113.0" cy="323.9" r="2.5" fill="#306c8e"/><circle cx="167.1" cy="314.4" r="2.5" fill="#472071"/><circle cx="136.0" cy="331.6" r="2.5" fill="#31688d"/><circle cx="113.7" cy="328.1" r="2.5" fill="#306c8d"/><circle cx="158.2" cy="328.4" r="2.5" fill="#3a548a"/><circle cx="124.2" cy="337.8" r="2.5" fill="#2a788e"/><circle cx="155.7" cy="324.9" r="2.5" fill="#3d4d89"/><circle cx="128.6" cy="333.8" r="2.5" fill="#2c748e"/><circle cx="142.1" cy="326.9" r="2.5" fill="#306a8d"/><circle cx="133.5" cy="304.5" r="2.5" fill="#45327d"/><circle cx="164.3" cy="339.2" r="2.5" fill="#21908c"/><circle cx="139.8" cy="331.6" r="2.5" fill="#306b8d"/><circle cx="140.1" cy="317.4" r="2.5" fill="#45347e"/><circle cx="162.4" cy="318.9" r="2.5" fill="#472071"/><circle cx="151.8" cy="329.3" r="2.5" fill="#3b518a"/><circle cx="116.5" cy="343.7" r="2.5" fill="#229c88"/><circle cx="168.3" cy="324.2" r="2.5" fill="#375c8c"/><circle cx="128.6" cy="327.3" r="2.5" fill="#297b8e"/><circle cx="159.8" cy="328.2" r="2.5" fill="#45317c"/><circle cx="159.0" cy="324.1" r="2.5" fill="#39568b"/><circle cx="128.1" cy="330.5" r="2.5" fill="#2f6d8e"/><circle cx="157.5" cy="336.7" r="2.5" fill="#3f4988"/><circle cx="185.8" cy="313.9" r="2.5" fill="#3e4a88"/><circle cx="144.4" cy="318.4" r="2.5" fill="#404687"/><circle cx="136.1" cy="328.1" r="2.5" fill="#2d718e"/><circle cx="169.8" cy="313.0" r="2.5" fill="#450d5f"/><circle cx="135.4" cy="333.9" r="2.5" fill="#2c738e"/><circle cx="150.1" cy="316.4" r="2.5" fill="#440457"/><circle cx="159.5" cy="329.9" r="2.5" fill="#2a778e"/><circle cx="165.8" cy="334.1" r="2.5" fill="#34618d"/><circle cx="154.9" cy="326.6" r="2.5" fill="#461163"/><circle cx="173.8" cy="325.0" r="2.5" fill="#44357f"/><circle cx="162.7" cy="315.7" r="2.5" fill="#424185"/><circle cx="188.7" cy="322.5" r="2.5" fill="#38598b"/><circle cx="181.1" cy="322.1" r="2.5" fill="#472071"/><circle cx="102.8" cy="331.9" r="2.5" fill="#26848d"/><circle cx="129.9" cy="325.8" r="2.5" fill="#414286"/><circle cx="158.8" cy="320.0" r="2.5" fill="#424085"/><circle cx="116.5" cy="318.2" r="2.5" fill="#38598b"/><circle cx="146.3" cy="330.7" r="2.5" fill="#443780"/><circle cx="162.5" cy="321.4" r="2.5" fill="#3e4a88"/><circle cx="96.0" cy="326.2" r="2.5" fill="#26848d"/><circle cx="182.5" cy="328.9" r="2.5" fill="#375c8c"/><circle cx="133.5" cy="319.2" r="2.5" fill="#482172"/><circle cx="144.3" cy="329.9" r="2.5" fill="#2a798e"/><circle cx="121.1" cy="326.3" r="2.5" fill="#472978"/><circle cx="105.1" cy="341.9" r="2.5" fill="#43bf71"/><circle cx="146.2" cy="333.7" r="2.5" fill="#2c748e"/><circle cx="142.9" cy="321.7" r="2.5" fill="#414387"/><circle cx="148.4" cy="335.9" r="2.5" fill="#2d718e"/><circle cx="181.1" cy="314.5" r="2.5" fill="#482777"/><circle cx="150.3" cy="329.7" r="2.5" fill="#3b528a"/><circle cx="140.4" cy="346.0" r="2.5" fill="#bbdf27"/><circle cx="178.6" cy="324.7" r="2.5" fill="#3b528a"/><circle cx="132.4" cy="333.9" r="2.5" fill="#27818d"/><circle cx="120.3" cy="326.6" r="2.5" fill="#2a788e"/><circle cx="156.7" cy="312.5" r="2.5" fill="#450c5f"/><circle cx="101.0" cy="322.5" r="2.5" fill="#306c8e"/><circle cx="111.5" cy="335.6" r="2.5" fill="#2a798e"/><circle cx="144.4" cy="331.5" r="2.5" fill="#2f6d8e"/><circle cx="134.1" cy="332.5" r="2.5" fill="#3c508a"/><circle cx="113.5" cy="341.9" r="2.5" fill="#21908c"/><circle cx="158.1" cy="323.8" r="2.5" fill="#3e4c89"/><circle cx="163.6" cy="316.3" r="2.5" fill="#471f70"/><circle cx="149.9" cy="335.1" r="2.5" fill="#462e7b"/><circle cx="163.7" cy="316.7" r="2.5" fill="#462c7a"/><circle cx="124.7" cy="324.5" r="2.5" fill="#2e708e"/><circle cx="148.7" cy="331.3" r="2.5" fill="#33648d"/><circle cx="165.9" cy="336.7" r="2.5" fill="#287d8e"/><circle cx="134.3" cy="324.1" r="2.5" fill="#404788"/><circle cx="140.6" cy="313.2" r="2.5" fill="#472877"/><circle cx="169.3" cy="317.7" r="2.5" fill="#44367f"/><circle cx="83.4" cy="345.3" r="2.5" fill="#21908c"/><circle cx="163.6" cy="325.5" r="2.5" fill="#38598c"/><circle cx="179.5" cy="329.3" r="2.5" fill="#34638d"/><circle cx="154.8" cy="314.0" r="2.5" fill="#482475"/><circle cx="141.7" cy="318.8" r="2.5" fill="#482374"/><circle cx="139.6" cy="340.3" r="2.5" fill="#26828d"/><circle cx="159.4" cy="327.3" r="2.5" fill="#414286"/><circle cx="173.1" cy="323.2" r="2.5" fill="#423e83"/><circle cx="153.4" cy="327.9" r="2.5" fill="#31688d"/><circle cx="166.0" cy="327.3" r="2.5" fill="#3a548a"/><circle cx="117.9" cy="331.8" r="2.5" fill="#2f6d8e"/><circle cx="165.6" cy="320.4" r="2.5" fill="#462d7b"/><circle cx="162.8" cy="327.5" r="2.5" fill="#45347e"/><circle cx="159.8" cy="326.8" r="2.5" fill="#424185"/><circle cx="163.0" cy="318.4" r="2.5" fill="#482576"/><circle cx="132.2" cy="338.9" r="2.5" fill="#22a386"/><circle cx="166.2" cy="339.2" r="2.5" fill="#228e8c"/><circle cx="157.7" cy="330.9" r="2.5" fill="#2b768e"/><circle cx="161.6" cy="326.4" r="2.5" fill="#375a8c"/><circle cx="117.8" cy="329.9" r="2.5" fill="#306a8d"/><circle cx="173.5" cy="319.9" r="2.5" fill="#471d6f"/><circle cx="177.6" cy="328.0" r="2.5" fill="#375c8c"/><circle cx="136.4" cy="336.5" r="2.5" fill="#238b8c"/><circle cx="171.3" cy="315.5" r="2.5" fill="#45347e"/><circle cx="171.9" cy="320.3" r="2.5" fill="#433981"/><circle cx="162.8" cy="314.1" r="2.5" fill="#414487"/><circle cx="134.7" cy="337.2" r="2.5" fill="#24878d"/><circle cx="170.4" cy="315.8" r="2.5" fill="#472b79"/><circle cx="150.7" cy="331.7" r="2.5" fill="#39568b"/><circle cx="161.9" cy="311.7" r="2.5" fill="#471e70"/><circle cx="91.4" cy="339.2" r="2.5" fill="#21908c"/><circle cx="146.2" cy="313.4" r="2.5" fill="#45337e"/><circle cx="131.4" cy="327.4" r="2.5" fill="#2b768e"/><circle cx="179.1" cy="306.1" r="2.5" fill="#45327d"/><circle cx="141.3" cy="313.9" r="2.5" fill="#450c5f"/><circle cx="175.0" cy="327.3" r="2.5" fill="#443881"/><circle cx="107.8" cy="334.9" r="2.5" fill="#26828d"/><circle cx="122.4" cy="318.6" r="2.5" fill="#404788"/><circle cx="145.5" cy="321.9" r="2.5" fill="#45347e"/><circle cx="185.1" cy="322.2" r="2.5" fill="#38598b"/><circle cx="133.2" cy="321.2" r="2.5" fill="#472c7a"/><circle cx="176.9" cy="320.5" r="2.5" fill="#433b82"/><circle cx="138.9" cy="320.9" r="2.5" fill="#45327d"/><circle cx="137.7" cy="330.0" r="2.5" fill="#31698d"/><circle cx="133.0" cy="317.1" r="2.5" fill="#47186a"/><circle cx="151.0" cy="326.3" r="2.5" fill="#3e4a88"/><circle cx="143.2" cy="320.2" r="2.5" fill="#461365"/><circle cx="142.9" cy="316.4" r="2.5" fill="#462f7b"/><circle cx="133.6" cy="337.5" r="2.5" fill="#24888d"/><circle cx="159.5" cy="319.1" r="2.5" fill="#471d6f"/><circle cx="181.4" cy="327.5" r="2.5" fill="#39568b"/><circle cx="168.9" cy="331.9" r="2.5" fill="#414386"/><circle cx="124.9" cy="342.1" r="2.5" fill="#229c88"/><circle cx="107.4" cy="325.5" r="2.5" fill="#306c8e"/><circle cx="146.0" cy="323.1" r="2.5" fill="#433b82"/><circle cx="142.9" cy="331.1" r="2.5" fill="#375b8c"/><circle cx="152.4" cy="315.5" r="2.5" fill="#461769"/><circle cx="158.0" cy="308.5" r="2.5" fill="#450c5f"/><circle cx="165.9" cy="322.6" r="2.5" fill="#3d4e89"/><circle cx="123.8" cy="315.3" r="2.5" fill="#472072"/><circle cx="152.6" cy="310.5" r="2.5" fill="#471d6e"/><circle cx="147.0" cy="314.0" r="2.5" fill="#45095c"/><circle cx="115.7" cy="339.5" r="2.5" fill="#25878d"/><circle cx="133.9" cy="336.7" r="2.5" fill="#306b8d"/><circle cx="132.3" cy="317.6" r="2.5" fill="#462c7a"/><circle cx="139.3" cy="323.2" r="2.5" fill="#414286"/><circle cx="132.0" cy="332.0" r="2.5" fill="#31688d"/><circle cx="153.7" cy="311.0" r="2.5" fill="#461264"/><circle cx="147.6" cy="327.7" r="2.5" fill="#414387"/><circle cx="176.6" cy="318.8" r="2.5" fill="#482374"/><circle cx="152.0" cy="314.1" r="2.5" fill="#471a6c"/><circle cx="139.9" cy="324.9" r="2.5" fill="#472978"/><circle cx="158.3" cy="335.7" r="2.5" fill="#2f6e8e"/><circle cx="121.3" cy="334.1" r="2.5" fill="#287c8e"/><circle cx="183.7" cy="328.5" r="2.5" fill="#404687"/><circle cx="148.5" cy="332.2" r="2.5" fill="#35618d"/><circle cx="159.7" cy="324.1" r="2.5" fill="#3a538a"/><circle cx="173.0" cy="317.8" r="2.5" fill="#482374"/><circle cx="144.0" cy="339.5" r="2.5" fill="#297b8e"/><circle cx="158.5" cy="320.7" r="2.5" fill="#45337e"/><circle cx="126.4" cy="334.1" r="2.5" fill="#2f6e8e"/><circle cx="160.1" cy="334.8" r="2.5" fill="#3d4d89"/><circle cx="165.3" cy="328.8" r="2.5" fill="#2e6f8e"/><circle cx="132.9" cy="325.4" r="2.5" fill="#34628d"/></g>
<path d="M141.40 385.44V297.44" stroke="#000" stroke-width="1.07" stroke-dasharray="4.5 3.8" fill="none"/>
<path d="M83.44 335.73L189.34 319.78" stroke="#3d3d3d" stroke-width="1.75" fill="none"/>
<g font-size="9.1" fill="#000"><text x="50.40" y="365.94">r</text><text x="54.80" y="365.94">=</text><text x="62.00" y="365.94">0.37</text><text x="50.40" y="373.94">β</text><text x="58.30" y="373.94">=</text><text x="64.70" y="373.94">0.083</text><text x="50.40" y="383.24">α</text><text x="58.30" y="383.24">=</text><text x="64.70" y="383.24">0.69</text></g>
<rect x="47.50" y="297.44" width="155.00" height="88.00" fill="none" stroke="#555" stroke-width="1.1"/>
<rect x="47.50" y="277.44" width="155.00" height="20.00" fill="#D9D9D9" stroke="#555" stroke-width="1.1"/>
<path d="M47.50 298.24H202.50" stroke="#8a8a8a" stroke-width="1.2"/>
<text x="125.00" y="292.64" font-size="12.75" fill="#1A1A1A" text-anchor="middle">Cluster 9</text>
<text transform="translate(41.90 388.34) scale(1 1.08)" font-size="12.3" fill="#4D4D4D" text-anchor="end">0.00</text>
<text transform="translate(41.90 367.89) scale(1 1.08)" font-size="12.3" fill="#4D4D4D" text-anchor="end">0.25</text>
<text transform="translate(41.90 347.44) scale(1 1.08)" font-size="12.3" fill="#4D4D4D" text-anchor="end">0.50</text>
<text transform="translate(41.90 326.99) scale(1 1.08)" font-size="12.3" fill="#4D4D4D" text-anchor="end">0.75</text>
<text transform="translate(41.90 306.54) scale(1 1.08)" font-size="12.3" fill="#4D4D4D" text-anchor="end">1.00</text>
<path d="M44.30 383.74H47.50M44.30 363.29H47.50M44.30 342.84H47.50M44.30 322.39H47.50M44.30 301.94H47.50" stroke="#555" stroke-width="1.07"/>
</g>
<g>
<rect x="208.25" y="297.44" width="155.00" height="88.00" fill="#fff"/>
<path d="M233.67 297.44V385.44M279.32 297.44V385.44M324.97 297.44V385.44M208.25 373.51H363.25M208.25 353.06H363.25M208.25 332.62H363.25M208.25 312.17H363.25" stroke="#EBEBEB" stroke-width="0.8" fill="none"/>
<path d="M210.85 297.44V385.44M256.50 297.44V385.44M302.15 297.44V385.44M347.80 297.44V385.44M208.25 383.74H363.25M208.25 363.29H363.25M208.25 342.84H363.25M208.25 322.39H363.25M208.25 301.94H363.25" stroke="#EBEBEB" stroke-width="1.6" fill="none"/>
<clipPath id="cp9"><rect x="208.25" y="297.44" width="155.00" height="88.00"/></clipPath>
<g fill-opacity="0.58" clip-path="url(#cp9)"><circle cx="272.0" cy="332.0" r="2.5" fill="#306a8d"/><circle cx="286.9" cy="318.3" r="2.5" fill="#414386"/><circle cx="312.0" cy="307.8" r="2.5" fill="#461062"/><circle cx="275.9" cy="310.2" r="2.5" fill="#482173"/><circle cx="322.9" cy="315.5" r="2.5" fill="#482576"/><circle cx="316.5" cy="310.1" r="2.5" fill="#461264"/><circle cx="300.0" cy="315.0" r="2.5" fill="#450c5e"/><circle cx="322.1" cy="320.1" r="2.5" fill="#440255"/><circle cx="319.4" cy="327.7" r="2.5" fill="#47186a"/><circle cx="300.2" cy="322.4" r="2.5" fill="#461264"/><circle cx="312.7" cy="313.4" r="2.5" fill="#461365"/><circle cx="331.6" cy="309.3" r="2.5" fill="#482576"/><circle cx="276.1" cy="335.9" r="2.5" fill="#385a8c"/><circle cx="296.0" cy="309.7" r="2.5" fill="#440356"/><circle cx="293.2" cy="308.6" r="2.5" fill="#440255"/><circle cx="262.2" cy="318.5" r="2.5" fill="#3c508a"/><circle cx="280.4" cy="343.7" r="2.5" fill="#38598b"/><circle cx="330.6" cy="321.5" r="2.5" fill="#462d7b"/><circle cx="304.2" cy="327.9" r="2.5" fill="#472877"/><circle cx="289.2" cy="307.9" r="2.5" fill="#450659"/><circle cx="319.4" cy="318.1" r="2.5" fill="#424085"/><circle cx="304.4" cy="322.3" r="2.5" fill="#471d6f"/><circle cx="283.1" cy="318.9" r="2.5" fill="#433a81"/><circle cx="301.6" cy="310.4" r="2.5" fill="#450e60"/><circle cx="307.1" cy="315.2" r="2.5" fill="#450d5f"/><circle cx="308.9" cy="310.7" r="2.5" fill="#461769"/><circle cx="301.1" cy="312.3" r="2.5" fill="#45075a"/><circle cx="302.1" cy="323.7" r="2.5" fill="#482676"/><circle cx="276.5" cy="332.6" r="2.5" fill="#2f6e8e"/><circle cx="288.0" cy="338.3" r="2.5" fill="#2e708e"/><circle cx="300.0" cy="333.0" r="2.5" fill="#33638d"/><circle cx="283.7" cy="322.7" r="2.5" fill="#482172"/><circle cx="305.7" cy="318.3" r="2.5" fill="#440255"/><circle cx="262.7" cy="333.5" r="2.5" fill="#21908c"/><circle cx="294.9" cy="307.4" r="2.5" fill="#440255"/><circle cx="313.4" cy="315.8" r="2.5" fill="#450b5d"/><circle cx="272.6" cy="329.6" r="2.5" fill="#3a558b"/><circle cx="308.6" cy="330.3" r="2.5" fill="#461567"/><circle cx="310.9" cy="321.1" r="2.5" fill="#472071"/><circle cx="316.4" cy="312.4" r="2.5" fill="#450a5c"/><circle cx="285.0" cy="329.6" r="2.5" fill="#45337e"/><circle cx="304.2" cy="303.9" r="2.5" fill="#440255"/><circle cx="311.1" cy="307.5" r="2.5" fill="#440457"/><circle cx="302.6" cy="323.4" r="2.5" fill="#414587"/><circle cx="300.4" cy="324.6" r="2.5" fill="#471d6e"/><circle cx="309.0" cy="316.0" r="2.5" fill="#450c5e"/><circle cx="312.8" cy="324.1" r="2.5" fill="#461769"/><circle cx="298.0" cy="320.2" r="2.5" fill="#461264"/><circle cx="309.6" cy="308.3" r="2.5" fill="#45085b"/><circle cx="333.3" cy="326.6" r="2.5" fill="#45327d"/><circle cx="297.0" cy="319.7" r="2.5" fill="#47196b"/><circle cx="313.2" cy="346.0" r="2.5" fill="#22a884"/><circle cx="293.6" cy="331.7" r="2.5" fill="#443981"/><circle cx="319.6" cy="336.9" r="2.5" fill="#26848d"/><circle cx="301.4" cy="321.8" r="2.5" fill="#472a79"/><circle cx="215.3" cy="339.2" r="2.5" fill="#5ec861"/><circle cx="315.9" cy="320.4" r="2.5" fill="#471e6f"/><circle cx="261.5" cy="339.2" r="2.5" fill="#21908c"/><circle cx="308.6" cy="317.3" r="2.5" fill="#450659"/><circle cx="302.0" cy="316.8" r="2.5" fill="#461265"/><circle cx="292.7" cy="312.0" r="2.5" fill="#450659"/><circle cx="262.2" cy="317.5" r="2.5" fill="#45327d"/><circle cx="316.6" cy="306.0" r="2.5" fill="#440255"/><circle cx="293.9" cy="313.5" r="2.5" fill="#440255"/><circle cx="313.8" cy="308.2" r="2.5" fill="#450e61"/><circle cx="315.8" cy="300.8" r="2.5" fill="#440255"/><circle cx="309.8" cy="330.3" r="2.5" fill="#45347e"/><circle cx="311.7" cy="301.3" r="2.5" fill="#440255"/><circle cx="267.2" cy="306.1" r="2.5" fill="#482173"/><circle cx="302.4" cy="317.0" r="2.5" fill="#45085b"/><circle cx="297.3" cy="322.6" r="2.5" fill="#47186a"/><circle cx="306.0" cy="305.3" r="2.5" fill="#45095c"/><circle cx="319.1" cy="310.6" r="2.5" fill="#45075a"/><circle cx="314.5" cy="320.3" r="2.5" fill="#461062"/><circle cx="307.8" cy="335.8" r="2.5" fill="#365d8c"/><circle cx="295.2" cy="315.6" r="2.5" fill="#440356"/><circle cx="287.7" cy="356.2" r="2.5" fill="#404587"/><circle cx="326.1" cy="314.5" r="2.5" fill="#471b6d"/><circle cx="299.7" cy="303.7" r="2.5" fill="#440255"/><circle cx="320.5" cy="322.8" r="2.5" fill="#424185"/><circle cx="288.5" cy="324.4" r="2.5" fill="#450e60"/><circle cx="299.5" cy="319.7" r="2.5" fill="#45307c"/><circle cx="312.3" cy="313.7" r="2.5" fill="#45085b"/><circle cx="291.6" cy="333.1" r="2.5" fill="#35608d"/><circle cx="328.1" cy="322.4" r="2.5" fill="#47186a"/><circle cx="301.0" cy="334.2" r="2.5" fill="#34638d"/><circle cx="292.3" cy="309.1" r="2.5" fill="#440356"/><circle cx="303.4" cy="317.6" r="2.5" fill="#461062"/><circle cx="314.9" cy="320.6" r="2.5" fill="#461164"/><circle cx="253.5" cy="319.8" r="2.5" fill="#38598b"/><circle cx="312.6" cy="321.1" r="2.5" fill="#461063"/><circle cx="307.5" cy="315.8" r="2.5" fill="#440255"/><circle cx="290.8" cy="308.3" r="2.5" fill="#460f61"/><circle cx="284.7" cy="334.8" r="2.5" fill="#31698d"/><circle cx="292.2" cy="319.2" r="2.5" fill="#471b6c"/><circle cx="309.7" cy="319.7" r="2.5" fill="#461668"/><circle cx="297.3" cy="322.8" r="2.5" fill="#450b5d"/><circle cx="311.3" cy="332.4" r="2.5" fill="#3d4e89"/><circle cx="308.1" cy="326.4" r="2.5" fill="#47186a"/><circle cx="318.3" cy="308.7" r="2.5" fill="#45307c"/><circle cx="308.0" cy="313.0" r="2.5" fill="#440255"/><circle cx="309.8" cy="301.0" r="2.5" fill="#450759"/><circle cx="317.5" cy="326.2" r="2.5" fill="#482475"/><circle cx="263.3" cy="326.3" r="2.5" fill="#414387"/><circle cx="314.1" cy="316.4" r="2.5" fill="#482172"/><circle cx="331.9" cy="321.6" r="2.5" fill="#462c7a"/><circle cx="310.0" cy="313.5" r="2.5" fill="#45095c"/><circle cx="315.9" cy="312.7" r="2.5" fill="#45075a"/><circle cx="328.1" cy="329.4" r="2.5" fill="#3d4e89"/><circle cx="324.6" cy="336.9" r="2.5" fill="#2a788e"/><circle cx="308.6" cy="317.6" r="2.5" fill="#460f61"/><circle cx="299.2" cy="334.5" r="2.5" fill="#31698d"/><circle cx="291.1" cy="326.9" r="2.5" fill="#443981"/><circle cx="298.4" cy="317.9" r="2.5" fill="#45085b"/><circle cx="316.3" cy="317.9" r="2.5" fill="#482576"/><circle cx="305.7" cy="314.8" r="2.5" fill="#440255"/><circle cx="292.6" cy="312.7" r="2.5" fill="#45095b"/><circle cx="314.2" cy="314.9" r="2.5" fill="#482576"/><circle cx="309.1" cy="312.3" r="2.5" fill="#461466"/><circle cx="329.1" cy="311.7" r="2.5" fill="#440356"/><circle cx="288.8" cy="323.4" r="2.5" fill="#462d7a"/><circle cx="305.9" cy="348.9" r="2.5" fill="#404587"/><circle cx="301.7" cy="314.3" r="2.5" fill="#450659"/><circle cx="291.7" cy="319.7" r="2.5" fill="#461264"/><circle cx="297.4" cy="311.7" r="2.5" fill="#461769"/><circle cx="311.5" cy="315.4" r="2.5" fill="#461163"/><circle cx="291.0" cy="308.0" r="2.5" fill="#440457"/><circle cx="310.5" cy="307.8" r="2.5" fill="#45085a"/><circle cx="289.1" cy="321.8" r="2.5" fill="#461365"/><circle cx="309.3" cy="306.4" r="2.5" fill="#440255"/><circle cx="293.0" cy="326.4" r="2.5" fill="#423e84"/><circle cx="268.4" cy="316.4" r="2.5" fill="#45327d"/><circle cx="294.7" cy="326.7" r="2.5" fill="#472b7a"/><circle cx="327.7" cy="309.9" r="2.5" fill="#440457"/><circle cx="323.3" cy="321.7" r="2.5" fill="#433c83"/><circle cx="306.8" cy="330.1" r="2.5" fill="#443881"/><circle cx="302.1" cy="317.5" r="2.5" fill="#450b5e"/><circle cx="258.3" cy="321.5" r="2.5" fill="#424186"/><circle cx="329.2" cy="310.5" r="2.5" fill="#440255"/><circle cx="307.3" cy="308.0" r="2.5" fill="#461566"/><circle cx="311.9" cy="326.5" r="2.5" fill="#471e6f"/><circle cx="291.9" cy="318.1" r="2.5" fill="#440356"/><circle cx="314.6" cy="308.0" r="2.5" fill="#461163"/><circle cx="306.7" cy="325.1" r="2.5" fill="#433981"/><circle cx="297.3" cy="309.0" r="2.5" fill="#440255"/><circle cx="298.1" cy="318.4" r="2.5" fill="#440255"/><circle cx="283.9" cy="308.3" r="2.5" fill="#440255"/><circle cx="266.9" cy="321.9" r="2.5" fill="#404788"/><circle cx="311.1" cy="319.3" r="2.5" fill="#471869"/><circle cx="235.8" cy="339.8" r="2.5" fill="#2a788e"/><circle cx="306.3" cy="300.7" r="2.5" fill="#440255"/><circle cx="315.4" cy="325.2" r="2.5" fill="#450b5d"/><circle cx="311.2" cy="309.3" r="2.5" fill="#440558"/><circle cx="269.4" cy="320.2" r="2.5" fill="#3e4c89"/><circle cx="282.7" cy="345.5" r="2.5" fill="#21908c"/><circle cx="305.5" cy="332.8" r="2.5" fill="#472b79"/><circle cx="271.2" cy="338.1" r="2.5" fill="#297b8e"/><circle cx="339.5" cy="319.8" r="2.5" fill="#461365"/><circle cx="302.3" cy="323.5" r="2.5" fill="#404687"/><circle cx="288.4" cy="337.7" r="2.5" fill="#297b8e"/><circle cx="283.1" cy="329.7" r="2.5" fill="#3d4d89"/><circle cx="274.5" cy="338.0" r="2.5" fill="#26848d"/><circle cx="319.3" cy="323.3" r="2.5" fill="#45337e"/><circle cx="296.9" cy="305.5" r="2.5" fill="#450e60"/><circle cx="282.8" cy="318.9" r="2.5" fill="#450a5c"/><circle cx="258.6" cy="333.0" r="2.5" fill="#21908c"/><circle cx="301.9" cy="315.6" r="2.5" fill="#440255"/><circle cx="295.2" cy="309.8" r="2.5" fill="#450659"/><circle cx="311.5" cy="318.4" r="2.5" fill="#440457"/><circle cx="301.8" cy="308.9" r="2.5" fill="#450d60"/><circle cx="286.0" cy="320.5" r="2.5" fill="#450e60"/><circle cx="309.1" cy="312.1" r="2.5" fill="#440255"/><circle cx="300.5" cy="301.0" r="2.5" fill="#440255"/><circle cx="318.6" cy="322.4" r="2.5" fill="#471e70"/><circle cx="299.9" cy="319.8" r="2.5" fill="#450a5c"/><circle cx="281.4" cy="321.3" r="2.5" fill="#462f7c"/><circle cx="309.9" cy="319.6" r="2.5" fill="#461466"/><circle cx="295.7" cy="344.8" r="2.5" fill="#2a788e"/><circle cx="305.1" cy="323.5" r="2.5" fill="#3d4d89"/><circle cx="288.4" cy="328.9" r="2.5" fill="#3d4e89"/><circle cx="305.7" cy="309.3" r="2.5" fill="#440255"/><circle cx="303.5" cy="322.4" r="2.5" fill="#460f61"/><circle cx="305.0" cy="303.2" r="2.5" fill="#440255"/><circle cx="280.6" cy="327.8" r="2.5" fill="#404788"/><circle cx="304.3" cy="319.1" r="2.5" fill="#461567"/><circle cx="335.8" cy="322.9" r="2.5" fill="#462e7b"/><circle cx="299.4" cy="309.5" r="2.5" fill="#45095c"/><circle cx="286.7" cy="315.6" r="2.5" fill="#440255"/><circle cx="327.2" cy="310.4" r="2.5" fill="#471c6e"/><circle cx="311.9" cy="312.0" r="2.5" fill="#440356"/><circle cx="308.0" cy="309.3" r="2.5" fill="#440255"/><circle cx="323.0" cy="321.9" r="2.5" fill="#450b5d"/><circle cx="318.7" cy="313.1" r="2.5" fill="#471e6f"/><circle cx="327.7" cy="325.3" r="2.5" fill="#472878"/><circle cx="327.1" cy="319.4" r="2.5" fill="#471d6e"/><circle cx="293.8" cy="315.6" r="2.5" fill="#461365"/><circle cx="308.7" cy="317.8" r="2.5" fill="#461264"/><circle cx="296.2" cy="324.3" r="2.5" fill="#45327d"/><circle cx="287.2" cy="324.7" r="2.5" fill="#3d4e89"/><circle cx="304.3" cy="334.8" r="2.5" fill="#3c4f89"/><circle cx="263.3" cy="329.1" r="2.5" fill="#3d4d89"/><circle cx="287.2" cy="318.8" r="2.5" fill="#440255"/><circle cx="307.8" cy="307.4" r="2.5" fill="#461668"/><circle cx="290.4" cy="324.9" r="2.5" fill="#462e7b"/><circle cx="302.3" cy="325.3" r="2.5" fill="#472c7a"/><circle cx="290.7" cy="320.8" r="2.5" fill="#482374"/><circle cx="301.9" cy="312.4" r="2.5" fill="#461466"/><circle cx="314.2" cy="323.5" r="2.5" fill="#471e70"/><circle cx="290.2" cy="312.3" r="2.5" fill="#450a5d"/><circle cx="306.7" cy="313.1" r="2.5" fill="#471e70"/><circle cx="324.4" cy="313.7" r="2.5" fill="#461668"/><circle cx="294.6" cy="320.4" r="2.5" fill="#461365"/><circle cx="309.0" cy="319.4" r="2.5" fill="#450b5d"/><circle cx="302.7" cy="339.2" r="2.5" fill="#2f6d8e"/><circle cx="309.0" cy="332.6" r="2.5" fill="#316a8d"/><circle cx="285.6" cy="314.5" r="2.5" fill="#460f62"/><circle cx="310.8" cy="325.2" r="2.5" fill="#460f62"/><circle cx="321.5" cy="322.0" r="2.5" fill="#471a6c"/><circle cx="286.2" cy="307.7" r="2.5" fill="#440558"/><circle cx="306.7" cy="323.4" r="2.5" fill="#461163"/><circle cx="337.8" cy="320.9" r="2.5" fill="#45327d"/><circle cx="341.9" cy="323.7" r="2.5" fill="#45327d"/><circle cx="332.4" cy="318.8" r="2.5" fill="#461769"/><circle cx="312.5" cy="329.6" r="2.5" fill="#424185"/><circle cx="292.6" cy="335.4" r="2.5" fill="#39568b"/><circle cx="255.1" cy="326.6" r="2.5" fill="#306c8e"/><circle cx="308.6" cy="318.0" r="2.5" fill="#461365"/><circle cx="305.6" cy="321.5" r="2.5" fill="#45085a"/><circle cx="309.8" cy="304.1" r="2.5" fill="#440255"/><circle cx="307.1" cy="324.0" r="2.5" fill="#461163"/><circle cx="314.0" cy="305.9" r="2.5" fill="#440255"/><circle cx="291.6" cy="318.6" r="2.5" fill="#471e70"/><circle cx="261.1" cy="321.6" r="2.5" fill="#443981"/><circle cx="296.8" cy="326.5" r="2.5" fill="#472b79"/><circle cx="299.5" cy="334.0" r="2.5" fill="#34618d"/><circle cx="258.9" cy="327.9" r="2.5" fill="#471c6d"/><circle cx="307.7" cy="324.0" r="2.5" fill="#45085a"/><circle cx="297.8" cy="313.1" r="2.5" fill="#461567"/><circle cx="290.7" cy="318.3" r="2.5" fill="#450d5f"/><circle cx="300.6" cy="320.8" r="2.5" fill="#462d7a"/><circle cx="299.5" cy="313.8" r="2.5" fill="#472978"/><circle cx="289.9" cy="322.1" r="2.5" fill="#45075a"/><circle cx="297.9" cy="308.4" r="2.5" fill="#45085b"/><circle cx="304.0" cy="310.0" r="2.5" fill="#440255"/><circle cx="309.0" cy="315.4" r="2.5" fill="#482273"/><circle cx="271.1" cy="332.7" r="2.5" fill="#385a8c"/><circle cx="304.8" cy="302.1" r="2.5" fill="#440355"/><circle cx="294.2" cy="319.5" r="2.5" fill="#462f7b"/><circle cx="302.6" cy="317.3" r="2.5" fill="#471d6e"/><circle cx="335.5" cy="308.4" r="2.5" fill="#482173"/><circle cx="291.9" cy="309.1" r="2.5" fill="#440255"/><circle cx="306.2" cy="315.8" r="2.5" fill="#471c6d"/><circle cx="331.7" cy="336.9" r="2.5" fill="#404587"/><circle cx="307.4" cy="319.4" r="2.5" fill="#461465"/><circle cx="327.0" cy="311.7" r="2.5" fill="#461668"/><circle cx="298.0" cy="321.9" r="2.5" fill="#45327d"/><circle cx="273.0" cy="330.4" r="2.5" fill="#482576"/><circle cx="322.8" cy="312.5" r="2.5" fill="#440356"/><circle cx="303.3" cy="315.9" r="2.5" fill="#450e60"/><circle cx="311.7" cy="324.7" r="2.5" fill="#461466"/><circle cx="309.8" cy="320.1" r="2.5" fill="#47186a"/><circle cx="331.9" cy="322.7" r="2.5" fill="#471d6f"/><circle cx="290.5" cy="334.3" r="2.5" fill="#3d4e89"/><circle cx="299.5" cy="318.0" r="2.5" fill="#45085b"/><circle cx="321.1" cy="320.8" r="2.5" fill="#461466"/><circle cx="291.6" cy="307.4" r="2.5" fill="#440255"/><circle cx="290.4" cy="304.7" r="2.5" fill="#450659"/><circle cx="302.1" cy="311.8" r="2.5" fill="#45095b"/><circle cx="297.5" cy="312.4" r="2.5" fill="#450d60"/><circle cx="272.0" cy="323.3" r="2.5" fill="#45347e"/><circle cx="302.1" cy="314.8" r="2.5" fill="#440456"/><circle cx="315.7" cy="308.9" r="2.5" fill="#450a5c"/><circle cx="293.0" cy="313.5" r="2.5" fill="#471c6d"/><circle cx="316.3" cy="313.7" r="2.5" fill="#450b5d"/><circle cx="286.2" cy="318.5" r="2.5" fill="#450c5e"/><circle cx="270.6" cy="328.9" r="2.5" fill="#2a788e"/><circle cx="270.0" cy="325.2" r="2.5" fill="#462e7b"/><circle cx="294.7" cy="307.9" r="2.5" fill="#450d5f"/><circle cx="316.3" cy="316.3" r="2.5" fill="#450c5e"/><circle cx="287.2" cy="334.0" r="2.5" fill="#31698d"/><circle cx="287.7" cy="322.4" r="2.5" fill="#472978"/><circle cx="309.9" cy="320.0" r="2.5" fill="#482576"/><circle cx="283.9" cy="316.5" r="2.5" fill="#472b79"/><circle cx="303.7" cy="322.8" r="2.5" fill="#482374"/><circle cx="247.9" cy="323.9" r="2.5" fill="#38598b"/><circle cx="297.1" cy="305.3" r="2.5" fill="#450759"/><circle cx="295.8" cy="323.1" r="2.5" fill="#482676"/><circle cx="305.7" cy="319.5" r="2.5" fill="#461567"/><circle cx="291.9" cy="326.8" r="2.5" fill="#450d60"/><circle cx="249.7" cy="326.2" r="2.5" fill="#26848d"/><circle cx="306.7" cy="309.6" r="2.5" fill="#45075a"/><circle cx="266.8" cy="338.0" r="2.5" fill="#229c88"/><circle cx="314.8" cy="322.6" r="2.5" fill="#45347e"/><circle cx="303.0" cy="308.5" r="2.5" fill="#47196a"/><circle cx="301.1" cy="306.2" r="2.5" fill="#440255"/><circle cx="306.5" cy="317.4" r="2.5" fill="#440558"/><circle cx="329.7" cy="326.8" r="2.5" fill="#471d6e"/><circle cx="317.9" cy="312.6" r="2.5" fill="#440255"/><circle cx="306.7" cy="312.6" r="2.5" fill="#450c5e"/><circle cx="331.8" cy="318.4" r="2.5" fill="#45317d"/><circle cx="316.2" cy="341.4" r="2.5" fill="#2a788e"/><circle cx="307.9" cy="323.8" r="2.5" fill="#462c7a"/><circle cx="293.4" cy="331.8" r="2.5" fill="#32668d"/><circle cx="307.6" cy="299.6" r="2.5" fill="#440255"/><circle cx="284.7" cy="330.0" r="2.5" fill="#33638d"/><circle cx="303.4" cy="314.3" r="2.5" fill="#482676"/><circle cx="328.2" cy="322.2" r="2.5" fill="#3e4c89"/><circle cx="298.1" cy="314.5" r="2.5" fill="#440255"/><circle cx="311.3" cy="310.4" r="2.5" fill="#45095c"/><circle cx="328.3" cy="321.5" r="2.5" fill="#45307c"/><circle cx="315.7" cy="315.9" r="2.5" fill="#450759"/><circle cx="307.8" cy="313.8" r="2.5" fill="#450659"/><circle cx="305.8" cy="319.9" r="2.5" fill="#482677"/><circle cx="309.9" cy="304.9" r="2.5" fill="#461668"/><circle cx="292.7" cy="306.7" r="2.5" fill="#440356"/></g>
<path d="M302.15 385.44V297.44" stroke="#000" stroke-width="1.07" stroke-dasharray="4.5 3.8" fill="none"/>
<path d="M215.29 333.91L341.23 312.49" stroke="#3d3d3d" stroke-width="1.75" fill="none"/>
<g font-size="9.1" fill="#000"><text x="211.15" y="365.94">r</text><text x="215.55" y="365.94">=</text><text x="222.75" y="365.94">0.29</text><text x="211.15" y="373.94">β</text><text x="219.05" y="373.94">=</text><text x="225.45" y="373.94">0.094</text><text x="211.15" y="383.24">α</text><text x="219.05" y="383.24">=</text><text x="225.45" y="383.24">0.79</text></g>
<rect x="208.25" y="297.44" width="155.00" height="88.00" fill="none" stroke="#555" stroke-width="1.1"/>
<rect x="208.25" y="277.44" width="155.00" height="20.00" fill="#D9D9D9" stroke="#555" stroke-width="1.1"/>
<path d="M208.25 298.24H363.25" stroke="#8a8a8a" stroke-width="1.2"/>
<text x="285.75" y="292.64" font-size="12.75" fill="#1A1A1A" text-anchor="middle">Cluster 10</text>
</g>
<g>
<rect x="369.00" y="297.44" width="155.00" height="88.00" fill="#fff"/>
<path d="M394.42 297.44V385.44M440.07 297.44V385.44M485.72 297.44V385.44M369.00 373.51H524.00M369.00 353.06H524.00M369.00 332.62H524.00M369.00 312.17H524.00" stroke="#EBEBEB" stroke-width="0.8" fill="none"/>
<path d="M371.60 297.44V385.44M417.25 297.44V385.44M462.90 297.44V385.44M508.55 297.44V385.44M369.00 383.74H524.00M369.00 363.29H524.00M369.00 342.84H524.00M369.00 322.39H524.00M369.00 301.94H524.00" stroke="#EBEBEB" stroke-width="1.6" fill="none"/>
<clipPath id="cp10"><rect x="369.00" y="297.44" width="155.00" height="88.00"/></clipPath>
<g fill-opacity="0.58" clip-path="url(#cp10)"><circle cx="469.9" cy="317.5" r="2.5" fill="#450d5f"/><circle cx="457.9" cy="327.3" r="2.5" fill="#46307c"/><circle cx="473.4" cy="310.6" r="2.5" fill="#450c5f"/><circle cx="474.9" cy="311.8" r="2.5" fill="#45075a"/><circle cx="467.6" cy="311.0" r="2.5" fill="#45085a"/><circle cx="437.6" cy="324.0" r="2.5" fill="#3b528a"/><circle cx="450.4" cy="319.9" r="2.5" fill="#423e84"/><circle cx="477.5" cy="312.6" r="2.5" fill="#440255"/><circle cx="469.3" cy="322.9" r="2.5" fill="#471b6d"/><circle cx="425.4" cy="329.1" r="2.5" fill="#355f8d"/><circle cx="473.0" cy="317.7" r="2.5" fill="#461567"/><circle cx="458.3" cy="323.6" r="2.5" fill="#443881"/><circle cx="480.1" cy="321.3" r="2.5" fill="#471b6c"/><circle cx="451.1" cy="322.6" r="2.5" fill="#424286"/><circle cx="458.6" cy="316.1" r="2.5" fill="#39568b"/><circle cx="469.8" cy="322.1" r="2.5" fill="#471869"/><circle cx="479.3" cy="314.3" r="2.5" fill="#47186a"/><circle cx="481.8" cy="313.2" r="2.5" fill="#461668"/><circle cx="469.5" cy="322.7" r="2.5" fill="#482475"/><circle cx="429.5" cy="325.2" r="2.5" fill="#32678d"/><circle cx="447.2" cy="330.8" r="2.5" fill="#35608d"/><circle cx="487.0" cy="310.2" r="2.5" fill="#450c5e"/><circle cx="482.5" cy="316.2" r="2.5" fill="#440457"/><circle cx="399.1" cy="328.4" r="2.5" fill="#2a788e"/><circle cx="456.6" cy="304.7" r="2.5" fill="#45085a"/><circle cx="458.5" cy="334.3" r="2.5" fill="#21918c"/><circle cx="480.7" cy="302.6" r="2.5" fill="#440356"/><circle cx="473.1" cy="303.7" r="2.5" fill="#461264"/><circle cx="463.7" cy="313.2" r="2.5" fill="#440255"/><circle cx="455.9" cy="305.9" r="2.5" fill="#440255"/><circle cx="427.3" cy="318.3" r="2.5" fill="#462e7b"/><circle cx="438.7" cy="318.6" r="2.5" fill="#45317c"/><circle cx="407.7" cy="318.0" r="2.5" fill="#404587"/><circle cx="447.3" cy="320.7" r="2.5" fill="#3f4988"/><circle cx="467.9" cy="316.3" r="2.5" fill="#440255"/><circle cx="453.6" cy="314.1" r="2.5" fill="#472071"/><circle cx="453.2" cy="315.6" r="2.5" fill="#45075a"/><circle cx="447.2" cy="320.9" r="2.5" fill="#287c8e"/><circle cx="461.4" cy="334.6" r="2.5" fill="#34628d"/><circle cx="467.1" cy="309.7" r="2.5" fill="#45095c"/><circle cx="458.7" cy="319.0" r="2.5" fill="#443780"/><circle cx="444.9" cy="337.4" r="2.5" fill="#26838d"/><circle cx="449.9" cy="318.5" r="2.5" fill="#440255"/><circle cx="454.6" cy="320.7" r="2.5" fill="#461668"/><circle cx="456.7" cy="342.6" r="2.5" fill="#21908c"/><circle cx="464.4" cy="316.5" r="2.5" fill="#440557"/><circle cx="450.2" cy="318.2" r="2.5" fill="#471b6d"/><circle cx="477.0" cy="315.7" r="2.5" fill="#45095c"/><circle cx="495.4" cy="323.2" r="2.5" fill="#404587"/><circle cx="452.8" cy="316.8" r="2.5" fill="#450659"/><circle cx="424.3" cy="327.0" r="2.5" fill="#33648d"/><circle cx="465.4" cy="323.5" r="2.5" fill="#375c8c"/><circle cx="451.5" cy="304.7" r="2.5" fill="#450c5e"/><circle cx="456.5" cy="313.6" r="2.5" fill="#450658"/><circle cx="416.1" cy="320.2" r="2.5" fill="#38598b"/><circle cx="480.8" cy="309.3" r="2.5" fill="#440457"/><circle cx="479.2" cy="326.0" r="2.5" fill="#433c82"/><circle cx="443.4" cy="311.6" r="2.5" fill="#47186a"/><circle cx="468.7" cy="317.2" r="2.5" fill="#47196a"/><circle cx="453.8" cy="300.0" r="2.5" fill="#45085a"/><circle cx="479.7" cy="311.7" r="2.5" fill="#45075a"/><circle cx="459.5" cy="322.8" r="2.5" fill="#461062"/><circle cx="442.3" cy="358.5" r="2.5" fill="#21908c"/><circle cx="432.0" cy="316.1" r="2.5" fill="#423f84"/><circle cx="479.3" cy="317.5" r="2.5" fill="#45095c"/><circle cx="472.1" cy="317.3" r="2.5" fill="#461264"/><circle cx="471.2" cy="314.1" r="2.5" fill="#440356"/><circle cx="423.2" cy="305.0" r="2.5" fill="#45327d"/><circle cx="423.9" cy="331.9" r="2.5" fill="#2b768e"/><circle cx="423.7" cy="324.8" r="2.5" fill="#306c8e"/><circle cx="472.6" cy="325.5" r="2.5" fill="#461667"/><circle cx="469.1" cy="316.8" r="2.5" fill="#461062"/><circle cx="433.7" cy="316.5" r="2.5" fill="#404788"/><circle cx="410.0" cy="320.9" r="2.5" fill="#404587"/><circle cx="446.7" cy="313.5" r="2.5" fill="#450b5d"/><circle cx="467.1" cy="309.4" r="2.5" fill="#440255"/><circle cx="498.8" cy="319.1" r="2.5" fill="#45327d"/><circle cx="462.0" cy="306.4" r="2.5" fill="#440255"/><circle cx="457.3" cy="328.6" r="2.5" fill="#2d728e"/><circle cx="460.8" cy="331.1" r="2.5" fill="#365e8d"/><circle cx="480.0" cy="299.1" r="2.5" fill="#440255"/><circle cx="450.0" cy="318.0" r="2.5" fill="#471c6d"/><circle cx="456.0" cy="306.8" r="2.5" fill="#45095b"/><circle cx="477.0" cy="317.4" r="2.5" fill="#482475"/><circle cx="456.2" cy="300.8" r="2.5" fill="#440255"/><circle cx="448.3" cy="315.6" r="2.5" fill="#461163"/><circle cx="466.4" cy="316.5" r="2.5" fill="#461264"/><circle cx="430.5" cy="327.0" r="2.5" fill="#414386"/><circle cx="477.2" cy="339.2" r="2.5" fill="#26848d"/><circle cx="470.5" cy="323.0" r="2.5" fill="#46307c"/><circle cx="464.5" cy="320.4" r="2.5" fill="#472a79"/><circle cx="443.4" cy="323.0" r="2.5" fill="#423e84"/><circle cx="454.4" cy="308.7" r="2.5" fill="#440355"/><circle cx="461.2" cy="310.3" r="2.5" fill="#461567"/><circle cx="500.6" cy="305.7" r="2.5" fill="#45327d"/><circle cx="461.7" cy="307.1" r="2.5" fill="#450659"/><circle cx="443.8" cy="321.0" r="2.5" fill="#440456"/><circle cx="451.7" cy="325.7" r="2.5" fill="#3e4b88"/><circle cx="462.8" cy="311.9" r="2.5" fill="#440255"/><circle cx="456.4" cy="310.1" r="2.5" fill="#461768"/><circle cx="425.9" cy="333.9" r="2.5" fill="#26848d"/><circle cx="463.9" cy="312.3" r="2.5" fill="#450659"/><circle cx="471.4" cy="309.5" r="2.5" fill="#450c5f"/><circle cx="470.0" cy="306.1" r="2.5" fill="#440255"/><circle cx="451.3" cy="315.1" r="2.5" fill="#450d5f"/><circle cx="447.0" cy="313.6" r="2.5" fill="#461062"/><circle cx="477.7" cy="321.8" r="2.5" fill="#482777"/><circle cx="477.2" cy="314.3" r="2.5" fill="#440557"/><circle cx="464.5" cy="305.5" r="2.5" fill="#450a5d"/><circle cx="451.5" cy="301.3" r="2.5" fill="#461365"/><circle cx="476.7" cy="318.3" r="2.5" fill="#461264"/><circle cx="446.4" cy="340.3" r="2.5" fill="#21908c"/><circle cx="448.8" cy="336.8" r="2.5" fill="#2f6e8e"/><circle cx="472.1" cy="319.1" r="2.5" fill="#461668"/><circle cx="447.6" cy="324.1" r="2.5" fill="#39588b"/><circle cx="474.7" cy="315.4" r="2.5" fill="#471a6c"/><circle cx="467.5" cy="316.0" r="2.5" fill="#450a5d"/><circle cx="468.8" cy="311.3" r="2.5" fill="#45095c"/><circle cx="458.0" cy="321.6" r="2.5" fill="#3b538a"/><circle cx="468.7" cy="323.4" r="2.5" fill="#2e6f8e"/><circle cx="484.0" cy="313.4" r="2.5" fill="#462e7b"/><circle cx="468.8" cy="304.8" r="2.5" fill="#450e60"/><circle cx="459.6" cy="322.2" r="2.5" fill="#47196b"/><circle cx="461.6" cy="305.6" r="2.5" fill="#462c7a"/><circle cx="453.9" cy="305.1" r="2.5" fill="#461062"/><circle cx="468.1" cy="315.8" r="2.5" fill="#482676"/><circle cx="461.3" cy="329.8" r="2.5" fill="#34628d"/><circle cx="436.2" cy="335.8" r="2.5" fill="#2c748e"/><circle cx="420.9" cy="334.6" r="2.5" fill="#2a788e"/><circle cx="442.6" cy="323.1" r="2.5" fill="#35618d"/><circle cx="459.5" cy="323.4" r="2.5" fill="#461264"/><circle cx="459.1" cy="326.0" r="2.5" fill="#450a5c"/><circle cx="477.6" cy="333.1" r="2.5" fill="#2c748e"/><circle cx="420.9" cy="320.2" r="2.5" fill="#404587"/><circle cx="455.5" cy="346.7" r="2.5" fill="#43bf71"/><circle cx="462.2" cy="329.2" r="2.5" fill="#2d718e"/><circle cx="472.9" cy="316.2" r="2.5" fill="#471e70"/><circle cx="475.9" cy="323.1" r="2.5" fill="#423d83"/><circle cx="466.7" cy="319.1" r="2.5" fill="#460f61"/><circle cx="471.8" cy="305.3" r="2.5" fill="#461264"/><circle cx="471.3" cy="320.6" r="2.5" fill="#461769"/><circle cx="433.1" cy="315.5" r="2.5" fill="#482273"/><circle cx="471.7" cy="320.2" r="2.5" fill="#461668"/><circle cx="470.5" cy="317.8" r="2.5" fill="#461668"/><circle cx="441.9" cy="307.3" r="2.5" fill="#45327d"/><circle cx="466.8" cy="322.3" r="2.5" fill="#461365"/><circle cx="444.2" cy="338.0" r="2.5" fill="#26848d"/><circle cx="473.0" cy="313.9" r="2.5" fill="#461769"/><circle cx="461.1" cy="321.7" r="2.5" fill="#47186a"/><circle cx="454.7" cy="314.1" r="2.5" fill="#461163"/><circle cx="455.8" cy="316.1" r="2.5" fill="#471a6b"/><circle cx="455.7" cy="316.4" r="2.5" fill="#45095b"/><circle cx="472.8" cy="313.5" r="2.5" fill="#45085b"/><circle cx="482.3" cy="307.9" r="2.5" fill="#440356"/><circle cx="469.8" cy="314.0" r="2.5" fill="#471e70"/><circle cx="473.0" cy="316.7" r="2.5" fill="#461062"/><circle cx="467.0" cy="309.6" r="2.5" fill="#461365"/><circle cx="453.7" cy="308.0" r="2.5" fill="#450659"/><circle cx="470.6" cy="304.2" r="2.5" fill="#45095b"/><circle cx="457.1" cy="312.6" r="2.5" fill="#450d5f"/><circle cx="475.4" cy="319.1" r="2.5" fill="#32668d"/><circle cx="474.3" cy="310.7" r="2.5" fill="#450d5f"/><circle cx="462.2" cy="328.1" r="2.5" fill="#46307c"/><circle cx="414.2" cy="325.3" r="2.5" fill="#39578b"/><circle cx="474.4" cy="318.6" r="2.5" fill="#440255"/><circle cx="426.0" cy="322.1" r="2.5" fill="#355f8d"/><circle cx="427.1" cy="311.1" r="2.5" fill="#45327d"/><circle cx="416.9" cy="333.0" r="2.5" fill="#2c748e"/><circle cx="476.5" cy="318.6" r="2.5" fill="#461466"/><circle cx="461.7" cy="322.4" r="2.5" fill="#375b8c"/><circle cx="475.9" cy="311.4" r="2.5" fill="#450659"/><circle cx="463.2" cy="323.0" r="2.5" fill="#45317d"/><circle cx="477.9" cy="303.2" r="2.5" fill="#440255"/><circle cx="430.4" cy="331.6" r="2.5" fill="#34618d"/><circle cx="471.9" cy="311.1" r="2.5" fill="#440457"/><circle cx="468.9" cy="312.1" r="2.5" fill="#440356"/><circle cx="482.4" cy="335.7" r="2.5" fill="#26848d"/><circle cx="462.9" cy="310.9" r="2.5" fill="#482475"/><circle cx="485.7" cy="316.2" r="2.5" fill="#450a5c"/><circle cx="455.1" cy="318.6" r="2.5" fill="#461567"/><circle cx="471.6" cy="304.7" r="2.5" fill="#47196b"/><circle cx="482.4" cy="318.9" r="2.5" fill="#482172"/><circle cx="457.5" cy="311.2" r="2.5" fill="#440255"/><circle cx="464.9" cy="323.9" r="2.5" fill="#450759"/><circle cx="432.3" cy="338.0" r="2.5" fill="#26848d"/><circle cx="471.7" cy="309.4" r="2.5" fill="#450a5d"/><circle cx="471.4" cy="329.9" r="2.5" fill="#472c7a"/><circle cx="461.6" cy="321.7" r="2.5" fill="#471b6d"/><circle cx="451.4" cy="303.3" r="2.5" fill="#440255"/><circle cx="477.5" cy="318.5" r="2.5" fill="#471869"/><circle cx="466.7" cy="312.0" r="2.5" fill="#440356"/><circle cx="420.2" cy="323.9" r="2.5" fill="#375c8c"/><circle cx="488.5" cy="313.1" r="2.5" fill="#461466"/><circle cx="432.8" cy="332.3" r="2.5" fill="#2a788e"/><circle cx="492.0" cy="328.9" r="2.5" fill="#38598b"/><circle cx="444.5" cy="333.3" r="2.5" fill="#2d728e"/><circle cx="465.0" cy="312.2" r="2.5" fill="#461668"/><circle cx="470.7" cy="303.7" r="2.5" fill="#461668"/><circle cx="480.9" cy="315.0" r="2.5" fill="#440557"/><circle cx="475.0" cy="326.2" r="2.5" fill="#471b6d"/><circle cx="444.2" cy="331.3" r="2.5" fill="#365d8c"/><circle cx="469.7" cy="311.0" r="2.5" fill="#440255"/><circle cx="460.0" cy="332.5" r="2.5" fill="#218f8c"/><circle cx="450.6" cy="306.5" r="2.5" fill="#440255"/><circle cx="468.3" cy="309.7" r="2.5" fill="#461365"/><circle cx="467.5" cy="335.5" r="2.5" fill="#2a788e"/><circle cx="432.0" cy="316.6" r="2.5" fill="#460f62"/><circle cx="466.7" cy="314.3" r="2.5" fill="#482374"/><circle cx="427.4" cy="317.8" r="2.5" fill="#3a548a"/><circle cx="475.8" cy="313.0" r="2.5" fill="#472071"/><circle cx="399.1" cy="323.2" r="2.5" fill="#306c8e"/><circle cx="465.9" cy="318.2" r="2.5" fill="#45075a"/><circle cx="470.9" cy="334.8" r="2.5" fill="#2d728e"/><circle cx="482.0" cy="303.4" r="2.5" fill="#440255"/><circle cx="462.1" cy="303.8" r="2.5" fill="#47186a"/><circle cx="420.2" cy="343.7" r="2.5" fill="#43bf71"/><circle cx="469.0" cy="317.0" r="2.5" fill="#461769"/><circle cx="465.3" cy="313.0" r="2.5" fill="#45075a"/><circle cx="456.3" cy="313.7" r="2.5" fill="#440255"/><circle cx="459.5" cy="313.3" r="2.5" fill="#472071"/><circle cx="449.8" cy="305.1" r="2.5" fill="#450a5d"/><circle cx="465.1" cy="305.0" r="2.5" fill="#471b6d"/><circle cx="466.0" cy="320.1" r="2.5" fill="#440356"/><circle cx="464.5" cy="319.6" r="2.5" fill="#461668"/><circle cx="462.1" cy="315.5" r="2.5" fill="#45085b"/><circle cx="442.1" cy="317.3" r="2.5" fill="#3d4c89"/><circle cx="462.5" cy="321.7" r="2.5" fill="#461365"/><circle cx="475.9" cy="324.5" r="2.5" fill="#461163"/><circle cx="458.4" cy="318.5" r="2.5" fill="#450c5e"/><circle cx="445.2" cy="328.2" r="2.5" fill="#287c8e"/><circle cx="455.6" cy="313.9" r="2.5" fill="#472c7a"/><circle cx="459.6" cy="309.4" r="2.5" fill="#440356"/><circle cx="460.1" cy="327.2" r="2.5" fill="#3b538a"/><circle cx="468.2" cy="312.5" r="2.5" fill="#462e7b"/><circle cx="482.1" cy="310.0" r="2.5" fill="#450e61"/><circle cx="473.7" cy="322.9" r="2.5" fill="#2f6e8e"/><circle cx="469.8" cy="306.5" r="2.5" fill="#460f61"/><circle cx="406.6" cy="330.7" r="2.5" fill="#2a788e"/><circle cx="466.9" cy="308.6" r="2.5" fill="#440356"/><circle cx="487.6" cy="304.8" r="2.5" fill="#440356"/><circle cx="451.7" cy="311.7" r="2.5" fill="#440356"/><circle cx="466.7" cy="325.3" r="2.5" fill="#482172"/><circle cx="442.0" cy="312.9" r="2.5" fill="#482777"/><circle cx="475.9" cy="327.9" r="2.5" fill="#471a6c"/><circle cx="470.8" cy="315.3" r="2.5" fill="#472a79"/><circle cx="483.8" cy="321.0" r="2.5" fill="#47186a"/><circle cx="465.0" cy="314.6" r="2.5" fill="#45337e"/><circle cx="463.0" cy="318.7" r="2.5" fill="#423f84"/><circle cx="483.7" cy="308.2" r="2.5" fill="#440356"/><circle cx="456.7" cy="306.1" r="2.5" fill="#45327d"/><circle cx="468.3" cy="318.9" r="2.5" fill="#461365"/><circle cx="456.2" cy="309.9" r="2.5" fill="#450b5d"/><circle cx="479.9" cy="317.3" r="2.5" fill="#461667"/><circle cx="466.9" cy="337.6" r="2.5" fill="#404587"/><circle cx="418.6" cy="345.3" r="2.5" fill="#43bf71"/></g>
<path d="M462.90 385.44V297.44" stroke="#000" stroke-width="1.07" stroke-dasharray="4.5 3.8" fill="none"/>
<path d="M399.74 330.04L500.63 314.54" stroke="#3d3d3d" stroke-width="1.75" fill="none"/>
<g font-size="9.1" fill="#000"><text x="371.90" y="365.94">r</text><text x="376.30" y="365.94">=</text><text x="383.50" y="365.94">0.28</text><text x="371.90" y="373.94">β</text><text x="379.80" y="373.94">=</text><text x="386.20" y="373.94">0.084</text><text x="371.90" y="383.24">α</text><text x="379.80" y="383.24">=</text><text x="386.20" y="383.24">0.77</text></g>
<rect x="369.00" y="297.44" width="155.00" height="88.00" fill="none" stroke="#555" stroke-width="1.1"/>
<rect x="369.00" y="277.44" width="155.00" height="20.00" fill="#D9D9D9" stroke="#555" stroke-width="1.1"/>
<path d="M369.00 298.24H524.00" stroke="#8a8a8a" stroke-width="1.2"/>
<text x="446.50" y="292.64" font-size="12.75" fill="#1A1A1A" text-anchor="middle">Cluster 11</text>
</g>
<g>
<rect x="529.75" y="297.44" width="155.00" height="88.00" fill="#fff"/>
<path d="M555.17 297.44V385.44M600.82 297.44V385.44M646.48 297.44V385.44M529.75 373.51H684.75M529.75 353.06H684.75M529.75 332.62H684.75M529.75 312.17H684.75" stroke="#EBEBEB" stroke-width="0.8" fill="none"/>
<path d="M532.35 297.44V385.44M578.00 297.44V385.44M623.65 297.44V385.44M669.30 297.44V385.44M529.75 383.74H684.75M529.75 363.29H684.75M529.75 342.84H684.75M529.75 322.39H684.75M529.75 301.94H684.75" stroke="#EBEBEB" stroke-width="1.6" fill="none"/>
<clipPath id="cp11"><rect x="529.75" y="297.44" width="155.00" height="88.00"/></clipPath>
<g fill-opacity="0.58" clip-path="url(#cp11)"><circle cx="624.4" cy="315.3" r="2.5" fill="#482475"/><circle cx="587.8" cy="331.2" r="2.5" fill="#306c8e"/><circle cx="626.9" cy="342.6" r="2.5" fill="#45327d"/><circle cx="635.8" cy="306.9" r="2.5" fill="#440356"/><circle cx="633.2" cy="319.4" r="2.5" fill="#45317d"/><circle cx="644.8" cy="307.3" r="2.5" fill="#440255"/><circle cx="635.1" cy="319.4" r="2.5" fill="#450e60"/><circle cx="626.2" cy="318.1" r="2.5" fill="#471c6d"/><circle cx="632.0" cy="318.8" r="2.5" fill="#471a6b"/><circle cx="621.4" cy="326.4" r="2.5" fill="#316a8d"/><circle cx="612.9" cy="317.9" r="2.5" fill="#47186a"/><circle cx="614.2" cy="307.5" r="2.5" fill="#450a5c"/><circle cx="610.1" cy="329.3" r="2.5" fill="#3c4f89"/><circle cx="645.0" cy="320.3" r="2.5" fill="#472777"/><circle cx="629.2" cy="315.5" r="2.5" fill="#461063"/><circle cx="623.4" cy="308.6" r="2.5" fill="#440456"/><circle cx="648.3" cy="307.3" r="2.5" fill="#440255"/><circle cx="635.3" cy="303.2" r="2.5" fill="#45095b"/><circle cx="640.2" cy="316.3" r="2.5" fill="#471b6d"/><circle cx="616.6" cy="330.8" r="2.5" fill="#385a8c"/><circle cx="590.0" cy="347.1" r="2.5" fill="#21908c"/><circle cx="624.8" cy="307.8" r="2.5" fill="#450659"/><circle cx="613.7" cy="344.4" r="2.5" fill="#306c8e"/><circle cx="642.6" cy="318.2" r="2.5" fill="#44367f"/><circle cx="619.2" cy="324.1" r="2.5" fill="#482777"/><circle cx="620.1" cy="301.5" r="2.5" fill="#440255"/><circle cx="607.5" cy="325.0" r="2.5" fill="#45327d"/><circle cx="638.7" cy="309.2" r="2.5" fill="#471f70"/><circle cx="631.9" cy="328.1" r="2.5" fill="#461769"/><circle cx="630.0" cy="322.5" r="2.5" fill="#471e6f"/><circle cx="625.4" cy="317.3" r="2.5" fill="#461769"/><circle cx="623.6" cy="325.5" r="2.5" fill="#462c7a"/><circle cx="616.2" cy="327.6" r="2.5" fill="#404788"/><circle cx="590.5" cy="316.4" r="2.5" fill="#45327d"/><circle cx="622.2" cy="323.9" r="2.5" fill="#461769"/><circle cx="619.4" cy="321.0" r="2.5" fill="#461062"/><circle cx="633.8" cy="309.4" r="2.5" fill="#45075a"/><circle cx="617.3" cy="319.1" r="2.5" fill="#461466"/><circle cx="628.6" cy="303.2" r="2.5" fill="#471d6e"/><circle cx="623.1" cy="317.9" r="2.5" fill="#45095c"/><circle cx="628.6" cy="307.7" r="2.5" fill="#440457"/><circle cx="636.0" cy="343.7" r="2.5" fill="#404587"/><circle cx="574.5" cy="325.5" r="2.5" fill="#38598b"/><circle cx="571.1" cy="344.2" r="2.5" fill="#229c88"/><circle cx="621.2" cy="316.2" r="2.5" fill="#45085b"/><circle cx="601.3" cy="338.3" r="2.5" fill="#404687"/><circle cx="610.3" cy="302.2" r="2.5" fill="#440255"/><circle cx="630.2" cy="327.2" r="2.5" fill="#462d7b"/><circle cx="616.9" cy="319.8" r="2.5" fill="#462e7b"/><circle cx="631.0" cy="361.9" r="2.5" fill="#45327d"/><circle cx="630.1" cy="318.9" r="2.5" fill="#450a5d"/><circle cx="625.6" cy="311.7" r="2.5" fill="#450b5e"/><circle cx="615.8" cy="303.3" r="2.5" fill="#440356"/><circle cx="625.6" cy="321.9" r="2.5" fill="#440356"/><circle cx="628.3" cy="317.0" r="2.5" fill="#47186a"/><circle cx="563.6" cy="326.6" r="2.5" fill="#2a788e"/><circle cx="606.3" cy="330.0" r="2.5" fill="#306a8d"/><circle cx="629.1" cy="315.4" r="2.5" fill="#471b6c"/><circle cx="614.8" cy="330.4" r="2.5" fill="#404687"/><circle cx="622.2" cy="317.3" r="2.5" fill="#450658"/><circle cx="607.1" cy="330.5" r="2.5" fill="#39568b"/><circle cx="606.1" cy="326.4" r="2.5" fill="#45317c"/><circle cx="628.7" cy="320.0" r="2.5" fill="#471e6f"/><circle cx="588.9" cy="331.6" r="2.5" fill="#355f8d"/><circle cx="629.4" cy="309.1" r="2.5" fill="#440255"/><circle cx="638.8" cy="321.4" r="2.5" fill="#471c6d"/><circle cx="616.8" cy="315.4" r="2.5" fill="#443880"/><circle cx="640.7" cy="331.0" r="2.5" fill="#45337e"/><circle cx="652.0" cy="347.6" r="2.5" fill="#45327d"/><circle cx="628.0" cy="331.2" r="2.5" fill="#471d6f"/><circle cx="603.7" cy="335.0" r="2.5" fill="#2d728e"/><circle cx="634.4" cy="314.8" r="2.5" fill="#471869"/><circle cx="629.2" cy="347.6" r="2.5" fill="#45327d"/><circle cx="606.7" cy="335.5" r="2.5" fill="#3b528a"/><circle cx="637.0" cy="315.1" r="2.5" fill="#461466"/><circle cx="602.1" cy="336.3" r="2.5" fill="#34628d"/><circle cx="620.5" cy="324.3" r="2.5" fill="#461769"/><circle cx="598.7" cy="332.0" r="2.5" fill="#3e4c89"/><circle cx="628.6" cy="316.6" r="2.5" fill="#482576"/><circle cx="616.0" cy="323.0" r="2.5" fill="#39568b"/><circle cx="635.3" cy="328.4" r="2.5" fill="#471a6c"/><circle cx="629.4" cy="312.6" r="2.5" fill="#471a6c"/><circle cx="622.9" cy="316.0" r="2.5" fill="#471d6f"/><circle cx="623.1" cy="325.4" r="2.5" fill="#482172"/><circle cx="625.1" cy="324.9" r="2.5" fill="#433d83"/><circle cx="621.2" cy="324.2" r="2.5" fill="#472a79"/><circle cx="590.9" cy="342.6" r="2.5" fill="#43bf71"/><circle cx="618.0" cy="319.8" r="2.5" fill="#462e7b"/><circle cx="609.2" cy="304.2" r="2.5" fill="#450a5d"/><circle cx="612.2" cy="317.1" r="2.5" fill="#462e7b"/><circle cx="623.0" cy="303.1" r="2.5" fill="#461264"/><circle cx="616.3" cy="316.0" r="2.5" fill="#450d5f"/><circle cx="619.7" cy="302.5" r="2.5" fill="#440255"/><circle cx="628.6" cy="318.4" r="2.5" fill="#471a6b"/><circle cx="608.7" cy="343.7" r="2.5" fill="#404587"/><circle cx="601.0" cy="335.0" r="2.5" fill="#3a548a"/><circle cx="624.1" cy="313.4" r="2.5" fill="#461163"/><circle cx="643.9" cy="317.8" r="2.5" fill="#440457"/><circle cx="612.6" cy="320.8" r="2.5" fill="#461567"/><circle cx="612.0" cy="315.0" r="2.5" fill="#45095b"/><circle cx="628.6" cy="322.4" r="2.5" fill="#472777"/><circle cx="637.5" cy="312.3" r="2.5" fill="#471a6b"/><circle cx="635.4" cy="316.4" r="2.5" fill="#461668"/><circle cx="625.1" cy="307.3" r="2.5" fill="#440457"/><circle cx="636.6" cy="334.2" r="2.5" fill="#404788"/><circle cx="625.1" cy="312.2" r="2.5" fill="#460f61"/><circle cx="627.7" cy="330.3" r="2.5" fill="#443780"/><circle cx="656.5" cy="320.5" r="2.5" fill="#404587"/><circle cx="632.6" cy="312.1" r="2.5" fill="#450e60"/><circle cx="639.6" cy="317.0" r="2.5" fill="#461466"/><circle cx="626.5" cy="332.2" r="2.5" fill="#414487"/><circle cx="617.0" cy="309.1" r="2.5" fill="#440255"/><circle cx="613.1" cy="316.7" r="2.5" fill="#45085b"/><circle cx="623.4" cy="310.5" r="2.5" fill="#450e61"/><circle cx="635.6" cy="324.0" r="2.5" fill="#462e7b"/><circle cx="641.3" cy="332.0" r="2.5" fill="#471c6d"/><circle cx="621.3" cy="330.9" r="2.5" fill="#482777"/><circle cx="640.3" cy="321.5" r="2.5" fill="#472878"/><circle cx="637.0" cy="321.1" r="2.5" fill="#482273"/><circle cx="632.2" cy="320.2" r="2.5" fill="#471e70"/><circle cx="625.6" cy="318.5" r="2.5" fill="#461163"/><circle cx="626.8" cy="308.5" r="2.5" fill="#47186a"/><circle cx="571.1" cy="324.3" r="2.5" fill="#404587"/><circle cx="629.8" cy="305.8" r="2.5" fill="#440255"/><circle cx="624.1" cy="303.8" r="2.5" fill="#45075a"/><circle cx="631.1" cy="325.2" r="2.5" fill="#462e7b"/><circle cx="623.0" cy="331.9" r="2.5" fill="#472a79"/><circle cx="599.2" cy="331.5" r="2.5" fill="#33658d"/><circle cx="626.5" cy="318.6" r="2.5" fill="#461264"/><circle cx="618.3" cy="321.5" r="2.5" fill="#471e6f"/><circle cx="635.3" cy="328.4" r="2.5" fill="#471e70"/><circle cx="633.8" cy="313.6" r="2.5" fill="#45085b"/><circle cx="598.8" cy="334.4" r="2.5" fill="#3a548b"/><circle cx="595.0" cy="336.9" r="2.5" fill="#26848d"/><circle cx="655.4" cy="329.6" r="2.5" fill="#306c8e"/><circle cx="612.0" cy="311.9" r="2.5" fill="#471f70"/><circle cx="636.5" cy="314.6" r="2.5" fill="#440255"/><circle cx="597.1" cy="325.7" r="2.5" fill="#3f4988"/><circle cx="639.8" cy="324.4" r="2.5" fill="#461063"/><circle cx="622.3" cy="328.3" r="2.5" fill="#461466"/><circle cx="631.5" cy="327.1" r="2.5" fill="#47186a"/><circle cx="650.0" cy="313.0" r="2.5" fill="#450b5e"/><circle cx="642.8" cy="319.6" r="2.5" fill="#471e6f"/><circle cx="625.6" cy="309.9" r="2.5" fill="#45075a"/><circle cx="625.9" cy="317.3" r="2.5" fill="#482475"/><circle cx="643.0" cy="321.7" r="2.5" fill="#47186a"/><circle cx="627.9" cy="312.2" r="2.5" fill="#440557"/><circle cx="638.3" cy="339.2" r="2.5" fill="#404587"/><circle cx="636.0" cy="310.3" r="2.5" fill="#450759"/><circle cx="639.5" cy="321.8" r="2.5" fill="#471b6c"/><circle cx="635.6" cy="309.3" r="2.5" fill="#461163"/><circle cx="626.5" cy="317.3" r="2.5" fill="#461365"/><circle cx="641.2" cy="310.4" r="2.5" fill="#461163"/><circle cx="609.6" cy="311.1" r="2.5" fill="#440558"/><circle cx="624.1" cy="302.1" r="2.5" fill="#440457"/><circle cx="613.4" cy="312.0" r="2.5" fill="#472878"/><circle cx="647.0" cy="305.7" r="2.5" fill="#482173"/><circle cx="635.2" cy="324.7" r="2.5" fill="#472a79"/><circle cx="636.0" cy="307.9" r="2.5" fill="#440356"/><circle cx="609.1" cy="330.2" r="2.5" fill="#3e4b89"/><circle cx="624.2" cy="307.0" r="2.5" fill="#440255"/><circle cx="633.7" cy="315.2" r="2.5" fill="#460f61"/><circle cx="623.8" cy="306.8" r="2.5" fill="#460f61"/><circle cx="618.3" cy="325.7" r="2.5" fill="#2f6c8e"/><circle cx="609.0" cy="317.8" r="2.5" fill="#472878"/><circle cx="634.4" cy="322.6" r="2.5" fill="#472a79"/><circle cx="633.5" cy="321.2" r="2.5" fill="#462e7b"/><circle cx="637.4" cy="318.7" r="2.5" fill="#440356"/><circle cx="603.7" cy="344.4" r="2.5" fill="#26848d"/><circle cx="644.9" cy="317.2" r="2.5" fill="#471d6e"/><circle cx="601.1" cy="342.0" r="2.5" fill="#219c88"/><circle cx="618.0" cy="317.3" r="2.5" fill="#45327d"/><circle cx="640.9" cy="312.2" r="2.5" fill="#440255"/><circle cx="639.5" cy="329.8" r="2.5" fill="#462e7b"/><circle cx="615.6" cy="312.7" r="2.5" fill="#440356"/><circle cx="648.8" cy="318.5" r="2.5" fill="#471f70"/><circle cx="597.3" cy="343.7" r="2.5" fill="#26848d"/><circle cx="649.7" cy="306.1" r="2.5" fill="#482173"/><circle cx="629.0" cy="299.9" r="2.5" fill="#440255"/><circle cx="641.2" cy="317.2" r="2.5" fill="#472978"/><circle cx="622.8" cy="307.9" r="2.5" fill="#440255"/><circle cx="636.1" cy="323.1" r="2.5" fill="#461466"/><circle cx="632.2" cy="320.6" r="2.5" fill="#450a5d"/><circle cx="588.7" cy="338.0" r="2.5" fill="#229c88"/><circle cx="610.2" cy="320.9" r="2.5" fill="#450659"/><circle cx="614.0" cy="320.7" r="2.5" fill="#471b6c"/><circle cx="640.6" cy="304.1" r="2.5" fill="#440255"/><circle cx="616.0" cy="329.7" r="2.5" fill="#3d4e89"/><circle cx="624.8" cy="307.0" r="2.5" fill="#440457"/><circle cx="637.0" cy="300.2" r="2.5" fill="#440255"/><circle cx="609.0" cy="313.6" r="2.5" fill="#460f61"/><circle cx="635.3" cy="302.7" r="2.5" fill="#440457"/><circle cx="612.2" cy="310.9" r="2.5" fill="#450b5e"/><circle cx="635.1" cy="320.4" r="2.5" fill="#450e60"/><circle cx="625.1" cy="321.7" r="2.5" fill="#461769"/><circle cx="629.4" cy="330.7" r="2.5" fill="#3e4a88"/><circle cx="632.2" cy="326.8" r="2.5" fill="#482576"/><circle cx="605.3" cy="324.3" r="2.5" fill="#450e60"/><circle cx="628.2" cy="321.1" r="2.5" fill="#45075a"/><circle cx="619.4" cy="311.5" r="2.5" fill="#45095b"/><circle cx="630.6" cy="310.3" r="2.5" fill="#450a5d"/><circle cx="619.9" cy="303.5" r="2.5" fill="#440558"/><circle cx="654.3" cy="319.3" r="2.5" fill="#404587"/><circle cx="640.6" cy="319.9" r="2.5" fill="#45327d"/><circle cx="625.2" cy="316.4" r="2.5" fill="#482576"/><circle cx="639.3" cy="306.9" r="2.5" fill="#440355"/><circle cx="616.3" cy="319.6" r="2.5" fill="#461264"/><circle cx="625.3" cy="320.1" r="2.5" fill="#482576"/><circle cx="620.1" cy="313.8" r="2.5" fill="#450e61"/><circle cx="618.5" cy="313.2" r="2.5" fill="#443880"/><circle cx="620.1" cy="315.5" r="2.5" fill="#461668"/><circle cx="630.7" cy="303.6" r="2.5" fill="#450759"/><circle cx="585.9" cy="320.9" r="2.5" fill="#404587"/><circle cx="622.0" cy="324.9" r="2.5" fill="#482273"/><circle cx="626.7" cy="306.9" r="2.5" fill="#440255"/><circle cx="643.1" cy="328.5" r="2.5" fill="#472b79"/><circle cx="633.7" cy="317.1" r="2.5" fill="#471d6f"/><circle cx="634.6" cy="314.5" r="2.5" fill="#460f61"/><circle cx="600.1" cy="333.4" r="2.5" fill="#2e6e8e"/><circle cx="667.9" cy="328.2" r="2.5" fill="#45327d"/><circle cx="633.1" cy="326.5" r="2.5" fill="#462f7c"/><circle cx="608.5" cy="326.4" r="2.5" fill="#462f7b"/><circle cx="633.4" cy="302.8" r="2.5" fill="#440255"/><circle cx="621.3" cy="312.7" r="2.5" fill="#450e60"/><circle cx="638.7" cy="318.4" r="2.5" fill="#45085b"/><circle cx="625.0" cy="313.7" r="2.5" fill="#461365"/><circle cx="619.6" cy="324.9" r="2.5" fill="#472878"/><circle cx="624.0" cy="316.7" r="2.5" fill="#471869"/><circle cx="624.4" cy="321.1" r="2.5" fill="#482273"/><circle cx="629.1" cy="313.7" r="2.5" fill="#471a6c"/><circle cx="616.7" cy="319.7" r="2.5" fill="#471e6f"/><circle cx="621.5" cy="318.0" r="2.5" fill="#462e7b"/><circle cx="629.6" cy="305.9" r="2.5" fill="#482475"/><circle cx="603.3" cy="331.4" r="2.5" fill="#3f4988"/><circle cx="616.1" cy="311.8" r="2.5" fill="#440255"/><circle cx="574.1" cy="331.6" r="2.5" fill="#26848d"/><circle cx="620.4" cy="325.7" r="2.5" fill="#45085b"/><circle cx="629.0" cy="327.1" r="2.5" fill="#32678d"/><circle cx="620.0" cy="321.2" r="2.5" fill="#472878"/><circle cx="620.0" cy="316.7" r="2.5" fill="#440558"/><circle cx="626.6" cy="338.9" r="2.5" fill="#306a8d"/><circle cx="645.3" cy="322.5" r="2.5" fill="#482374"/><circle cx="619.6" cy="366.9" r="2.5" fill="#38598b"/><circle cx="628.1" cy="315.9" r="2.5" fill="#450d5f"/><circle cx="630.4" cy="304.9" r="2.5" fill="#440255"/><circle cx="601.9" cy="336.9" r="2.5" fill="#306c8e"/><circle cx="627.6" cy="327.7" r="2.5" fill="#471e6f"/><circle cx="634.4" cy="307.5" r="2.5" fill="#450c5f"/><circle cx="608.0" cy="323.1" r="2.5" fill="#482374"/><circle cx="616.6" cy="328.8" r="2.5" fill="#472978"/><circle cx="630.8" cy="321.9" r="2.5" fill="#472071"/><circle cx="627.2" cy="326.4" r="2.5" fill="#472878"/><circle cx="605.3" cy="343.7" r="2.5" fill="#26848d"/><circle cx="625.9" cy="321.0" r="2.5" fill="#450b5e"/><circle cx="628.6" cy="335.5" r="2.5" fill="#443780"/><circle cx="598.5" cy="318.6" r="2.5" fill="#404587"/><circle cx="598.8" cy="323.7" r="2.5" fill="#462e7b"/><circle cx="628.0" cy="319.1" r="2.5" fill="#440557"/><circle cx="608.6" cy="336.4" r="2.5" fill="#35608d"/><circle cx="638.4" cy="323.5" r="2.5" fill="#471a6c"/><circle cx="624.5" cy="322.0" r="2.5" fill="#482677"/><circle cx="613.2" cy="301.1" r="2.5" fill="#461062"/><circle cx="615.4" cy="316.7" r="2.5" fill="#482576"/><circle cx="592.8" cy="343.7" r="2.5" fill="#21908c"/><circle cx="628.7" cy="309.5" r="2.5" fill="#450d5f"/><circle cx="605.3" cy="334.0" r="2.5" fill="#375c8c"/><circle cx="636.9" cy="328.8" r="2.5" fill="#3e4c89"/><circle cx="641.6" cy="320.6" r="2.5" fill="#440255"/></g>
<path d="M623.65 385.44V297.44" stroke="#000" stroke-width="1.07" stroke-dasharray="4.5 3.8" fill="none"/>
<path d="M564.30 336.42L667.92 308.85" stroke="#3d3d3d" stroke-width="1.75" fill="none"/>
<g font-size="9.1" fill="#000"><text x="532.65" y="365.94">r</text><text x="537.05" y="365.94">=</text><text x="544.25" y="365.94">0.36</text><text x="532.65" y="373.94">β</text><text x="540.55" y="373.94">=</text><text x="546.95" y="373.94">0.15</text><text x="532.65" y="383.24">α</text><text x="540.55" y="383.24">=</text><text x="546.95" y="383.24">0.77</text></g>
<rect x="529.75" y="297.44" width="155.00" height="88.00" fill="none" stroke="#555" stroke-width="1.1"/>
<rect x="529.75" y="277.44" width="155.00" height="20.00" fill="#D9D9D9" stroke="#555" stroke-width="1.1"/>
<path d="M529.75 298.24H684.75" stroke="#8a8a8a" stroke-width="1.2"/>
<text x="607.25" y="292.64" font-size="12.75" fill="#1A1A1A" text-anchor="middle">Cluster 12</text>
</g>
<g>
<rect x="47.50" y="410.91" width="155.00" height="88.00" fill="#fff"/>
<path d="M72.93 410.91V498.91M118.58 410.91V498.91M164.22 410.91V498.91M47.50 486.98H202.50M47.50 466.53H202.50M47.50 446.08H202.50M47.50 425.63H202.50" stroke="#EBEBEB" stroke-width="0.8" fill="none"/>
<path d="M50.10 410.91V498.91M95.75 410.91V498.91M141.40 410.91V498.91M187.05 410.91V498.91M47.50 497.21H202.50M47.50 476.76H202.50M47.50 456.31H202.50M47.50 435.86H202.50M47.50 415.41H202.50" stroke="#EBEBEB" stroke-width="1.6" fill="none"/>
<clipPath id="cp12"><rect x="47.50" y="410.91" width="155.00" height="88.00"/></clipPath>
<g fill-opacity="0.58" clip-path="url(#cp12)"><circle cx="127.6" cy="421.1" r="2.5" fill="#450b5d"/><circle cx="136.3" cy="468.1" r="2.5" fill="#45327d"/><circle cx="108.9" cy="452.2" r="2.5" fill="#21908c"/><circle cx="133.1" cy="439.4" r="2.5" fill="#472878"/><circle cx="117.6" cy="438.5" r="2.5" fill="#404587"/><circle cx="146.1" cy="430.5" r="2.5" fill="#461062"/><circle cx="136.4" cy="451.3" r="2.5" fill="#414386"/><circle cx="110.3" cy="453.3" r="2.5" fill="#21908c"/><circle cx="134.9" cy="427.9" r="2.5" fill="#471869"/><circle cx="140.0" cy="432.0" r="2.5" fill="#47196b"/><circle cx="145.3" cy="427.3" r="2.5" fill="#45085b"/><circle cx="138.8" cy="431.2" r="2.5" fill="#482676"/><circle cx="134.9" cy="440.6" r="2.5" fill="#461567"/><circle cx="154.0" cy="427.1" r="2.5" fill="#45327d"/><circle cx="132.9" cy="434.8" r="2.5" fill="#472877"/><circle cx="125.2" cy="445.7" r="2.5" fill="#433a82"/><circle cx="135.6" cy="432.2" r="2.5" fill="#471f70"/><circle cx="147.1" cy="436.1" r="2.5" fill="#471a6c"/><circle cx="123.3" cy="457.8" r="2.5" fill="#38598b"/><circle cx="133.8" cy="427.9" r="2.5" fill="#440255"/><circle cx="131.3" cy="462.4" r="2.5" fill="#43bf71"/><circle cx="149.6" cy="450.1" r="2.5" fill="#38598b"/><circle cx="142.8" cy="416.0" r="2.5" fill="#440255"/><circle cx="133.7" cy="435.8" r="2.5" fill="#423f84"/><circle cx="123.4" cy="447.1" r="2.5" fill="#414286"/><circle cx="128.9" cy="432.0" r="2.5" fill="#45075a"/><circle cx="155.9" cy="415.0" r="2.5" fill="#482173"/><circle cx="137.9" cy="457.3" r="2.5" fill="#3b538a"/><circle cx="142.3" cy="452.1" r="2.5" fill="#3b538a"/><circle cx="129.4" cy="462.9" r="2.5" fill="#21908c"/><circle cx="148.4" cy="443.6" r="2.5" fill="#423f84"/><circle cx="121.2" cy="438.5" r="2.5" fill="#461466"/><circle cx="137.3" cy="445.0" r="2.5" fill="#462f7c"/><circle cx="143.8" cy="422.2" r="2.5" fill="#440255"/><circle cx="145.5" cy="436.7" r="2.5" fill="#461668"/><circle cx="135.0" cy="435.9" r="2.5" fill="#450e60"/><circle cx="142.5" cy="432.4" r="2.5" fill="#45085b"/><circle cx="137.7" cy="442.7" r="2.5" fill="#424085"/><circle cx="160.9" cy="435.1" r="2.5" fill="#404587"/><circle cx="126.5" cy="446.9" r="2.5" fill="#3a538a"/><circle cx="139.6" cy="440.1" r="2.5" fill="#45347e"/><circle cx="137.3" cy="436.0" r="2.5" fill="#47186a"/><circle cx="133.7" cy="429.8" r="2.5" fill="#440456"/><circle cx="130.7" cy="444.3" r="2.5" fill="#472a79"/><circle cx="136.6" cy="427.9" r="2.5" fill="#440457"/><circle cx="125.0" cy="435.3" r="2.5" fill="#482576"/><circle cx="141.9" cy="439.6" r="2.5" fill="#3f4a88"/><circle cx="106.2" cy="444.9" r="2.5" fill="#306c8e"/><circle cx="144.5" cy="414.6" r="2.5" fill="#45327d"/><circle cx="142.7" cy="442.1" r="2.5" fill="#433981"/><circle cx="137.8" cy="426.5" r="2.5" fill="#440457"/><circle cx="152.2" cy="465.1" r="2.5" fill="#404587"/><circle cx="121.7" cy="456.7" r="2.5" fill="#26848d"/><circle cx="145.9" cy="444.4" r="2.5" fill="#3a558b"/><circle cx="139.8" cy="417.7" r="2.5" fill="#440255"/><circle cx="137.0" cy="454.0" r="2.5" fill="#443981"/><circle cx="134.6" cy="437.4" r="2.5" fill="#461062"/><circle cx="158.6" cy="444.2" r="2.5" fill="#38598b"/><circle cx="140.9" cy="443.8" r="2.5" fill="#3e4b88"/><circle cx="112.4" cy="458.3" r="2.5" fill="#2a788e"/><circle cx="151.0" cy="425.6" r="2.5" fill="#440255"/><circle cx="128.2" cy="427.2" r="2.5" fill="#440557"/><circle cx="122.1" cy="447.0" r="2.5" fill="#47186a"/><circle cx="151.3" cy="432.8" r="2.5" fill="#462c7a"/><circle cx="153.6" cy="427.0" r="2.5" fill="#450e60"/><circle cx="149.8" cy="446.4" r="2.5" fill="#44367f"/><circle cx="132.7" cy="430.6" r="2.5" fill="#45095c"/><circle cx="114.9" cy="452.8" r="2.5" fill="#2a788e"/><circle cx="129.0" cy="457.8" r="2.5" fill="#21908c"/><circle cx="147.4" cy="441.4" r="2.5" fill="#424085"/><circle cx="131.7" cy="425.8" r="2.5" fill="#45095c"/><circle cx="140.1" cy="452.6" r="2.5" fill="#2d728e"/><circle cx="149.7" cy="446.7" r="2.5" fill="#3e4b89"/><circle cx="96.0" cy="446.9" r="2.5" fill="#22a884"/><circle cx="146.2" cy="439.1" r="2.5" fill="#461567"/><circle cx="138.9" cy="436.2" r="2.5" fill="#461163"/><circle cx="134.4" cy="424.1" r="2.5" fill="#440255"/><circle cx="147.2" cy="465.8" r="2.5" fill="#38598b"/><circle cx="125.5" cy="436.3" r="2.5" fill="#424085"/><circle cx="135.6" cy="428.5" r="2.5" fill="#482374"/><circle cx="133.7" cy="440.1" r="2.5" fill="#461365"/><circle cx="150.5" cy="439.1" r="2.5" fill="#45337e"/><circle cx="119.9" cy="459.0" r="2.5" fill="#21908c"/><circle cx="146.4" cy="434.4" r="2.5" fill="#471c6d"/><circle cx="130.9" cy="432.6" r="2.5" fill="#450b5d"/><circle cx="135.8" cy="434.0" r="2.5" fill="#461163"/><circle cx="139.5" cy="435.8" r="2.5" fill="#471d6e"/><circle cx="127.0" cy="425.2" r="2.5" fill="#45075a"/><circle cx="137.9" cy="422.5" r="2.5" fill="#440255"/><circle cx="122.8" cy="464.2" r="2.5" fill="#32b47a"/><circle cx="96.6" cy="434.6" r="2.5" fill="#45327d"/><circle cx="135.7" cy="441.1" r="2.5" fill="#462f7c"/><circle cx="139.8" cy="430.8" r="2.5" fill="#482274"/><circle cx="121.5" cy="439.3" r="2.5" fill="#423d83"/><circle cx="147.4" cy="431.7" r="2.5" fill="#471e6f"/><circle cx="144.9" cy="417.6" r="2.5" fill="#450a5d"/><circle cx="140.9" cy="441.0" r="2.5" fill="#462f7b"/><circle cx="132.4" cy="434.1" r="2.5" fill="#461668"/><circle cx="133.4" cy="453.4" r="2.5" fill="#433981"/><circle cx="138.4" cy="445.0" r="2.5" fill="#471d6f"/><circle cx="135.0" cy="430.0" r="2.5" fill="#440255"/><circle cx="140.1" cy="435.8" r="2.5" fill="#461567"/><circle cx="121.7" cy="428.4" r="2.5" fill="#450b5e"/><circle cx="139.8" cy="448.7" r="2.5" fill="#46307c"/><circle cx="148.1" cy="435.5" r="2.5" fill="#461062"/><circle cx="124.2" cy="440.8" r="2.5" fill="#461768"/><circle cx="126.1" cy="452.3" r="2.5" fill="#39578b"/><circle cx="139.7" cy="425.6" r="2.5" fill="#47196b"/><circle cx="140.4" cy="426.8" r="2.5" fill="#471c6e"/><circle cx="129.8" cy="441.1" r="2.5" fill="#472072"/><circle cx="137.9" cy="433.1" r="2.5" fill="#482172"/><circle cx="83.9" cy="447.6" r="2.5" fill="#2a788e"/><circle cx="140.7" cy="429.1" r="2.5" fill="#440255"/><circle cx="146.1" cy="436.5" r="2.5" fill="#461668"/><circle cx="114.6" cy="448.3" r="2.5" fill="#306c8e"/><circle cx="138.9" cy="439.4" r="2.5" fill="#471d6e"/><circle cx="133.8" cy="436.8" r="2.5" fill="#472978"/><circle cx="159.7" cy="446.9" r="2.5" fill="#306c8e"/><circle cx="145.0" cy="424.3" r="2.5" fill="#450a5d"/><circle cx="140.0" cy="435.4" r="2.5" fill="#424286"/><circle cx="135.6" cy="443.0" r="2.5" fill="#462f7b"/><circle cx="99.4" cy="453.7" r="2.5" fill="#26848d"/><circle cx="127.0" cy="439.5" r="2.5" fill="#461567"/><circle cx="146.1" cy="429.6" r="2.5" fill="#461466"/><circle cx="143.6" cy="443.7" r="2.5" fill="#3b528a"/><circle cx="148.3" cy="434.8" r="2.5" fill="#482475"/><circle cx="134.7" cy="434.8" r="2.5" fill="#471a6c"/><circle cx="125.6" cy="422.3" r="2.5" fill="#440255"/><circle cx="133.1" cy="455.1" r="2.5" fill="#2a788e"/><circle cx="139.2" cy="415.7" r="2.5" fill="#482173"/><circle cx="144.5" cy="494.3" r="2.5" fill="#45327d"/><circle cx="141.4" cy="439.9" r="2.5" fill="#472978"/><circle cx="133.5" cy="438.1" r="2.5" fill="#450a5d"/><circle cx="154.9" cy="440.9" r="2.5" fill="#461365"/><circle cx="133.5" cy="428.5" r="2.5" fill="#471d6e"/><circle cx="121.4" cy="441.4" r="2.5" fill="#472877"/><circle cx="141.5" cy="426.4" r="2.5" fill="#461163"/><circle cx="125.0" cy="442.3" r="2.5" fill="#3b528a"/><circle cx="136.1" cy="441.6" r="2.5" fill="#472978"/><circle cx="125.6" cy="434.1" r="2.5" fill="#482676"/><circle cx="137.5" cy="437.8" r="2.5" fill="#450b5d"/><circle cx="139.0" cy="440.0" r="2.5" fill="#423e84"/><circle cx="138.4" cy="438.6" r="2.5" fill="#472b79"/><circle cx="149.7" cy="435.8" r="2.5" fill="#3f4888"/><circle cx="133.8" cy="429.7" r="2.5" fill="#450b5d"/><circle cx="165.4" cy="447.6" r="2.5" fill="#38598b"/><circle cx="111.2" cy="438.5" r="2.5" fill="#38598b"/><circle cx="139.1" cy="429.6" r="2.5" fill="#47196b"/><circle cx="141.8" cy="448.4" r="2.5" fill="#35608d"/><circle cx="152.9" cy="453.3" r="2.5" fill="#26848d"/><circle cx="136.2" cy="437.0" r="2.5" fill="#462e7b"/><circle cx="139.9" cy="436.7" r="2.5" fill="#461163"/><circle cx="138.7" cy="438.9" r="2.5" fill="#3c518a"/><circle cx="147.4" cy="444.2" r="2.5" fill="#35608d"/><circle cx="125.4" cy="427.2" r="2.5" fill="#450c5f"/><circle cx="128.6" cy="447.7" r="2.5" fill="#38588b"/><circle cx="127.7" cy="443.4" r="2.5" fill="#443780"/><circle cx="135.6" cy="432.8" r="2.5" fill="#450b5d"/><circle cx="139.2" cy="439.6" r="2.5" fill="#44357f"/><circle cx="150.3" cy="433.7" r="2.5" fill="#482777"/><circle cx="74.3" cy="456.0" r="2.5" fill="#21908c"/><circle cx="134.6" cy="430.5" r="2.5" fill="#440255"/><circle cx="127.6" cy="434.1" r="2.5" fill="#461365"/><circle cx="135.7" cy="435.3" r="2.5" fill="#472978"/><circle cx="128.3" cy="427.3" r="2.5" fill="#45327d"/><circle cx="125.8" cy="439.5" r="2.5" fill="#44357f"/><circle cx="146.2" cy="430.1" r="2.5" fill="#471c6e"/><circle cx="140.1" cy="442.0" r="2.5" fill="#472878"/><circle cx="135.6" cy="443.6" r="2.5" fill="#461164"/><circle cx="127.5" cy="431.4" r="2.5" fill="#461567"/><circle cx="146.7" cy="416.3" r="2.5" fill="#440255"/><circle cx="143.6" cy="422.2" r="2.5" fill="#461466"/><circle cx="141.3" cy="454.0" r="2.5" fill="#3f4988"/><circle cx="165.4" cy="419.1" r="2.5" fill="#482173"/><circle cx="149.4" cy="434.8" r="2.5" fill="#450c5f"/><circle cx="101.2" cy="464.0" r="2.5" fill="#229c88"/><circle cx="137.1" cy="430.5" r="2.5" fill="#45337e"/><circle cx="127.8" cy="478.4" r="2.5" fill="#229c88"/><circle cx="149.1" cy="435.9" r="2.5" fill="#471e6f"/><circle cx="135.0" cy="423.1" r="2.5" fill="#45085b"/><circle cx="107.4" cy="456.3" r="2.5" fill="#21908c"/><circle cx="138.7" cy="445.2" r="2.5" fill="#365d8c"/><circle cx="140.3" cy="420.8" r="2.5" fill="#440255"/><circle cx="140.2" cy="433.9" r="2.5" fill="#47186a"/><circle cx="142.7" cy="463.5" r="2.5" fill="#404587"/><circle cx="139.5" cy="441.3" r="2.5" fill="#44367f"/><circle cx="137.1" cy="435.7" r="2.5" fill="#47196a"/><circle cx="147.2" cy="419.9" r="2.5" fill="#440255"/><circle cx="120.4" cy="435.9" r="2.5" fill="#450d60"/></g>
<path d="M141.40 498.91V410.91" stroke="#000" stroke-width="1.07" stroke-dasharray="4.5 3.8" fill="none"/>
<path d="M74.78 453.29L165.88 435.52" stroke="#3d3d3d" stroke-width="1.75" fill="none"/>
<g font-size="9.1" fill="#000"><text x="50.40" y="479.41">r</text><text x="54.80" y="479.41">=</text><text x="62.00" y="479.41">0.22</text><text x="50.40" y="487.41">β</text><text x="58.30" y="487.41">=</text><text x="64.70" y="487.41">0.11</text><text x="50.40" y="496.71">α</text><text x="58.30" y="496.71">=</text><text x="64.70" y="496.71">0.69</text></g>
<rect x="47.50" y="410.91" width="155.00" height="88.00" fill="none" stroke="#555" stroke-width="1.1"/>
<rect x="47.50" y="390.91" width="155.00" height="20.00" fill="#D9D9D9" stroke="#555" stroke-width="1.1"/>
<path d="M47.50 411.71H202.50" stroke="#8a8a8a" stroke-width="1.2"/>
<text x="125.00" y="406.11" font-size="12.75" fill="#1A1A1A" text-anchor="middle">Cluster 13</text>
<text transform="translate(41.90 501.81) scale(1 1.08)" font-size="12.3" fill="#4D4D4D" text-anchor="end">0.00</text>
<text transform="translate(41.90 481.36) scale(1 1.08)" font-size="12.3" fill="#4D4D4D" text-anchor="end">0.25</text>
<text transform="translate(41.90 460.91) scale(1 1.08)" font-size="12.3" fill="#4D4D4D" text-anchor="end">0.50</text>
<text transform="translate(41.90 440.46) scale(1 1.08)" font-size="12.3" fill="#4D4D4D" text-anchor="end">0.75</text>
<text transform="translate(41.90 420.01) scale(1 1.08)" font-size="12.3" fill="#4D4D4D" text-anchor="end">1.00</text>
<path d="M44.30 497.21H47.50M44.30 476.76H47.50M44.30 456.31H47.50M44.30 435.86H47.50M44.30 415.41H47.50" stroke="#555" stroke-width="1.07"/>
<text transform="translate(50.10 512.6) scale(1 1.08)" font-size="12.3" fill="#4D4D4D" text-anchor="middle">−2</text>
<text transform="translate(95.75 512.6) scale(1 1.08)" font-size="12.3" fill="#4D4D4D" text-anchor="middle">−1</text>
<text transform="translate(141.40 512.6) scale(1 1.08)" font-size="12.3" fill="#4D4D4D" text-anchor="middle">0</text>
<text transform="translate(187.05 512.6) scale(1 1.08)" font-size="12.3" fill="#4D4D4D" text-anchor="middle">1</text>
<path d="M50.10 498.91V502.11M95.75 498.91V502.11M141.40 498.91V502.11M187.05 498.91V502.11" stroke="#555" stroke-width="1.07"/>
</g>
<g>
<rect x="208.25" y="410.91" width="155.00" height="88.00" fill="#fff"/>
<path d="M233.67 410.91V498.91M279.32 410.91V498.91M324.97 410.91V498.91M208.25 486.98H363.25M208.25 466.53H363.25M208.25 446.08H363.25M208.25 425.63H363.25" stroke="#EBEBEB" stroke-width="0.8" fill="none"/>
<path d="M210.85 410.91V498.91M256.50 410.91V498.91M302.15 410.91V498.91M347.80 410.91V498.91M208.25 497.21H363.25M208.25 476.76H363.25M208.25 456.31H363.25M208.25 435.86H363.25M208.25 415.41H363.25" stroke="#EBEBEB" stroke-width="1.6" fill="none"/>
<clipPath id="cp13"><rect x="208.25" y="410.91" width="155.00" height="88.00"/></clipPath>
<g fill-opacity="0.58" clip-path="url(#cp13)"><circle cx="322.3" cy="421.0" r="2.5" fill="#461264"/><circle cx="298.5" cy="427.5" r="2.5" fill="#461264"/><circle cx="253.5" cy="434.4" r="2.5" fill="#306c8e"/><circle cx="305.6" cy="429.3" r="2.5" fill="#482273"/><circle cx="307.9" cy="423.9" r="2.5" fill="#450b5d"/><circle cx="292.6" cy="455.5" r="2.5" fill="#3a548a"/><circle cx="341.2" cy="434.4" r="2.5" fill="#45327d"/><circle cx="306.1" cy="444.8" r="2.5" fill="#33658d"/><circle cx="319.6" cy="454.4" r="2.5" fill="#306c8e"/><circle cx="310.3" cy="425.3" r="2.5" fill="#440558"/><circle cx="276.3" cy="428.2" r="2.5" fill="#45327d"/><circle cx="275.9" cy="443.7" r="2.5" fill="#2a788e"/><circle cx="301.7" cy="446.6" r="2.5" fill="#355f8d"/><circle cx="291.2" cy="451.8" r="2.5" fill="#306c8d"/><circle cx="310.8" cy="444.7" r="2.5" fill="#3c5089"/><circle cx="283.9" cy="439.2" r="2.5" fill="#482273"/><circle cx="301.3" cy="429.1" r="2.5" fill="#450c5e"/><circle cx="297.5" cy="428.2" r="2.5" fill="#471b6c"/><circle cx="304.2" cy="424.5" r="2.5" fill="#440255"/><circle cx="282.0" cy="436.8" r="2.5" fill="#472b79"/><circle cx="296.4" cy="424.8" r="2.5" fill="#440255"/><circle cx="315.1" cy="417.0" r="2.5" fill="#461365"/><circle cx="312.2" cy="419.7" r="2.5" fill="#440255"/><circle cx="303.7" cy="431.4" r="2.5" fill="#450659"/><circle cx="310.5" cy="427.5" r="2.5" fill="#450b5d"/><circle cx="293.7" cy="429.2" r="2.5" fill="#450e60"/><circle cx="281.4" cy="449.0" r="2.5" fill="#306c8d"/><circle cx="291.5" cy="423.2" r="2.5" fill="#440255"/><circle cx="294.9" cy="442.3" r="2.5" fill="#443981"/><circle cx="279.1" cy="429.4" r="2.5" fill="#45327d"/><circle cx="323.9" cy="425.3" r="2.5" fill="#471b6c"/><circle cx="305.9" cy="425.1" r="2.5" fill="#440255"/><circle cx="295.4" cy="448.8" r="2.5" fill="#375a8c"/><circle cx="294.6" cy="437.1" r="2.5" fill="#461062"/><circle cx="320.8" cy="431.8" r="2.5" fill="#461264"/><circle cx="290.8" cy="423.9" r="2.5" fill="#461668"/><circle cx="331.0" cy="420.9" r="2.5" fill="#45327d"/><circle cx="293.3" cy="419.8" r="2.5" fill="#440356"/><circle cx="284.0" cy="435.6" r="2.5" fill="#482475"/><circle cx="304.4" cy="432.5" r="2.5" fill="#482172"/><circle cx="321.5" cy="439.1" r="2.5" fill="#461466"/><circle cx="309.8" cy="418.5" r="2.5" fill="#440255"/><circle cx="303.9" cy="420.1" r="2.5" fill="#450658"/><circle cx="282.7" cy="446.5" r="2.5" fill="#2a788e"/><circle cx="303.9" cy="419.4" r="2.5" fill="#440255"/><circle cx="312.1" cy="420.4" r="2.5" fill="#440457"/><circle cx="287.7" cy="425.3" r="2.5" fill="#471c6d"/><circle cx="309.9" cy="433.8" r="2.5" fill="#440255"/><circle cx="312.3" cy="426.8" r="2.5" fill="#450658"/><circle cx="306.8" cy="438.0" r="2.5" fill="#47196b"/><circle cx="251.7" cy="432.1" r="2.5" fill="#404587"/><circle cx="305.0" cy="419.6" r="2.5" fill="#440255"/><circle cx="308.3" cy="445.5" r="2.5" fill="#482273"/><circle cx="297.8" cy="432.1" r="2.5" fill="#471f70"/><circle cx="299.7" cy="426.0" r="2.5" fill="#433a82"/><circle cx="305.0" cy="419.3" r="2.5" fill="#440255"/><circle cx="306.6" cy="451.3" r="2.5" fill="#32678d"/><circle cx="301.2" cy="429.6" r="2.5" fill="#461466"/><circle cx="319.6" cy="439.8" r="2.5" fill="#461668"/><circle cx="317.5" cy="427.7" r="2.5" fill="#471f71"/><circle cx="314.4" cy="427.2" r="2.5" fill="#450b5d"/><circle cx="311.8" cy="426.9" r="2.5" fill="#471a6c"/><circle cx="296.7" cy="442.1" r="2.5" fill="#45317d"/><circle cx="293.8" cy="440.1" r="2.5" fill="#45337d"/><circle cx="293.0" cy="444.7" r="2.5" fill="#424185"/><circle cx="297.7" cy="428.1" r="2.5" fill="#462f7b"/><circle cx="277.7" cy="450.8" r="2.5" fill="#2e6f8e"/><circle cx="292.8" cy="435.8" r="2.5" fill="#460f61"/><circle cx="291.8" cy="430.3" r="2.5" fill="#450659"/><circle cx="297.1" cy="445.2" r="2.5" fill="#375c8c"/><circle cx="312.8" cy="431.7" r="2.5" fill="#440255"/><circle cx="299.2" cy="432.6" r="2.5" fill="#440255"/><circle cx="296.3" cy="445.4" r="2.5" fill="#365d8c"/><circle cx="315.1" cy="442.5" r="2.5" fill="#32678d"/><circle cx="293.1" cy="426.4" r="2.5" fill="#440255"/><circle cx="320.0" cy="437.0" r="2.5" fill="#461062"/><circle cx="316.5" cy="419.2" r="2.5" fill="#450b5d"/><circle cx="291.8" cy="413.4" r="2.5" fill="#440255"/><circle cx="289.7" cy="429.7" r="2.5" fill="#471b6c"/><circle cx="310.6" cy="437.2" r="2.5" fill="#482676"/><circle cx="296.1" cy="449.3" r="2.5" fill="#2b768e"/><circle cx="305.8" cy="419.4" r="2.5" fill="#440255"/><circle cx="303.8" cy="432.7" r="2.5" fill="#461163"/><circle cx="286.7" cy="445.5" r="2.5" fill="#45347e"/><circle cx="286.8" cy="417.3" r="2.5" fill="#440255"/><circle cx="285.3" cy="419.8" r="2.5" fill="#450b5e"/><circle cx="278.6" cy="454.4" r="2.5" fill="#22a884"/><circle cx="305.1" cy="447.5" r="2.5" fill="#3b518a"/><circle cx="309.0" cy="427.0" r="2.5" fill="#461365"/><circle cx="302.9" cy="426.3" r="2.5" fill="#440356"/><circle cx="302.2" cy="425.9" r="2.5" fill="#461163"/><circle cx="310.9" cy="427.1" r="2.5" fill="#440355"/><circle cx="297.2" cy="419.5" r="2.5" fill="#471c6d"/><circle cx="283.2" cy="438.7" r="2.5" fill="#47186a"/><circle cx="321.3" cy="427.3" r="2.5" fill="#45075a"/><circle cx="280.4" cy="421.4" r="2.5" fill="#45327d"/><circle cx="300.4" cy="434.4" r="2.5" fill="#461668"/><circle cx="286.4" cy="434.5" r="2.5" fill="#462c7a"/><circle cx="301.9" cy="435.8" r="2.5" fill="#47196b"/><circle cx="287.7" cy="429.8" r="2.5" fill="#45075a"/><circle cx="286.8" cy="428.4" r="2.5" fill="#440255"/><circle cx="306.5" cy="447.2" r="2.5" fill="#472978"/><circle cx="305.4" cy="432.7" r="2.5" fill="#45075a"/><circle cx="287.9" cy="450.7" r="2.5" fill="#3b528a"/><circle cx="316.8" cy="427.0" r="2.5" fill="#450e60"/><circle cx="304.9" cy="424.4" r="2.5" fill="#45075a"/><circle cx="280.9" cy="442.9" r="2.5" fill="#443880"/><circle cx="317.8" cy="432.0" r="2.5" fill="#450d60"/><circle cx="251.3" cy="448.7" r="2.5" fill="#22a884"/><circle cx="295.8" cy="444.0" r="2.5" fill="#462f7b"/><circle cx="263.1" cy="432.8" r="2.5" fill="#404587"/><circle cx="332.8" cy="442.6" r="2.5" fill="#38598b"/><circle cx="318.9" cy="434.5" r="2.5" fill="#450e61"/><circle cx="317.3" cy="446.2" r="2.5" fill="#3d4c89"/><circle cx="320.7" cy="420.9" r="2.5" fill="#440558"/><circle cx="316.9" cy="446.9" r="2.5" fill="#2d718e"/><circle cx="292.3" cy="431.4" r="2.5" fill="#460f62"/><circle cx="309.7" cy="418.9" r="2.5" fill="#440255"/><circle cx="300.8" cy="444.5" r="2.5" fill="#482274"/><circle cx="282.1" cy="448.6" r="2.5" fill="#3b538a"/><circle cx="304.4" cy="427.9" r="2.5" fill="#482576"/><circle cx="306.3" cy="444.5" r="2.5" fill="#3a558b"/><circle cx="311.2" cy="435.4" r="2.5" fill="#461466"/><circle cx="317.7" cy="420.0" r="2.5" fill="#440255"/><circle cx="279.7" cy="448.4" r="2.5" fill="#3c4f89"/><circle cx="299.9" cy="454.1" r="2.5" fill="#3a558b"/><circle cx="320.8" cy="417.0" r="2.5" fill="#440255"/><circle cx="298.4" cy="423.9" r="2.5" fill="#45095c"/><circle cx="299.8" cy="430.5" r="2.5" fill="#440255"/><circle cx="326.3" cy="430.4" r="2.5" fill="#45095c"/><circle cx="271.8" cy="432.8" r="2.5" fill="#404587"/><circle cx="298.5" cy="423.8" r="2.5" fill="#440356"/><circle cx="313.2" cy="438.5" r="2.5" fill="#461466"/><circle cx="297.3" cy="449.0" r="2.5" fill="#423e84"/><circle cx="316.9" cy="437.4" r="2.5" fill="#47186a"/><circle cx="303.9" cy="433.2" r="2.5" fill="#461264"/><circle cx="296.7" cy="438.6" r="2.5" fill="#462d7a"/><circle cx="304.0" cy="431.1" r="2.5" fill="#45327d"/><circle cx="301.2" cy="418.0" r="2.5" fill="#440255"/><circle cx="309.5" cy="443.9" r="2.5" fill="#375b8c"/><circle cx="292.2" cy="443.9" r="2.5" fill="#3e4a88"/><circle cx="307.8" cy="416.2" r="2.5" fill="#440255"/><circle cx="322.1" cy="421.0" r="2.5" fill="#440255"/><circle cx="306.9" cy="413.1" r="2.5" fill="#440255"/><circle cx="296.0" cy="437.4" r="2.5" fill="#471e6f"/><circle cx="300.9" cy="440.3" r="2.5" fill="#443981"/><circle cx="297.4" cy="438.4" r="2.5" fill="#482475"/><circle cx="295.0" cy="444.3" r="2.5" fill="#3c4f89"/><circle cx="310.9" cy="421.4" r="2.5" fill="#461466"/><circle cx="300.8" cy="430.7" r="2.5" fill="#471e6f"/><circle cx="292.9" cy="435.1" r="2.5" fill="#482374"/><circle cx="294.8" cy="423.5" r="2.5" fill="#440558"/><circle cx="298.8" cy="437.5" r="2.5" fill="#443880"/><circle cx="305.2" cy="415.3" r="2.5" fill="#440255"/><circle cx="302.2" cy="421.4" r="2.5" fill="#440255"/><circle cx="304.9" cy="430.4" r="2.5" fill="#45075a"/><circle cx="326.2" cy="445.8" r="2.5" fill="#404788"/><circle cx="301.0" cy="431.1" r="2.5" fill="#45347e"/><circle cx="313.4" cy="436.1" r="2.5" fill="#471f70"/><circle cx="298.0" cy="452.9" r="2.5" fill="#423f84"/><circle cx="305.8" cy="436.0" r="2.5" fill="#471a6c"/><circle cx="307.7" cy="443.9" r="2.5" fill="#433a81"/><circle cx="294.4" cy="421.4" r="2.5" fill="#45095c"/><circle cx="289.8" cy="444.6" r="2.5" fill="#45075a"/><circle cx="298.1" cy="432.6" r="2.5" fill="#472c7a"/><circle cx="308.0" cy="419.3" r="2.5" fill="#450c5f"/><circle cx="303.1" cy="426.4" r="2.5" fill="#471b6d"/><circle cx="296.7" cy="435.8" r="2.5" fill="#443880"/><circle cx="315.2" cy="425.3" r="2.5" fill="#460f61"/><circle cx="306.6" cy="440.7" r="2.5" fill="#3b528a"/><circle cx="322.3" cy="441.8" r="2.5" fill="#472a79"/><circle cx="308.8" cy="426.8" r="2.5" fill="#472071"/><circle cx="315.0" cy="453.3" r="2.5" fill="#306c8e"/><circle cx="307.3" cy="445.7" r="2.5" fill="#33658d"/><circle cx="277.5" cy="448.8" r="2.5" fill="#2f6d8e"/><circle cx="297.5" cy="423.0" r="2.5" fill="#450d60"/><circle cx="316.1" cy="441.4" r="2.5" fill="#462d7a"/><circle cx="304.4" cy="437.4" r="2.5" fill="#482374"/><circle cx="315.1" cy="425.3" r="2.5" fill="#472877"/><circle cx="246.3" cy="456.3" r="2.5" fill="#22a884"/><circle cx="306.7" cy="435.8" r="2.5" fill="#482576"/><circle cx="295.8" cy="434.1" r="2.5" fill="#472071"/><circle cx="313.1" cy="438.8" r="2.5" fill="#450d5f"/><circle cx="323.4" cy="443.6" r="2.5" fill="#2c758e"/><circle cx="288.0" cy="449.6" r="2.5" fill="#3e4a88"/><circle cx="310.1" cy="431.2" r="2.5" fill="#461466"/><circle cx="298.9" cy="425.7" r="2.5" fill="#450d5f"/><circle cx="297.9" cy="424.7" r="2.5" fill="#471b6c"/><circle cx="305.1" cy="436.6" r="2.5" fill="#47196a"/><circle cx="302.1" cy="448.0" r="2.5" fill="#2d728e"/><circle cx="301.7" cy="429.2" r="2.5" fill="#461062"/><circle cx="301.9" cy="434.8" r="2.5" fill="#440456"/><circle cx="313.9" cy="431.4" r="2.5" fill="#471a6b"/><circle cx="308.9" cy="448.6" r="2.5" fill="#3c4f89"/><circle cx="287.1" cy="427.9" r="2.5" fill="#450659"/><circle cx="274.8" cy="443.1" r="2.5" fill="#482475"/><circle cx="300.1" cy="423.2" r="2.5" fill="#45095c"/><circle cx="282.0" cy="442.4" r="2.5" fill="#3d4d89"/><circle cx="306.3" cy="435.6" r="2.5" fill="#461264"/><circle cx="297.6" cy="420.2" r="2.5" fill="#440255"/><circle cx="310.4" cy="449.5" r="2.5" fill="#39578b"/><circle cx="316.4" cy="413.2" r="2.5" fill="#440255"/><circle cx="304.0" cy="448.4" r="2.5" fill="#414487"/><circle cx="300.9" cy="423.6" r="2.5" fill="#440255"/><circle cx="284.6" cy="440.6" r="2.5" fill="#461365"/><circle cx="291.9" cy="420.6" r="2.5" fill="#450658"/><circle cx="295.9" cy="416.8" r="2.5" fill="#440255"/><circle cx="305.4" cy="430.3" r="2.5" fill="#471d6e"/><circle cx="274.5" cy="432.8" r="2.5" fill="#38598b"/><circle cx="264.9" cy="440.8" r="2.5" fill="#306c8e"/><circle cx="318.6" cy="423.0" r="2.5" fill="#440558"/><circle cx="297.0" cy="430.4" r="2.5" fill="#461163"/><circle cx="312.2" cy="427.2" r="2.5" fill="#461264"/><circle cx="307.0" cy="432.4" r="2.5" fill="#482273"/><circle cx="315.8" cy="429.5" r="2.5" fill="#47186a"/><circle cx="321.0" cy="416.7" r="2.5" fill="#440255"/><circle cx="318.6" cy="424.8" r="2.5" fill="#450a5c"/><circle cx="303.2" cy="463.1" r="2.5" fill="#2a788e"/><circle cx="291.0" cy="423.1" r="2.5" fill="#440255"/><circle cx="298.7" cy="428.5" r="2.5" fill="#472b79"/><circle cx="286.6" cy="454.4" r="2.5" fill="#306c8e"/><circle cx="303.6" cy="420.2" r="2.5" fill="#47196a"/><circle cx="303.7" cy="425.1" r="2.5" fill="#461567"/><circle cx="294.1" cy="440.9" r="2.5" fill="#482475"/><circle cx="267.7" cy="438.5" r="2.5" fill="#306c8e"/><circle cx="284.7" cy="443.1" r="2.5" fill="#3e4b89"/><circle cx="309.7" cy="442.3" r="2.5" fill="#462d7a"/><circle cx="291.2" cy="452.3" r="2.5" fill="#35618d"/><circle cx="317.1" cy="442.5" r="2.5" fill="#450b5e"/><circle cx="295.3" cy="419.6" r="2.5" fill="#440457"/><circle cx="288.4" cy="451.3" r="2.5" fill="#2a798e"/><circle cx="291.0" cy="423.9" r="2.5" fill="#45095b"/><circle cx="304.3" cy="422.2" r="2.5" fill="#440255"/><circle cx="301.4" cy="433.0" r="2.5" fill="#461567"/><circle cx="307.9" cy="438.4" r="2.5" fill="#461567"/><circle cx="305.6" cy="416.8" r="2.5" fill="#440255"/><circle cx="317.7" cy="426.6" r="2.5" fill="#450d5f"/><circle cx="303.0" cy="428.2" r="2.5" fill="#45095c"/><circle cx="299.7" cy="445.0" r="2.5" fill="#3b528a"/><circle cx="320.0" cy="429.4" r="2.5" fill="#450a5c"/><circle cx="300.2" cy="421.1" r="2.5" fill="#450658"/><circle cx="312.8" cy="434.2" r="2.5" fill="#471a6c"/><circle cx="321.1" cy="418.7" r="2.5" fill="#450b5e"/><circle cx="318.2" cy="418.8" r="2.5" fill="#450a5d"/><circle cx="304.4" cy="442.5" r="2.5" fill="#450a5c"/><circle cx="336.7" cy="438.5" r="2.5" fill="#404587"/><circle cx="305.4" cy="427.6" r="2.5" fill="#472071"/><circle cx="298.5" cy="446.7" r="2.5" fill="#38598c"/><circle cx="316.9" cy="435.9" r="2.5" fill="#450b5e"/><circle cx="281.2" cy="425.6" r="2.5" fill="#450b5d"/><circle cx="300.7" cy="427.8" r="2.5" fill="#440558"/><circle cx="290.2" cy="433.0" r="2.5" fill="#482172"/><circle cx="302.7" cy="427.1" r="2.5" fill="#45075a"/><circle cx="255.8" cy="439.2" r="2.5" fill="#306c8e"/><circle cx="292.7" cy="464.0" r="2.5" fill="#2a788e"/><circle cx="308.7" cy="443.5" r="2.5" fill="#471c6e"/><circle cx="290.0" cy="444.1" r="2.5" fill="#443981"/><circle cx="294.2" cy="416.8" r="2.5" fill="#440255"/><circle cx="302.1" cy="441.8" r="2.5" fill="#472a79"/><circle cx="307.5" cy="458.3" r="2.5" fill="#38598b"/><circle cx="294.2" cy="441.1" r="2.5" fill="#3f4988"/><circle cx="289.6" cy="423.0" r="2.5" fill="#440255"/><circle cx="311.1" cy="439.9" r="2.5" fill="#471a6c"/><circle cx="289.4" cy="430.3" r="2.5" fill="#450b5d"/><circle cx="316.7" cy="433.7" r="2.5" fill="#450659"/><circle cx="288.2" cy="438.4" r="2.5" fill="#462f7c"/><circle cx="313.2" cy="444.8" r="2.5" fill="#414387"/><circle cx="284.7" cy="441.5" r="2.5" fill="#471e6f"/><circle cx="317.7" cy="435.3" r="2.5" fill="#440457"/><circle cx="315.5" cy="422.6" r="2.5" fill="#47186a"/><circle cx="286.6" cy="427.1" r="2.5" fill="#440558"/><circle cx="298.0" cy="423.0" r="2.5" fill="#440255"/><circle cx="301.3" cy="412.2" r="2.5" fill="#440255"/><circle cx="229.0" cy="443.7" r="2.5" fill="#2a788e"/><circle cx="310.9" cy="454.4" r="2.5" fill="#229c88"/><circle cx="303.0" cy="438.7" r="2.5" fill="#461567"/><circle cx="303.1" cy="423.1" r="2.5" fill="#440558"/><circle cx="306.0" cy="440.1" r="2.5" fill="#462e7b"/><circle cx="337.8" cy="430.5" r="2.5" fill="#45327d"/><circle cx="249.0" cy="440.3" r="2.5" fill="#2a788e"/><circle cx="319.7" cy="421.8" r="2.5" fill="#440255"/><circle cx="302.8" cy="437.8" r="2.5" fill="#471f70"/><circle cx="286.7" cy="437.6" r="2.5" fill="#450b5e"/><circle cx="307.2" cy="446.9" r="2.5" fill="#365e8c"/><circle cx="295.9" cy="422.3" r="2.5" fill="#45085b"/><circle cx="307.2" cy="422.6" r="2.5" fill="#440457"/><circle cx="294.9" cy="428.4" r="2.5" fill="#472978"/><circle cx="299.0" cy="446.0" r="2.5" fill="#45347e"/><circle cx="328.2" cy="448.7" r="2.5" fill="#365e8d"/><circle cx="258.6" cy="427.1" r="2.5" fill="#45327d"/><circle cx="285.2" cy="423.8" r="2.5" fill="#47186a"/></g>
<path d="M302.15 498.91V410.91" stroke="#000" stroke-width="1.07" stroke-dasharray="4.5 3.8" fill="none"/>
<path d="M229.18 440.76L340.09 432.33" stroke="#3d3d3d" stroke-width="1.75" fill="none"/>
<g font-size="9.1" fill="#000"><text x="211.15" y="479.41">r</text><text x="215.55" y="479.41">=</text><text x="222.75" y="479.41">0.12</text><text x="211.15" y="487.41">β</text><text x="219.05" y="487.41">=</text><text x="225.45" y="487.41">0.042</text><text x="211.15" y="496.71">α</text><text x="219.05" y="496.71">=</text><text x="225.45" y="496.71">0.75</text></g>
<rect x="208.25" y="410.91" width="155.00" height="88.00" fill="none" stroke="#555" stroke-width="1.1"/>
<rect x="208.25" y="390.91" width="155.00" height="20.00" fill="#D9D9D9" stroke="#555" stroke-width="1.1"/>
<path d="M208.25 411.71H363.25" stroke="#8a8a8a" stroke-width="1.2"/>
<text x="285.75" y="406.11" font-size="12.75" fill="#1A1A1A" text-anchor="middle">Cluster 14</text>
<text transform="translate(210.85 512.6) scale(1 1.08)" font-size="12.3" fill="#4D4D4D" text-anchor="middle">−2</text>
<text transform="translate(256.50 512.6) scale(1 1.08)" font-size="12.3" fill="#4D4D4D" text-anchor="middle">−1</text>
<text transform="translate(302.15 512.6) scale(1 1.08)" font-size="12.3" fill="#4D4D4D" text-anchor="middle">0</text>
<text transform="translate(347.80 512.6) scale(1 1.08)" font-size="12.3" fill="#4D4D4D" text-anchor="middle">1</text>
<path d="M210.85 498.91V502.11M256.50 498.91V502.11M302.15 498.91V502.11M347.80 498.91V502.11" stroke="#555" stroke-width="1.07"/>
</g>
<g>
<rect x="369.00" y="410.91" width="155.00" height="88.00" fill="#fff"/>
<path d="M394.42 410.91V498.91M440.07 410.91V498.91M485.72 410.91V498.91M369.00 486.98H524.00M369.00 466.53H524.00M369.00 446.08H524.00M369.00 425.63H524.00" stroke="#EBEBEB" stroke-width="0.8" fill="none"/>
<path d="M371.60 410.91V498.91M417.25 410.91V498.91M462.90 410.91V498.91M508.55 410.91V498.91M369.00 497.21H524.00M369.00 476.76H524.00M369.00 456.31H524.00M369.00 435.86H524.00M369.00 415.41H524.00" stroke="#EBEBEB" stroke-width="1.6" fill="none"/>
<clipPath id="cp14"><rect x="369.00" y="410.91" width="155.00" height="88.00"/></clipPath>
<g fill-opacity="0.58" clip-path="url(#cp14)"><circle cx="487.9" cy="451.0" r="2.5" fill="#21908c"/><circle cx="493.1" cy="451.5" r="2.5" fill="#26848d"/><circle cx="460.1" cy="446.0" r="2.5" fill="#21908c"/><circle cx="436.9" cy="444.6" r="2.5" fill="#26848d"/><circle cx="479.5" cy="439.2" r="2.5" fill="#38598b"/><circle cx="494.3" cy="439.6" r="2.5" fill="#306c8e"/><circle cx="491.5" cy="444.2" r="2.5" fill="#26848d"/><circle cx="464.7" cy="442.4" r="2.5" fill="#2a788e"/><circle cx="466.9" cy="440.8" r="2.5" fill="#26848d"/><circle cx="460.6" cy="453.3" r="2.5" fill="#32b47a"/><circle cx="472.6" cy="447.6" r="2.5" fill="#229c88"/><circle cx="430.5" cy="449.2" r="2.5" fill="#7ad151"/><circle cx="451.0" cy="454.4" r="2.5" fill="#22a884"/><circle cx="493.8" cy="416.8" r="2.5" fill="#482173"/><circle cx="502.9" cy="440.3" r="2.5" fill="#306c8e"/><circle cx="511.3" cy="440.3" r="2.5" fill="#2a788e"/><circle cx="443.0" cy="449.9" r="2.5" fill="#43bf71"/><circle cx="438.5" cy="456.3" r="2.5" fill="#5ec861"/><circle cx="459.6" cy="432.1" r="2.5" fill="#45327d"/><circle cx="447.6" cy="449.9" r="2.5" fill="#9ad83c"/><circle cx="492.0" cy="433.9" r="2.5" fill="#38598b"/><circle cx="517.0" cy="434.6" r="2.5" fill="#404587"/><circle cx="510.7" cy="451.7" r="2.5" fill="#26848d"/><circle cx="494.3" cy="446.0" r="2.5" fill="#229c88"/><circle cx="499.9" cy="433.5" r="2.5" fill="#38598b"/><circle cx="498.4" cy="429.4" r="2.5" fill="#404587"/><circle cx="462.4" cy="435.5" r="2.5" fill="#404587"/><circle cx="455.1" cy="439.6" r="2.5" fill="#38598b"/><circle cx="444.2" cy="452.8" r="2.5" fill="#21908c"/><circle cx="466.5" cy="453.3" r="2.5" fill="#9ad83c"/><circle cx="423.2" cy="428.2" r="2.5" fill="#45327d"/><circle cx="476.0" cy="449.9" r="2.5" fill="#21908c"/><circle cx="505.6" cy="447.6" r="2.5" fill="#21908c"/><circle cx="484.0" cy="450.6" r="2.5" fill="#21908c"/><circle cx="507.5" cy="440.3" r="2.5" fill="#2a788e"/><circle cx="462.8" cy="445.3" r="2.5" fill="#26848d"/><circle cx="476.5" cy="446.0" r="2.5" fill="#22a884"/><circle cx="465.3" cy="456.7" r="2.5" fill="#5ec861"/><circle cx="487.4" cy="439.2" r="2.5" fill="#38598b"/><circle cx="476.0" cy="439.6" r="2.5" fill="#306c8e"/><circle cx="489.7" cy="451.7" r="2.5" fill="#22a884"/><circle cx="447.6" cy="441.4" r="2.5" fill="#26848d"/><circle cx="478.3" cy="461.9" r="2.5" fill="#7ad151"/><circle cx="453.3" cy="448.3" r="2.5" fill="#22a884"/><circle cx="480.6" cy="450.6" r="2.5" fill="#229c88"/><circle cx="441.4" cy="451.7" r="2.5" fill="#22a884"/><circle cx="474.4" cy="429.4" r="2.5" fill="#404587"/><circle cx="479.0" cy="429.4" r="2.5" fill="#404587"/><circle cx="469.2" cy="444.2" r="2.5" fill="#21908c"/><circle cx="490.8" cy="456.7" r="2.5" fill="#dce326"/><circle cx="477.9" cy="447.6" r="2.5" fill="#229c88"/><circle cx="474.9" cy="436.9" r="2.5" fill="#38598b"/><circle cx="474.9" cy="452.2" r="2.5" fill="#229c88"/><circle cx="473.3" cy="441.9" r="2.5" fill="#21908c"/><circle cx="449.2" cy="455.1" r="2.5" fill="#229c88"/><circle cx="509.1" cy="448.7" r="2.5" fill="#38598b"/><circle cx="482.4" cy="439.2" r="2.5" fill="#2a788e"/><circle cx="488.6" cy="441.9" r="2.5" fill="#2a788e"/><circle cx="512.9" cy="433.2" r="2.5" fill="#404587"/><circle cx="470.3" cy="439.6" r="2.5" fill="#2a788e"/><circle cx="427.8" cy="451.7" r="2.5" fill="#43bf71"/><circle cx="456.7" cy="452.8" r="2.5" fill="#32b47a"/><circle cx="455.5" cy="455.1" r="2.5" fill="#7ad151"/><circle cx="406.6" cy="454.0" r="2.5" fill="#7ad151"/></g>
<path d="M462.90 498.91V410.91" stroke="#000" stroke-width="1.07" stroke-dasharray="4.5 3.8" fill="none"/>
<path d="M407.03 452.15L517.03 440.30" stroke="#3d3d3d" stroke-width="1.75" fill="none"/>
<g font-size="9.1" fill="#000"><text x="371.90" y="479.41">r</text><text x="376.30" y="479.41">=</text><text x="383.50" y="479.41">0.29</text><text x="371.90" y="487.41">β</text><text x="379.80" y="487.41">=</text><text x="386.20" y="487.41">0.059</text><text x="371.90" y="496.71">α</text><text x="379.80" y="496.71">=</text><text x="386.20" y="496.71">0.62</text></g>
<rect x="369.00" y="410.91" width="155.00" height="88.00" fill="none" stroke="#555" stroke-width="1.1"/>
<rect x="369.00" y="390.91" width="155.00" height="20.00" fill="#D9D9D9" stroke="#555" stroke-width="1.1"/>
<path d="M369.00 411.71H524.00" stroke="#8a8a8a" stroke-width="1.2"/>
<text x="446.50" y="406.11" font-size="12.75" fill="#1A1A1A" text-anchor="middle">Cluster 15</text>
<text transform="translate(371.60 512.6) scale(1 1.08)" font-size="12.3" fill="#4D4D4D" text-anchor="middle">−2</text>
<text transform="translate(417.25 512.6) scale(1 1.08)" font-size="12.3" fill="#4D4D4D" text-anchor="middle">−1</text>
<text transform="translate(462.90 512.6) scale(1 1.08)" font-size="12.3" fill="#4D4D4D" text-anchor="middle">0</text>
<text transform="translate(508.55 512.6) scale(1 1.08)" font-size="12.3" fill="#4D4D4D" text-anchor="middle">1</text>
<path d="M371.60 498.91V502.11M417.25 498.91V502.11M462.90 498.91V502.11M508.55 498.91V502.11" stroke="#555" stroke-width="1.07"/>
</g>
<g>
<rect x="529.75" y="410.91" width="155.00" height="88.00" fill="#fff"/>
<path d="M555.17 410.91V498.91M600.82 410.91V498.91M646.48 410.91V498.91M529.75 486.98H684.75M529.75 466.53H684.75M529.75 446.08H684.75M529.75 425.63H684.75" stroke="#EBEBEB" stroke-width="0.8" fill="none"/>
<path d="M532.35 410.91V498.91M578.00 410.91V498.91M623.65 410.91V498.91M669.30 410.91V498.91M529.75 497.21H684.75M529.75 476.76H684.75M529.75 456.31H684.75M529.75 435.86H684.75M529.75 415.41H684.75" stroke="#EBEBEB" stroke-width="1.6" fill="none"/>
<clipPath id="cp15"><rect x="529.75" y="410.91" width="155.00" height="88.00"/></clipPath>
<g fill-opacity="0.58" clip-path="url(#cp15)"><circle cx="642.7" cy="422.8" r="2.5" fill="#440255"/><circle cx="633.1" cy="425.9" r="2.5" fill="#461062"/><circle cx="629.0" cy="428.9" r="2.5" fill="#471a6b"/><circle cx="612.2" cy="428.6" r="2.5" fill="#440457"/><circle cx="610.9" cy="428.7" r="2.5" fill="#461769"/><circle cx="661.8" cy="430.1" r="2.5" fill="#45327d"/><circle cx="652.5" cy="439.4" r="2.5" fill="#45307c"/><circle cx="661.2" cy="432.8" r="2.5" fill="#472b79"/><circle cx="637.9" cy="447.5" r="2.5" fill="#443780"/><circle cx="641.6" cy="421.1" r="2.5" fill="#440255"/><circle cx="630.2" cy="428.1" r="2.5" fill="#450659"/><circle cx="611.0" cy="452.4" r="2.5" fill="#24888d"/><circle cx="600.5" cy="453.2" r="2.5" fill="#27818d"/><circle cx="636.0" cy="436.0" r="2.5" fill="#472a79"/><circle cx="633.9" cy="421.9" r="2.5" fill="#45075a"/><circle cx="634.1" cy="454.2" r="2.5" fill="#2a778e"/><circle cx="643.8" cy="414.3" r="2.5" fill="#440255"/><circle cx="621.7" cy="427.9" r="2.5" fill="#460f61"/><circle cx="621.5" cy="430.5" r="2.5" fill="#450759"/><circle cx="650.5" cy="457.5" r="2.5" fill="#219889"/><circle cx="657.7" cy="422.5" r="2.5" fill="#45327d"/><circle cx="623.2" cy="430.9" r="2.5" fill="#461163"/><circle cx="631.5" cy="433.5" r="2.5" fill="#47196a"/><circle cx="605.8" cy="441.5" r="2.5" fill="#39588b"/><circle cx="587.8" cy="455.6" r="2.5" fill="#bbdf27"/><circle cx="642.2" cy="416.0" r="2.5" fill="#440255"/><circle cx="611.2" cy="429.2" r="2.5" fill="#461365"/><circle cx="642.0" cy="436.2" r="2.5" fill="#462c7a"/><circle cx="630.2" cy="436.1" r="2.5" fill="#471b6c"/><circle cx="644.6" cy="438.6" r="2.5" fill="#472978"/><circle cx="620.4" cy="442.7" r="2.5" fill="#45317d"/><circle cx="641.6" cy="435.8" r="2.5" fill="#450d5f"/><circle cx="636.6" cy="426.7" r="2.5" fill="#440255"/><circle cx="632.8" cy="452.2" r="2.5" fill="#24888d"/><circle cx="639.6" cy="428.7" r="2.5" fill="#482172"/><circle cx="616.0" cy="421.7" r="2.5" fill="#472a79"/><circle cx="614.5" cy="456.6" r="2.5" fill="#238a8c"/><circle cx="619.8" cy="448.5" r="2.5" fill="#2c738e"/><circle cx="633.8" cy="457.9" r="2.5" fill="#21938b"/><circle cx="645.8" cy="420.9" r="2.5" fill="#461769"/><circle cx="646.4" cy="455.1" r="2.5" fill="#24888d"/><circle cx="650.1" cy="431.0" r="2.5" fill="#471d6e"/><circle cx="616.5" cy="447.5" r="2.5" fill="#228d8c"/><circle cx="630.7" cy="427.3" r="2.5" fill="#460f61"/><circle cx="620.6" cy="453.6" r="2.5" fill="#238a8d"/><circle cx="642.2" cy="451.1" r="2.5" fill="#277f8d"/><circle cx="640.2" cy="452.3" r="2.5" fill="#21958a"/><circle cx="643.2" cy="425.5" r="2.5" fill="#440255"/><circle cx="651.8" cy="433.2" r="2.5" fill="#44367f"/><circle cx="609.4" cy="436.3" r="2.5" fill="#471f71"/><circle cx="618.3" cy="447.0" r="2.5" fill="#24878d"/><circle cx="622.0" cy="423.2" r="2.5" fill="#450e60"/><circle cx="628.1" cy="443.4" r="2.5" fill="#433d83"/><circle cx="635.9" cy="423.8" r="2.5" fill="#450a5c"/><circle cx="629.5" cy="425.3" r="2.5" fill="#471a6c"/><circle cx="643.1" cy="432.2" r="2.5" fill="#472b79"/><circle cx="614.9" cy="444.9" r="2.5" fill="#287d8e"/><circle cx="602.5" cy="428.9" r="2.5" fill="#471a6c"/><circle cx="580.2" cy="444.2" r="2.5" fill="#26848d"/><circle cx="618.1" cy="445.7" r="2.5" fill="#2c748e"/><circle cx="619.6" cy="437.0" r="2.5" fill="#482273"/><circle cx="600.7" cy="454.4" r="2.5" fill="#32b47a"/><circle cx="638.7" cy="450.6" r="2.5" fill="#27808d"/><circle cx="649.0" cy="451.5" r="2.5" fill="#238b8c"/><circle cx="632.1" cy="417.6" r="2.5" fill="#440255"/><circle cx="631.4" cy="444.4" r="2.5" fill="#443881"/><circle cx="627.5" cy="447.1" r="2.5" fill="#2d718e"/><circle cx="623.8" cy="417.6" r="2.5" fill="#45085b"/><circle cx="628.9" cy="439.2" r="2.5" fill="#424186"/><circle cx="622.0" cy="442.6" r="2.5" fill="#433a81"/><circle cx="633.3" cy="445.3" r="2.5" fill="#2c748e"/><circle cx="618.3" cy="471.5" r="2.5" fill="#229c88"/><circle cx="628.4" cy="454.4" r="2.5" fill="#25858d"/><circle cx="626.0" cy="448.1" r="2.5" fill="#2b758e"/><circle cx="616.8" cy="446.6" r="2.5" fill="#2d718e"/><circle cx="634.7" cy="431.5" r="2.5" fill="#45307c"/><circle cx="630.2" cy="450.3" r="2.5" fill="#3a558b"/><circle cx="633.9" cy="423.0" r="2.5" fill="#450b5d"/><circle cx="613.0" cy="427.7" r="2.5" fill="#482677"/><circle cx="620.7" cy="427.7" r="2.5" fill="#471c6d"/><circle cx="607.6" cy="426.1" r="2.5" fill="#472c7a"/><circle cx="584.1" cy="437.3" r="2.5" fill="#306c8e"/><circle cx="627.8" cy="435.9" r="2.5" fill="#461567"/><circle cx="613.2" cy="448.4" r="2.5" fill="#2c738e"/><circle cx="643.4" cy="448.3" r="2.5" fill="#26828d"/><circle cx="634.0" cy="423.9" r="2.5" fill="#450659"/><circle cx="639.8" cy="424.6" r="2.5" fill="#45085a"/><circle cx="584.3" cy="447.6" r="2.5" fill="#2a788e"/><circle cx="645.8" cy="443.3" r="2.5" fill="#433b82"/><circle cx="644.6" cy="430.8" r="2.5" fill="#482576"/><circle cx="632.3" cy="456.6" r="2.5" fill="#22a286"/><circle cx="613.5" cy="421.0" r="2.5" fill="#450c5f"/><circle cx="596.2" cy="457.8" r="2.5" fill="#229c88"/><circle cx="644.6" cy="428.7" r="2.5" fill="#440356"/><circle cx="637.4" cy="417.4" r="2.5" fill="#440255"/><circle cx="647.5" cy="436.4" r="2.5" fill="#47196a"/><circle cx="653.1" cy="457.8" r="2.5" fill="#229c88"/><circle cx="608.0" cy="423.0" r="2.5" fill="#461163"/><circle cx="625.2" cy="428.8" r="2.5" fill="#440356"/><circle cx="621.2" cy="422.5" r="2.5" fill="#450659"/><circle cx="622.8" cy="441.7" r="2.5" fill="#424085"/><circle cx="646.0" cy="429.0" r="2.5" fill="#440255"/><circle cx="647.4" cy="470.4" r="2.5" fill="#45327d"/><circle cx="630.8" cy="448.6" r="2.5" fill="#287e8e"/><circle cx="666.8" cy="434.6" r="2.5" fill="#45327d"/><circle cx="645.1" cy="465.8" r="2.5" fill="#45327d"/><circle cx="632.8" cy="439.1" r="2.5" fill="#472a79"/><circle cx="622.9" cy="444.0" r="2.5" fill="#34628d"/><circle cx="617.8" cy="435.0" r="2.5" fill="#471b6d"/><circle cx="646.6" cy="434.1" r="2.5" fill="#3b518a"/><circle cx="619.2" cy="436.5" r="2.5" fill="#482172"/><circle cx="638.0" cy="433.5" r="2.5" fill="#461264"/><circle cx="636.8" cy="421.1" r="2.5" fill="#440457"/><circle cx="625.3" cy="451.5" r="2.5" fill="#228c8c"/><circle cx="645.5" cy="441.7" r="2.5" fill="#443880"/><circle cx="643.0" cy="444.1" r="2.5" fill="#34618d"/><circle cx="638.6" cy="437.9" r="2.5" fill="#433a82"/><circle cx="642.3" cy="429.1" r="2.5" fill="#47186a"/><circle cx="611.6" cy="453.0" r="2.5" fill="#21918c"/><circle cx="613.2" cy="417.4" r="2.5" fill="#440255"/><circle cx="604.4" cy="451.3" r="2.5" fill="#297b8e"/><circle cx="639.0" cy="431.4" r="2.5" fill="#462e7b"/><circle cx="603.2" cy="435.0" r="2.5" fill="#45327d"/><circle cx="618.3" cy="422.8" r="2.5" fill="#440356"/><circle cx="613.7" cy="434.6" r="2.5" fill="#472878"/><circle cx="640.5" cy="422.1" r="2.5" fill="#45085a"/><circle cx="629.4" cy="437.2" r="2.5" fill="#433a82"/><circle cx="645.0" cy="447.4" r="2.5" fill="#3a558b"/><circle cx="618.2" cy="449.1" r="2.5" fill="#25868d"/><circle cx="634.3" cy="449.6" r="2.5" fill="#2d738e"/><circle cx="638.3" cy="451.2" r="2.5" fill="#21918c"/><circle cx="613.6" cy="451.0" r="2.5" fill="#238b8c"/><circle cx="576.8" cy="445.3" r="2.5" fill="#21908c"/><circle cx="608.4" cy="418.5" r="2.5" fill="#472978"/><circle cx="648.1" cy="426.8" r="2.5" fill="#471e6f"/><circle cx="624.2" cy="412.3" r="2.5" fill="#440255"/><circle cx="644.2" cy="429.6" r="2.5" fill="#482374"/><circle cx="653.2" cy="430.5" r="2.5" fill="#47186a"/><circle cx="628.2" cy="454.4" r="2.5" fill="#26838d"/><circle cx="617.4" cy="420.6" r="2.5" fill="#47186a"/><circle cx="641.3" cy="443.1" r="2.5" fill="#424185"/><circle cx="630.0" cy="432.4" r="2.5" fill="#471f70"/><circle cx="634.2" cy="429.8" r="2.5" fill="#461769"/><circle cx="643.2" cy="455.8" r="2.5" fill="#25848d"/><circle cx="626.0" cy="443.2" r="2.5" fill="#25868d"/><circle cx="634.6" cy="451.9" r="2.5" fill="#277f8d"/><circle cx="640.5" cy="431.3" r="2.5" fill="#460f61"/><circle cx="646.3" cy="421.0" r="2.5" fill="#440255"/><circle cx="618.5" cy="419.9" r="2.5" fill="#461567"/><circle cx="652.4" cy="436.1" r="2.5" fill="#471d6f"/><circle cx="634.7" cy="434.6" r="2.5" fill="#450c5f"/><circle cx="624.7" cy="464.7" r="2.5" fill="#43bf71"/><circle cx="646.0" cy="439.2" r="2.5" fill="#471b6c"/><circle cx="635.3" cy="449.2" r="2.5" fill="#297b8e"/><circle cx="637.5" cy="452.0" r="2.5" fill="#238c8c"/><circle cx="628.8" cy="431.6" r="2.5" fill="#472978"/><circle cx="592.8" cy="453.7" r="2.5" fill="#22a884"/><circle cx="627.1" cy="427.3" r="2.5" fill="#450c5e"/><circle cx="626.7" cy="426.7" r="2.5" fill="#47186a"/><circle cx="619.9" cy="433.5" r="2.5" fill="#44367f"/><circle cx="644.2" cy="424.3" r="2.5" fill="#440255"/><circle cx="632.7" cy="441.0" r="2.5" fill="#3d4d89"/><circle cx="609.1" cy="436.4" r="2.5" fill="#482676"/><circle cx="608.7" cy="418.0" r="2.5" fill="#45327d"/><circle cx="622.6" cy="446.0" r="2.5" fill="#23898d"/><circle cx="621.1" cy="435.6" r="2.5" fill="#482374"/><circle cx="638.3" cy="424.8" r="2.5" fill="#461567"/><circle cx="646.3" cy="427.9" r="2.5" fill="#472878"/><circle cx="615.4" cy="428.2" r="2.5" fill="#45347e"/><circle cx="619.7" cy="422.5" r="2.5" fill="#450a5c"/><circle cx="598.5" cy="425.9" r="2.5" fill="#45327d"/><circle cx="603.5" cy="449.2" r="2.5" fill="#27808d"/><circle cx="621.9" cy="448.0" r="2.5" fill="#2b768e"/><circle cx="639.0" cy="451.0" r="2.5" fill="#238a8d"/><circle cx="620.6" cy="437.6" r="2.5" fill="#482676"/><circle cx="629.6" cy="442.1" r="2.5" fill="#461769"/><circle cx="575.7" cy="441.4" r="2.5" fill="#26848d"/><circle cx="637.4" cy="456.2" r="2.5" fill="#26848d"/><circle cx="645.8" cy="428.2" r="2.5" fill="#47196b"/><circle cx="631.3" cy="435.0" r="2.5" fill="#482576"/><circle cx="641.5" cy="443.7" r="2.5" fill="#433b82"/><circle cx="642.3" cy="418.5" r="2.5" fill="#450a5d"/><circle cx="623.9" cy="445.9" r="2.5" fill="#25858d"/><circle cx="627.3" cy="426.8" r="2.5" fill="#461365"/><circle cx="626.3" cy="427.7" r="2.5" fill="#450c5e"/><circle cx="632.7" cy="450.5" r="2.5" fill="#2b758e"/><circle cx="620.5" cy="419.2" r="2.5" fill="#440255"/><circle cx="598.5" cy="464.7" r="2.5" fill="#21908c"/><circle cx="657.8" cy="433.4" r="2.5" fill="#45337e"/><circle cx="626.2" cy="449.5" r="2.5" fill="#24878d"/><circle cx="626.0" cy="445.9" r="2.5" fill="#2e6e8e"/><circle cx="638.8" cy="432.6" r="2.5" fill="#461063"/><circle cx="609.0" cy="430.2" r="2.5" fill="#45317d"/><circle cx="613.0" cy="446.9" r="2.5" fill="#2e708e"/><circle cx="606.3" cy="420.7" r="2.5" fill="#440255"/><circle cx="619.1" cy="422.6" r="2.5" fill="#461264"/><circle cx="639.2" cy="432.4" r="2.5" fill="#462e7b"/><circle cx="628.4" cy="427.8" r="2.5" fill="#47196b"/><circle cx="645.9" cy="432.4" r="2.5" fill="#450b5d"/><circle cx="661.3" cy="428.8" r="2.5" fill="#440558"/><circle cx="649.1" cy="426.8" r="2.5" fill="#460f61"/><circle cx="595.0" cy="449.2" r="2.5" fill="#21908c"/><circle cx="655.0" cy="418.9" r="2.5" fill="#45095b"/><circle cx="615.2" cy="423.0" r="2.5" fill="#440457"/><circle cx="627.8" cy="449.5" r="2.5" fill="#375b8c"/><circle cx="625.6" cy="417.7" r="2.5" fill="#440255"/><circle cx="623.5" cy="426.0" r="2.5" fill="#471e6f"/><circle cx="646.4" cy="448.4" r="2.5" fill="#2f6e8e"/><circle cx="633.2" cy="442.2" r="2.5" fill="#2e6f8e"/><circle cx="621.1" cy="452.5" r="2.5" fill="#2d718e"/><circle cx="637.2" cy="415.0" r="2.5" fill="#482173"/><circle cx="633.0" cy="444.3" r="2.5" fill="#27808d"/><circle cx="632.6" cy="438.9" r="2.5" fill="#3f4888"/><circle cx="617.2" cy="432.2" r="2.5" fill="#47196b"/><circle cx="613.8" cy="446.9" r="2.5" fill="#3e4c89"/><circle cx="618.9" cy="428.1" r="2.5" fill="#440255"/><circle cx="607.6" cy="460.6" r="2.5" fill="#43bf71"/><circle cx="623.4" cy="415.2" r="2.5" fill="#440255"/><circle cx="631.7" cy="436.3" r="2.5" fill="#462c7a"/><circle cx="639.4" cy="438.5" r="2.5" fill="#482677"/><circle cx="610.6" cy="430.9" r="2.5" fill="#45075a"/><circle cx="629.2" cy="429.8" r="2.5" fill="#47186a"/><circle cx="639.8" cy="417.9" r="2.5" fill="#461365"/><circle cx="644.8" cy="434.1" r="2.5" fill="#45307c"/><circle cx="631.5" cy="439.9" r="2.5" fill="#3e4a88"/><circle cx="635.5" cy="416.0" r="2.5" fill="#45095b"/><circle cx="631.2" cy="429.0" r="2.5" fill="#450b5e"/><circle cx="641.8" cy="442.7" r="2.5" fill="#472b79"/><circle cx="640.7" cy="436.9" r="2.5" fill="#462c7a"/><circle cx="650.7" cy="449.2" r="2.5" fill="#297a8e"/><circle cx="638.3" cy="452.4" r="2.5" fill="#228c8c"/><circle cx="640.7" cy="434.6" r="2.5" fill="#3f4988"/><circle cx="642.7" cy="434.6" r="2.5" fill="#471e6f"/><circle cx="631.3" cy="441.1" r="2.5" fill="#45307c"/><circle cx="635.3" cy="440.8" r="2.5" fill="#34628d"/><circle cx="624.8" cy="432.1" r="2.5" fill="#472a79"/><circle cx="633.5" cy="434.1" r="2.5" fill="#482677"/><circle cx="622.8" cy="424.9" r="2.5" fill="#461163"/><circle cx="592.3" cy="437.8" r="2.5" fill="#306c8e"/><circle cx="614.7" cy="428.0" r="2.5" fill="#461365"/><circle cx="631.5" cy="431.2" r="2.5" fill="#450d5f"/><circle cx="648.8" cy="423.5" r="2.5" fill="#440255"/><circle cx="658.8" cy="433.9" r="2.5" fill="#45095c"/><circle cx="647.2" cy="438.8" r="2.5" fill="#414386"/><circle cx="629.5" cy="433.6" r="2.5" fill="#414286"/><circle cx="645.8" cy="430.8" r="2.5" fill="#450658"/><circle cx="603.0" cy="461.3" r="2.5" fill="#43bf71"/><circle cx="649.4" cy="417.1" r="2.5" fill="#440255"/><circle cx="649.2" cy="428.2" r="2.5" fill="#450e61"/><circle cx="640.0" cy="434.4" r="2.5" fill="#461264"/><circle cx="658.8" cy="429.4" r="2.5" fill="#45327d"/><circle cx="633.1" cy="442.5" r="2.5" fill="#433d83"/><circle cx="631.5" cy="415.0" r="2.5" fill="#45327d"/><circle cx="614.8" cy="423.9" r="2.5" fill="#440255"/><circle cx="629.5" cy="459.1" r="2.5" fill="#21918c"/><circle cx="630.1" cy="418.8" r="2.5" fill="#440255"/><circle cx="625.9" cy="446.7" r="2.5" fill="#2e708e"/><circle cx="607.8" cy="435.7" r="2.5" fill="#462c7a"/><circle cx="642.3" cy="457.4" r="2.5" fill="#229f87"/><circle cx="652.4" cy="454.4" r="2.5" fill="#22a087"/><circle cx="627.6" cy="451.8" r="2.5" fill="#21938b"/><circle cx="631.7" cy="446.5" r="2.5" fill="#24888d"/><circle cx="615.3" cy="425.2" r="2.5" fill="#461567"/><circle cx="613.7" cy="435.3" r="2.5" fill="#482475"/><circle cx="636.7" cy="444.6" r="2.5" fill="#462c7a"/><circle cx="626.9" cy="415.0" r="2.5" fill="#45327d"/><circle cx="638.8" cy="427.7" r="2.5" fill="#461667"/><circle cx="638.6" cy="433.0" r="2.5" fill="#471c6d"/><circle cx="626.8" cy="430.1" r="2.5" fill="#461466"/><circle cx="605.8" cy="428.1" r="2.5" fill="#440557"/><circle cx="635.1" cy="441.7" r="2.5" fill="#433b82"/><circle cx="631.1" cy="416.8" r="2.5" fill="#450e61"/><circle cx="614.4" cy="420.9" r="2.5" fill="#45327d"/><circle cx="664.5" cy="436.2" r="2.5" fill="#404587"/><circle cx="661.3" cy="425.9" r="2.5" fill="#461365"/><circle cx="628.1" cy="440.7" r="2.5" fill="#461365"/><circle cx="622.1" cy="422.2" r="2.5" fill="#440255"/><circle cx="626.8" cy="428.7" r="2.5" fill="#461062"/><circle cx="640.8" cy="435.0" r="2.5" fill="#461769"/><circle cx="630.9" cy="459.9" r="2.5" fill="#229f87"/><circle cx="638.6" cy="452.0" r="2.5" fill="#21908c"/><circle cx="640.4" cy="422.7" r="2.5" fill="#45095b"/><circle cx="625.0" cy="422.3" r="2.5" fill="#450c5f"/><circle cx="641.0" cy="429.3" r="2.5" fill="#443880"/><circle cx="627.2" cy="433.0" r="2.5" fill="#461567"/><circle cx="632.1" cy="413.0" r="2.5" fill="#440255"/><circle cx="646.6" cy="430.1" r="2.5" fill="#461365"/><circle cx="570.4" cy="440.1" r="2.5" fill="#2a788e"/><circle cx="646.0" cy="427.8" r="2.5" fill="#471f70"/><circle cx="619.4" cy="457.2" r="2.5" fill="#27808d"/><circle cx="631.7" cy="450.0" r="2.5" fill="#27808d"/><circle cx="621.5" cy="451.9" r="2.5" fill="#21928b"/><circle cx="642.5" cy="438.5" r="2.5" fill="#45085b"/><circle cx="638.4" cy="423.7" r="2.5" fill="#440255"/><circle cx="636.5" cy="432.8" r="2.5" fill="#471a6b"/><circle cx="627.1" cy="425.5" r="2.5" fill="#461769"/><circle cx="642.9" cy="441.0" r="2.5" fill="#433b82"/><circle cx="615.3" cy="438.5" r="2.5" fill="#433b82"/><circle cx="617.8" cy="452.2" r="2.5" fill="#22a286"/><circle cx="629.4" cy="425.2" r="2.5" fill="#450e60"/><circle cx="629.2" cy="450.7" r="2.5" fill="#287e8e"/><circle cx="640.7" cy="436.1" r="2.5" fill="#443981"/><circle cx="622.1" cy="432.3" r="2.5" fill="#461769"/><circle cx="604.8" cy="448.9" r="2.5" fill="#27808d"/><circle cx="629.6" cy="453.8" r="2.5" fill="#297a8e"/><circle cx="623.3" cy="440.0" r="2.5" fill="#471f70"/><circle cx="629.8" cy="449.1" r="2.5" fill="#39588b"/><circle cx="625.6" cy="436.5" r="2.5" fill="#471b6d"/><circle cx="640.2" cy="449.9" r="2.5" fill="#287e8e"/><circle cx="624.2" cy="422.8" r="2.5" fill="#440255"/><circle cx="609.9" cy="441.6" r="2.5" fill="#462f7c"/><circle cx="573.4" cy="446.9" r="2.5" fill="#43bf71"/><circle cx="651.1" cy="444.5" r="2.5" fill="#433981"/><circle cx="620.3" cy="449.7" r="2.5" fill="#2a788e"/><circle cx="633.4" cy="459.2" r="2.5" fill="#22a485"/><circle cx="566.6" cy="437.3" r="2.5" fill="#306c8e"/><circle cx="646.3" cy="446.4" r="2.5" fill="#2a798e"/><circle cx="623.5" cy="435.7" r="2.5" fill="#482475"/><circle cx="621.8" cy="429.3" r="2.5" fill="#482777"/><circle cx="628.3" cy="438.4" r="2.5" fill="#472878"/><circle cx="631.1" cy="430.1" r="2.5" fill="#450a5c"/><circle cx="625.8" cy="424.6" r="2.5" fill="#440255"/><circle cx="633.5" cy="439.4" r="2.5" fill="#462d7a"/><circle cx="643.2" cy="447.4" r="2.5" fill="#2d728e"/><circle cx="614.7" cy="452.0" r="2.5" fill="#27818d"/><circle cx="634.1" cy="439.7" r="2.5" fill="#462c7a"/><circle cx="635.9" cy="430.3" r="2.5" fill="#471d6e"/><circle cx="649.2" cy="417.5" r="2.5" fill="#440457"/><circle cx="641.7" cy="435.2" r="2.5" fill="#471c6e"/><circle cx="588.7" cy="437.8" r="2.5" fill="#306c8e"/><circle cx="598.0" cy="445.7" r="2.5" fill="#2f6c8e"/><circle cx="627.4" cy="446.1" r="2.5" fill="#277f8d"/><circle cx="610.3" cy="423.2" r="2.5" fill="#440255"/><circle cx="630.5" cy="427.2" r="2.5" fill="#461163"/><circle cx="614.4" cy="415.0" r="2.5" fill="#45327d"/></g>
<path d="M623.65 498.91V410.91" stroke="#000" stroke-width="1.07" stroke-dasharray="4.5 3.8" fill="none"/>
<path d="M567.26 444.18L666.78 434.61" stroke="#3d3d3d" stroke-width="1.75" fill="none"/>
<g font-size="9.1" fill="#000"><text x="532.65" y="479.41">r</text><text x="537.05" y="479.41">=</text><text x="544.25" y="479.41">0.15</text><text x="532.65" y="487.41">β</text><text x="540.55" y="487.41">=</text><text x="546.95" y="487.41">0.05</text><text x="532.65" y="496.71">α</text><text x="540.55" y="496.71">=</text><text x="546.95" y="496.71">0.71</text></g>
<rect x="529.75" y="410.91" width="155.00" height="88.00" fill="none" stroke="#555" stroke-width="1.1"/>
<rect x="529.75" y="390.91" width="155.00" height="20.00" fill="#D9D9D9" stroke="#555" stroke-width="1.1"/>
<path d="M529.75 411.71H684.75" stroke="#8a8a8a" stroke-width="1.2"/>
<text x="607.25" y="406.11" font-size="12.75" fill="#1A1A1A" text-anchor="middle">Cluster 16</text>
<text transform="translate(532.35 512.6) scale(1 1.08)" font-size="12.3" fill="#4D4D4D" text-anchor="middle">−2</text>
<text transform="translate(578.00 512.6) scale(1 1.08)" font-size="12.3" fill="#4D4D4D" text-anchor="middle">−1</text>
<text transform="translate(623.65 512.6) scale(1 1.08)" font-size="12.3" fill="#4D4D4D" text-anchor="middle">0</text>
<text transform="translate(669.30 512.6) scale(1 1.08)" font-size="12.3" fill="#4D4D4D" text-anchor="middle">1</text>
<path d="M532.35 498.91V502.11M578.00 498.91V502.11M623.65 498.91V502.11M669.30 498.91V502.11" stroke="#555" stroke-width="1.07"/>
</g>
<text transform="translate(317.30 533.50) scale(1 1.1)" font-size="15.3" fill="#000">Δ</text>
<text transform="translate(326.10 533.50) scale(1 1.1)" font-size="15.3" fill="#000" letter-spacing="1.0">SOC</text>
<text transform="translate(364.80 533.50) scale(1 1.1)" font-size="15.3" fill="#000">/</text>
<text transform="translate(373.40 533.50) scale(1 1.1)" font-size="15.3" fill="#000">g</text>
<text transform="translate(387.00 533.50) scale(1 1.1)" font-size="15.3" fill="#000" letter-spacing="1.0">kg</text>
<text transform="translate(403.20 525.60) scale(1 1.08)" font-size="10.2" fill="#000" letter-spacing="0.9">−1</text>
<text transform="translate(11.9 284.5) rotate(-90)" font-size="15.7" text-anchor="middle" fill="#000">MAOC:SOC ratio</text>
<text transform="translate(276.60 23.00) scale(1 1.1)" font-size="15.3" fill="#000" letter-spacing="1.0">POC</text>
<text transform="translate(315.00 23.00) scale(1 1.1)" font-size="15.3" fill="#000">/</text>
<text transform="translate(323.80 23.00) scale(1 1.1)" font-size="15.3" fill="#000">g</text>
<text transform="translate(336.70 23.00) scale(1 1.1)" font-size="15.3" fill="#000" letter-spacing="1.0">kg</text>
<text transform="translate(353.30 15.20) scale(1 1.08)" font-size="10.2" fill="#000" letter-spacing="0.9">−1</text>
<rect x="370.4" y="0" width="85.7" height="16.8" fill="url(#vg)"/>
<text x="393.60" y="31.6" font-size="12" fill="#000" text-anchor="middle">10</text>
<text x="416.25" y="31.6" font-size="12" fill="#000" text-anchor="middle">20</text>
<text x="438.90" y="31.6" font-size="12" fill="#000" text-anchor="middle">30</text>
<path d="M393.60 0V3.3M393.60 13.5V16.8M416.25 0V3.3M416.25 13.5V16.8M438.90 0V3.3M438.90 13.5V16.8" stroke="#fff" stroke-opacity="0.8" stroke-width="1"/>
</svg></body></html>
